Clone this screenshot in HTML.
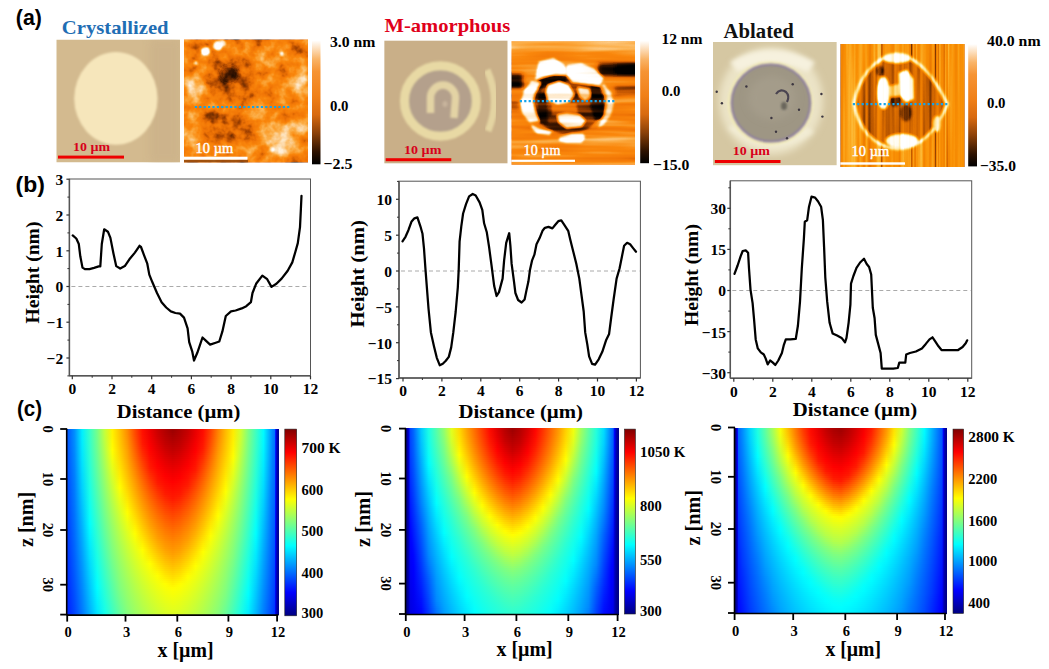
<!DOCTYPE html>
<html><head><meta charset="utf-8"><style>
html,body{margin:0;padding:0;background:#fff;}
#root{position:relative;width:1049px;height:669px;overflow:hidden;background:#fff;}
svg{position:absolute;left:0;top:0;}
</style></head><body><div id="root">
<div style="position:absolute;left:67.2px;top:429.0px;width:211.6px;height:2.6px;background:linear-gradient(90deg,#0052ff 0.00px,#0090ff 7.56px,#00f0ff 15.11px,#36ffc9 22.67px,#76ff89 30.23px,#c4ff3b 37.79px,#fff200 45.34px,#ffc100 52.90px,#ff8b00 60.46px,#ff4900 68.01px,#ff0f00 75.57px,#ec0000 83.13px,#ca0000 90.69px,#b20000 98.24px,#9c0000 105.80px,#af0000 113.36px,#c60000 120.91px,#e80000 128.47px,#ff0b00 136.03px,#ff4000 143.59px,#ff8200 151.14px,#ffbb00 158.70px,#ffeb00 166.26px,#cfff30 173.81px,#7fff80 181.37px,#3fffc0 188.93px,#00fcff 196.49px,#009cff 204.04px,#0088ff 205.60px,#0076ff 207.60px,#0011ff 208.60px,#0000cb 209.60px,#0000a3 210.60px,#000095 211.60px)"></div>
<div style="position:absolute;left:67.2px;top:431.0px;width:211.6px;height:2.6px;background:linear-gradient(90deg,#0052ff 0.00px,#008fff 7.56px,#00efff 15.11px,#36ffc9 22.67px,#76ff89 30.23px,#c4ff3b 37.79px,#fff300 45.34px,#ffc200 52.90px,#ff8c00 60.46px,#ff4a00 68.01px,#ff1000 75.57px,#ed0000 83.13px,#cc0000 90.69px,#b30000 98.24px,#9f0000 105.80px,#b10000 113.36px,#c70000 120.91px,#e90000 128.47px,#ff0c00 136.03px,#ff4100 143.59px,#ff8300 151.14px,#ffbb00 158.70px,#ffec00 166.26px,#ceff31 173.81px,#7eff81 181.37px,#3effc1 188.93px,#00fcff 196.49px,#009cff 204.04px,#0088ff 205.60px,#0076ff 207.60px,#0011ff 208.60px,#0000cb 209.60px,#0000a3 210.60px,#000095 211.60px)"></div>
<div style="position:absolute;left:67.2px;top:433.0px;width:211.6px;height:2.6px;background:linear-gradient(90deg,#0052ff 0.00px,#008fff 7.56px,#00efff 15.11px,#35ffca 22.67px,#75ff8a 30.23px,#c3ff3c 37.79px,#fff300 45.34px,#ffc300 52.90px,#ff8d00 60.46px,#ff4b00 68.01px,#ff1100 75.57px,#ef0000 83.13px,#ce0000 90.69px,#b50000 98.24px,#a30000 105.80px,#b30000 113.36px,#c90000 120.91px,#ea0000 128.47px,#ff0d00 136.03px,#ff4300 143.59px,#ff8500 151.14px,#ffbc00 158.70px,#ffed00 166.26px,#cdff32 173.81px,#7eff81 181.37px,#3effc1 188.93px,#00fcff 196.49px,#009cff 204.04px,#0088ff 205.60px,#0076ff 207.60px,#0011ff 208.60px,#0000cb 209.60px,#0000a3 210.60px,#000095 211.60px)"></div>
<div style="position:absolute;left:67.2px;top:435.0px;width:211.6px;height:2.6px;background:linear-gradient(90deg,#0052ff 0.00px,#008fff 7.56px,#00eeff 15.11px,#35ffca 22.67px,#75ff8a 30.23px,#c1ff3e 37.79px,#fff400 45.34px,#ffc400 52.90px,#ff8f00 60.46px,#ff4d00 68.01px,#ff1300 75.57px,#f10000 83.13px,#d00000 90.69px,#b80000 98.24px,#a70000 105.80px,#b50000 113.36px,#cc0000 120.91px,#ec0000 128.47px,#ff0e00 136.03px,#ff4500 143.59px,#ff8600 151.14px,#ffbd00 158.70px,#ffee00 166.26px,#ccff33 173.81px,#7dff82 181.37px,#3dffc2 188.93px,#00fbff 196.49px,#009bff 204.04px,#0087ff 205.60px,#0076ff 207.60px,#0011ff 208.60px,#0000cb 209.60px,#0000a2 210.60px,#000095 211.60px)"></div>
<div style="position:absolute;left:67.2px;top:437.0px;width:211.6px;height:2.6px;background:linear-gradient(90deg,#0052ff 0.00px,#008eff 7.56px,#00eeff 15.11px,#34ffcb 22.67px,#74ff8b 30.23px,#c0ff3f 37.79px,#fff500 45.34px,#ffc500 52.90px,#ff9100 60.46px,#ff5000 68.01px,#ff1400 75.57px,#f30000 83.13px,#d30000 90.69px,#bb0000 98.24px,#ab0000 105.80px,#b80000 113.36px,#cf0000 120.91px,#ee0000 128.47px,#ff1000 136.03px,#ff4700 143.59px,#ff8800 151.14px,#ffbe00 158.70px,#ffef00 166.26px,#cbff34 173.81px,#7dff82 181.37px,#3dffc2 188.93px,#00faff 196.49px,#009bff 204.04px,#0087ff 205.60px,#0075ff 207.60px,#0011ff 208.60px,#0000ca 209.60px,#0000a2 210.60px,#000095 211.60px)"></div>
<div style="position:absolute;left:67.2px;top:439.0px;width:211.6px;height:2.6px;background:linear-gradient(90deg,#0052ff 0.00px,#008eff 7.56px,#00edff 15.11px,#34ffcb 22.67px,#73ff8c 30.23px,#bfff40 37.79px,#fff700 45.34px,#ffc600 52.90px,#ff9300 60.46px,#ff5200 68.01px,#ff1600 75.57px,#f50000 83.13px,#d60000 90.69px,#bd0000 98.24px,#ae0000 105.80px,#bb0000 113.36px,#d20000 120.91px,#f10000 128.47px,#ff1100 136.03px,#ff4a00 143.59px,#ff8a00 151.14px,#ffc000 158.70px,#fff000 166.26px,#c9ff36 173.81px,#7cff83 181.37px,#3cffc3 188.93px,#00faff 196.49px,#009aff 204.04px,#0087ff 205.60px,#0075ff 207.60px,#0011ff 208.60px,#0000ca 209.60px,#0000a2 210.60px,#000095 211.60px)"></div>
<div style="position:absolute;left:67.2px;top:441.0px;width:211.6px;height:2.6px;background:linear-gradient(90deg,#0051ff 0.00px,#008dff 7.56px,#00ecff 15.11px,#33ffcc 22.67px,#73ff8c 30.23px,#bdff42 37.79px,#fff800 45.34px,#ffc800 52.90px,#ff9500 60.46px,#ff5500 68.01px,#ff1700 75.57px,#f70000 83.13px,#d90000 90.69px,#c00000 98.24px,#b20000 105.80px,#be0000 113.36px,#d50000 120.91px,#f30000 128.47px,#ff1300 136.03px,#ff4c00 143.59px,#ff8c00 151.14px,#ffc100 158.70px,#fff200 166.26px,#c7ff38 173.81px,#7bff84 181.37px,#3bffc4 188.93px,#00f9ff 196.49px,#009aff 204.04px,#0086ff 205.60px,#0075ff 207.60px,#0010ff 208.60px,#0000ca 209.60px,#0000a2 210.60px,#000095 211.60px)"></div>
<div style="position:absolute;left:67.2px;top:443.0px;width:211.6px;height:2.6px;background:linear-gradient(90deg,#0051ff 0.00px,#008dff 7.56px,#00ebff 15.11px,#32ffcd 22.67px,#72ff8d 30.23px,#bbff44 37.79px,#fffa00 45.34px,#ffc900 52.90px,#ff9700 60.46px,#ff5800 68.01px,#ff1900 75.57px,#fa0000 83.13px,#dc0000 90.69px,#c30000 98.24px,#b60000 105.80px,#c10000 113.36px,#d90000 120.91px,#f60000 128.47px,#ff1500 136.03px,#ff4f00 143.59px,#ff8f00 151.14px,#ffc300 158.70px,#fff300 166.26px,#c6ff39 173.81px,#7aff85 181.37px,#3bffc4 188.93px,#00f8ff 196.49px,#0099ff 204.04px,#0085ff 205.60px,#0075ff 207.60px,#0010ff 208.60px,#0000ca 209.60px,#0000a2 210.60px,#000095 211.60px)"></div>
<div style="position:absolute;left:67.2px;top:445.0px;width:211.6px;height:2.6px;background:linear-gradient(90deg,#0051ff 0.00px,#008cff 7.56px,#00eaff 15.11px,#31ffce 22.67px,#71ff8e 30.23px,#baff45 37.79px,#fffb00 45.34px,#ffcb00 52.90px,#ff9a00 60.46px,#ff5b00 68.01px,#ff1d00 75.57px,#fc0000 83.13px,#e00000 90.69px,#c70000 98.24px,#ba0000 105.80px,#c40000 113.36px,#dc0000 120.91px,#f80000 128.47px,#ff1700 136.03px,#ff5200 143.59px,#ff9100 151.14px,#ffc500 158.70px,#fff500 166.26px,#c4ff3b 173.81px,#79ff86 181.37px,#3affc5 188.93px,#00f7ff 196.49px,#0098ff 204.04px,#0085ff 205.60px,#0074ff 207.60px,#0010ff 208.60px,#0000ca 209.60px,#0000a2 210.60px,#000095 211.60px)"></div>
<div style="position:absolute;left:67.2px;top:447.0px;width:211.6px;height:2.6px;background:linear-gradient(90deg,#0050ff 0.00px,#008bff 7.56px,#00e9ff 15.11px,#31ffce 22.67px,#70ff8f 30.23px,#b8ff47 37.79px,#fffd00 45.34px,#ffcd00 52.90px,#ff9c00 60.46px,#ff5e00 68.01px,#ff2100 75.57px,#ff0000 83.13px,#e30000 90.69px,#cb0000 98.24px,#be0000 105.80px,#c80000 113.36px,#df0000 120.91px,#fb0000 128.47px,#ff1900 136.03px,#ff5600 143.59px,#ff9400 151.14px,#ffc600 158.70px,#fff700 166.26px,#c2ff3d 173.81px,#78ff87 181.37px,#39ffc6 188.93px,#00f6ff 196.49px,#0098ff 204.04px,#0084ff 205.60px,#0074ff 207.60px,#0010ff 208.60px,#0000ca 209.60px,#0000a2 210.60px,#000095 211.60px)"></div>
<div style="position:absolute;left:67.2px;top:449.0px;width:211.6px;height:2.6px;background:linear-gradient(90deg,#0050ff 0.00px,#008bff 7.56px,#00e8ff 15.11px,#30ffcf 22.67px,#6fff90 30.23px,#b6ff49 37.79px,#ffff00 45.34px,#ffcf00 52.90px,#ff9f00 60.46px,#ff6100 68.01px,#ff2500 75.57px,#ff0200 83.13px,#e60000 90.69px,#cf0000 98.24px,#c10000 105.80px,#cc0000 113.36px,#e30000 120.91px,#fd0000 128.47px,#ff1d00 136.03px,#ff5900 143.59px,#ff9600 151.14px,#ffc800 158.70px,#fff800 166.26px,#c0ff3f 173.81px,#77ff88 181.37px,#38ffc7 188.93px,#00f5ff 196.49px,#0097ff 204.04px,#0084ff 205.60px,#0074ff 207.60px,#0010ff 208.60px,#0000ca 209.60px,#0000a2 210.60px,#000095 211.60px)"></div>
<div style="position:absolute;left:67.2px;top:451.0px;width:211.6px;height:2.6px;background:linear-gradient(90deg,#0050ff 0.00px,#008aff 7.56px,#00e7ff 15.11px,#2fffd0 22.67px,#6eff91 30.23px,#b4ff4b 37.79px,#fcff03 45.34px,#ffd100 52.90px,#ffa100 60.46px,#ff6400 68.01px,#ff2900 75.57px,#ff0500 83.13px,#ea0000 90.69px,#d30000 98.24px,#c50000 105.80px,#d10000 113.36px,#e60000 120.91px,#ff0100 128.47px,#ff2100 136.03px,#ff5c00 143.59px,#ff9900 151.14px,#ffca00 158.70px,#fffa00 166.26px,#beff41 173.81px,#76ff89 181.37px,#37ffc8 188.93px,#00f4ff 196.49px,#0096ff 204.04px,#0083ff 205.60px,#0073ff 207.60px,#000fff 208.60px,#0000ca 209.60px,#0000a2 210.60px,#000095 211.60px)"></div>
<div style="position:absolute;left:67.2px;top:453.0px;width:211.6px;height:2.6px;background:linear-gradient(90deg,#004fff 0.00px,#0089ff 7.56px,#00e6ff 15.11px,#2effd1 22.67px,#6cff93 30.23px,#b2ff4d 37.79px,#faff05 45.34px,#ffd300 52.90px,#ffa300 60.46px,#ff6800 68.01px,#ff2d00 75.57px,#ff0700 83.13px,#ed0000 90.69px,#d70000 98.24px,#c90000 105.80px,#d50000 113.36px,#ea0000 120.91px,#ff0400 128.47px,#ff2500 136.03px,#ff6000 143.59px,#ff9c00 151.14px,#ffcc00 158.70px,#fffc00 166.26px,#bcff43 173.81px,#75ff8a 181.37px,#36ffc9 188.93px,#00f2ff 196.49px,#0095ff 204.04px,#0082ff 205.60px,#0073ff 207.60px,#000fff 208.60px,#0000ca 209.60px,#0000a2 210.60px,#000095 211.60px)"></div>
<div style="position:absolute;left:67.2px;top:455.0px;width:211.6px;height:2.6px;background:linear-gradient(90deg,#004fff 0.00px,#0088ff 7.56px,#00e5ff 15.11px,#2dffd2 22.67px,#6bff94 30.23px,#b0ff4f 37.79px,#f7ff08 45.34px,#ffd500 52.90px,#ffa500 60.46px,#ff6b00 68.01px,#ff3100 75.57px,#ff0a00 83.13px,#f00000 90.69px,#db0000 98.24px,#ce0000 105.80px,#d90000 113.36px,#ed0000 120.91px,#ff0700 128.47px,#ff2a00 136.03px,#ff6400 143.59px,#ff9f00 151.14px,#ffce00 158.70px,#fffe00 166.26px,#baff45 173.81px,#73ff8c 181.37px,#35ffca 188.93px,#00f1ff 196.49px,#0095ff 204.04px,#0081ff 205.60px,#0072ff 207.60px,#000fff 208.60px,#0000ca 209.60px,#0000a2 210.60px,#000095 211.60px)"></div>
<div style="position:absolute;left:67.2px;top:457.0px;width:211.6px;height:2.6px;background:linear-gradient(90deg,#004eff 0.00px,#0088ff 7.56px,#00e4ff 15.11px,#2cffd3 22.67px,#6aff95 30.23px,#aeff51 37.79px,#f4ff0b 45.34px,#ffd700 52.90px,#ffa700 60.46px,#ff6f00 68.01px,#ff3600 75.57px,#ff0d00 83.13px,#f30000 90.69px,#df0000 98.24px,#d20000 105.80px,#dd0000 113.36px,#f00000 120.91px,#ff0900 128.47px,#ff2e00 136.03px,#ff6700 143.59px,#ffa100 151.14px,#ffd100 158.70px,#fdff02 166.26px,#b7ff48 173.81px,#72ff8d 181.37px,#34ffcb 188.93px,#00f0ff 196.49px,#0094ff 204.04px,#0081ff 205.60px,#0072ff 207.60px,#000fff 208.60px,#0000c9 209.60px,#0000a2 210.60px,#000095 211.60px)"></div>
<div style="position:absolute;left:67.2px;top:459.0px;width:211.6px;height:2.6px;background:linear-gradient(90deg,#004eff 0.00px,#0087ff 7.56px,#00e3ff 15.11px,#2bffd4 22.67px,#69ff96 30.23px,#acff53 37.79px,#f1ff0e 45.34px,#ffd900 52.90px,#ffaa00 60.46px,#ff7200 68.01px,#ff3a00 75.57px,#ff0f00 83.13px,#f70000 90.69px,#e30000 98.24px,#d70000 105.80px,#e10000 113.36px,#f40000 120.91px,#ff0c00 128.47px,#ff3300 136.03px,#ff6b00 143.59px,#ffa400 151.14px,#ffd300 158.70px,#faff05 166.26px,#b5ff4a 173.81px,#71ff8e 181.37px,#33ffcc 188.93px,#00efff 196.49px,#0093ff 204.04px,#0080ff 205.60px,#0072ff 207.60px,#000eff 208.60px,#0000c9 209.60px,#0000a2 210.60px,#000095 211.60px)"></div>
<div style="position:absolute;left:67.2px;top:461.0px;width:211.6px;height:2.6px;background:linear-gradient(90deg,#004eff 0.00px,#0086ff 7.56px,#00e1ff 15.11px,#2affd5 22.67px,#67ff98 30.23px,#aaff55 37.79px,#eeff11 45.34px,#ffdc00 52.90px,#ffac00 60.46px,#ff7600 68.01px,#ff3f00 75.57px,#ff1200 83.13px,#fa0000 90.69px,#e70000 98.24px,#db0000 105.80px,#e50000 113.36px,#f70000 120.91px,#ff0f00 128.47px,#ff3700 136.03px,#ff6f00 143.59px,#ffa600 151.14px,#ffd500 158.70px,#f7ff08 166.26px,#b3ff4c 173.81px,#70ff8f 181.37px,#32ffcd 188.93px,#00edff 196.49px,#0092ff 204.04px,#007fff 205.60px,#0071ff 207.60px,#000eff 208.60px,#0000c9 209.60px,#0000a2 210.60px,#000095 211.60px)"></div>
<div style="position:absolute;left:67.2px;top:463.0px;width:211.6px;height:2.6px;background:linear-gradient(90deg,#004dff 0.00px,#0085ff 7.56px,#00e0ff 15.11px,#29ffd6 22.67px,#66ff99 30.23px,#a8ff57 37.79px,#ebff14 45.34px,#ffde00 52.90px,#ffaf00 60.46px,#ff7a00 68.01px,#ff4300 75.57px,#ff1500 83.13px,#fd0000 90.69px,#ea0000 98.24px,#df0000 105.80px,#e80000 113.36px,#fa0000 120.91px,#ff1100 128.47px,#ff3c00 136.03px,#ff7200 143.59px,#ffa900 151.14px,#ffd800 158.70px,#f3ff0c 166.26px,#b1ff4e 173.81px,#6eff91 181.37px,#31ffce 188.93px,#00ecff 196.49px,#0091ff 204.04px,#007fff 205.60px,#0071ff 207.60px,#000eff 208.60px,#0000c9 209.60px,#0000a2 210.60px,#000095 211.60px)"></div>
<div style="position:absolute;left:67.2px;top:465.0px;width:211.6px;height:2.6px;background:linear-gradient(90deg,#004dff 0.00px,#0084ff 7.56px,#00dfff 15.11px,#28ffd7 22.67px,#65ff9a 30.23px,#a6ff59 37.79px,#e8ff17 45.34px,#ffe100 52.90px,#ffb200 60.46px,#ff7d00 68.01px,#ff4700 75.57px,#ff1700 83.13px,#ff0100 90.69px,#ee0000 98.24px,#e30000 105.80px,#ec0000 113.36px,#fd0000 120.91px,#ff1400 128.47px,#ff4100 136.03px,#ff7600 143.59px,#ffab00 151.14px,#ffda00 158.70px,#f0ff0f 166.26px,#afff50 173.81px,#6dff92 181.37px,#30ffcf 188.93px,#00ebff 196.49px,#0090ff 204.04px,#007eff 205.60px,#0070ff 207.60px,#000dff 208.60px,#0000c9 209.60px,#0000a2 210.60px,#000095 211.60px)"></div>
<div style="position:absolute;left:67.2px;top:467.0px;width:211.6px;height:2.6px;background:linear-gradient(90deg,#004cff 0.00px,#0083ff 7.56px,#00ddff 15.11px,#26ffd9 22.67px,#63ff9c 30.23px,#a4ff5b 37.79px,#e5ff1a 45.34px,#ffe300 52.90px,#ffb400 60.46px,#ff8100 68.01px,#ff4c00 75.57px,#ff1a00 83.13px,#ff0400 90.69px,#f20000 98.24px,#e70000 105.80px,#f00000 113.36px,#ff0200 120.91px,#ff1700 128.47px,#ff4500 136.03px,#ff7a00 143.59px,#ffae00 151.14px,#ffdd00 158.70px,#edff12 166.26px,#acff53 173.81px,#6bff94 181.37px,#2effd1 188.93px,#00e9ff 196.49px,#008fff 204.04px,#007eff 205.60px,#0070ff 207.60px,#000dff 208.60px,#0000c9 209.60px,#0000a2 210.60px,#000095 211.60px)"></div>
<div style="position:absolute;left:67.2px;top:469.0px;width:211.6px;height:2.6px;background:linear-gradient(90deg,#004cff 0.00px,#0082ff 7.56px,#00dcff 15.11px,#25ffda 22.67px,#62ff9d 30.23px,#a1ff5e 37.79px,#e2ff1d 45.34px,#ffe600 52.90px,#ffb700 60.46px,#ff8500 68.01px,#ff5000 75.57px,#ff1f00 83.13px,#ff0700 90.69px,#f50000 98.24px,#eb0000 105.80px,#f30000 113.36px,#ff0500 120.91px,#ff1900 128.47px,#ff4a00 136.03px,#ff7e00 143.59px,#ffb100 151.14px,#ffe000 158.70px,#eaff15 166.26px,#aaff55 173.81px,#6aff95 181.37px,#2dffd2 188.93px,#00e8ff 196.49px,#008eff 204.04px,#007dff 205.60px,#006fff 207.60px,#000dff 208.60px,#0000c8 209.60px,#0000a1 210.60px,#000095 211.60px)"></div>
<div style="position:absolute;left:67.2px;top:471.0px;width:211.6px;height:2.6px;background:linear-gradient(90deg,#004bff 0.00px,#0082ff 7.56px,#00dbff 15.11px,#24ffdb 22.67px,#61ff9e 30.23px,#9fff60 37.79px,#dfff20 45.34px,#ffe900 52.90px,#ffba00 60.46px,#ff8900 68.01px,#ff5500 75.57px,#ff2400 83.13px,#ff0a00 90.69px,#f80000 98.24px,#ee0000 105.80px,#f70000 113.36px,#ff0800 120.91px,#ff1e00 128.47px,#ff4e00 136.03px,#ff8200 143.59px,#ffb400 151.14px,#ffe200 158.70px,#e7ff18 166.26px,#a8ff57 173.81px,#69ff96 181.37px,#2cffd3 188.93px,#00e7ff 196.49px,#008dff 204.04px,#007dff 205.60px,#006fff 207.60px,#000dff 208.60px,#0000c8 209.60px,#0000a1 210.60px,#000094 211.60px)"></div>
<div style="position:absolute;left:67.2px;top:473.0px;width:211.6px;height:2.6px;background:linear-gradient(90deg,#004bff 0.00px,#0081ff 7.56px,#00d9ff 15.11px,#23ffdc 22.67px,#5fffa0 30.23px,#9dff62 37.79px,#dcff23 45.34px,#ffeb00 52.90px,#ffbd00 60.46px,#ff8c00 68.01px,#ff5900 75.57px,#ff2a00 83.13px,#ff0d00 90.69px,#fc0000 98.24px,#f20000 105.80px,#fa0000 113.36px,#ff0b00 120.91px,#ff2400 128.47px,#ff5300 136.03px,#ff8600 143.59px,#ffb700 151.14px,#ffe500 158.70px,#e4ff1b 166.26px,#a6ff59 173.81px,#67ff98 181.37px,#2bffd4 188.93px,#00e5ff 196.49px,#008dff 204.04px,#007cff 205.60px,#006eff 207.60px,#000cff 208.60px,#0000c8 209.60px,#0000a1 210.60px,#000094 211.60px)"></div>
<div style="position:absolute;left:67.2px;top:475.0px;width:211.6px;height:2.6px;background:linear-gradient(90deg,#004aff 0.00px,#0080ff 7.56px,#00d8ff 15.11px,#22ffdd 22.67px,#5effa1 30.23px,#9bff64 37.79px,#d9ff26 45.34px,#ffee00 52.90px,#ffc000 60.46px,#ff9000 68.01px,#ff5e00 75.57px,#ff2f00 83.13px,#ff1000 90.69px,#ff0000 98.24px,#f50000 105.80px,#fd0000 113.36px,#ff0e00 120.91px,#ff2900 128.47px,#ff5700 136.03px,#ff8900 143.59px,#ffba00 151.14px,#ffe800 158.70px,#e1ff1e 166.26px,#a3ff5c 173.81px,#66ff99 181.37px,#2affd5 188.93px,#00e4ff 196.49px,#008cff 204.04px,#007cff 205.60px,#006eff 207.60px,#000cff 208.60px,#0000c8 209.60px,#0000a1 210.60px,#000094 211.60px)"></div>
<div style="position:absolute;left:67.2px;top:477.0px;width:211.6px;height:2.6px;background:linear-gradient(90deg,#004aff 0.00px,#007fff 7.56px,#00d7ff 15.11px,#20ffdf 22.67px,#5cffa3 30.23px,#99ff66 37.79px,#d6ff29 45.34px,#fff100 52.90px,#ffc300 60.46px,#ff9400 68.01px,#ff6200 75.57px,#ff3400 83.13px,#ff1300 90.69px,#ff0300 98.24px,#f90000 105.80px,#ff0100 113.36px,#ff1000 120.91px,#ff2e00 128.47px,#ff5c00 136.03px,#ff8d00 143.59px,#ffbd00 151.14px,#ffeb00 158.70px,#deff21 166.26px,#a1ff5e 173.81px,#64ff9b 181.37px,#28ffd7 188.93px,#00e2ff 196.49px,#008bff 204.04px,#007bff 205.60px,#006dff 207.60px,#000cff 208.60px,#0000c8 209.60px,#0000a1 210.60px,#000094 211.60px)"></div>
<div style="position:absolute;left:67.2px;top:479.0px;width:211.6px;height:2.6px;background:linear-gradient(90deg,#0049ff 0.00px,#007fff 7.56px,#00d5ff 15.11px,#1fffe0 22.67px,#5bffa4 30.23px,#97ff68 37.79px,#d3ff2c 45.34px,#fff400 52.90px,#ffc600 60.46px,#ff9800 68.01px,#ff6700 75.57px,#ff3900 83.13px,#ff1500 90.69px,#ff0600 98.24px,#fc0000 105.80px,#ff0500 113.36px,#ff1300 120.91px,#ff3400 128.47px,#ff6000 136.03px,#ff9100 143.59px,#ffc000 151.14px,#ffee00 158.70px,#dbff24 166.26px,#9fff60 173.81px,#62ff9d 181.37px,#27ffd8 188.93px,#00e1ff 196.49px,#008aff 204.04px,#007bff 205.60px,#006cff 207.60px,#000bff 208.60px,#0000c8 209.60px,#0000a1 210.60px,#000094 211.60px)"></div>
<div style="position:absolute;left:67.2px;top:481.0px;width:211.6px;height:2.6px;background:linear-gradient(90deg,#0049ff 0.00px,#007eff 7.56px,#00d4ff 15.11px,#1effe1 22.67px,#59ffa6 30.23px,#95ff6a 37.79px,#d0ff2f 45.34px,#fff700 52.90px,#ffc900 60.46px,#ff9b00 68.01px,#ff6b00 75.57px,#ff3e00 83.13px,#ff1800 90.69px,#ff0900 98.24px,#ff0000 105.80px,#ff0800 113.36px,#ff1600 120.91px,#ff3900 128.47px,#ff6500 136.03px,#ff9500 143.59px,#ffc300 151.14px,#fff100 158.70px,#d8ff27 166.26px,#9dff62 173.81px,#61ff9e 181.37px,#26ffd9 188.93px,#00dfff 196.49px,#0088ff 204.04px,#007aff 205.60px,#006cff 207.60px,#000bff 208.60px,#0000c7 209.60px,#0000a1 210.60px,#000094 211.60px)"></div>
<div style="position:absolute;left:67.2px;top:483.0px;width:211.6px;height:2.6px;background:linear-gradient(90deg,#0048ff 0.00px,#007dff 7.56px,#00d2ff 15.11px,#1cffe3 22.67px,#58ffa7 30.23px,#93ff6c 37.79px,#cdff32 45.34px,#fffa00 52.90px,#ffcc00 60.46px,#ff9f00 68.01px,#ff6f00 75.57px,#ff4300 83.13px,#ff1c00 90.69px,#ff0c00 98.24px,#ff0400 105.80px,#ff0b00 113.36px,#ff1900 120.91px,#ff3e00 128.47px,#ff6900 136.03px,#ff9900 143.59px,#ffc600 151.14px,#fff400 158.70px,#d5ff2a 166.26px,#9bff64 173.81px,#5fffa0 181.37px,#24ffdb 188.93px,#00deff 196.49px,#0087ff 204.04px,#0079ff 205.60px,#006bff 207.60px,#000bff 208.60px,#0000c7 209.60px,#0000a1 210.60px,#000094 211.60px)"></div>
<div style="position:absolute;left:67.2px;top:485.0px;width:211.6px;height:2.6px;background:linear-gradient(90deg,#0047ff 0.00px,#007dff 7.56px,#00d1ff 15.11px,#1bffe4 22.67px,#56ffa9 30.23px,#91ff6e 37.79px,#caff35 45.34px,#fffd00 52.90px,#ffcf00 60.46px,#ffa200 68.01px,#ff7400 75.57px,#ff4800 83.13px,#ff2200 90.69px,#ff0f00 98.24px,#ff0700 105.80px,#ff0e00 113.36px,#ff1d00 120.91px,#ff4300 128.47px,#ff6e00 136.03px,#ff9c00 143.59px,#ffc900 151.14px,#fff700 158.70px,#d2ff2d 166.26px,#98ff67 173.81px,#5effa1 181.37px,#23ffdc 188.93px,#00dcff 196.49px,#0086ff 204.04px,#0079ff 205.60px,#006bff 207.60px,#000aff 208.60px,#0000c7 209.60px,#0000a1 210.60px,#000094 211.60px)"></div>
<div style="position:absolute;left:67.2px;top:487.0px;width:211.6px;height:2.6px;background:linear-gradient(90deg,#0047ff 0.00px,#007cff 7.56px,#00d0ff 15.11px,#1affe5 22.67px,#54ffab 30.23px,#8fff70 37.79px,#c8ff37 45.34px,#feff01 52.90px,#ffd300 60.46px,#ffa600 68.01px,#ff7800 75.57px,#ff4d00 83.13px,#ff2800 90.69px,#ff1200 98.24px,#ff0a00 105.80px,#ff1100 113.36px,#ff2300 120.91px,#ff4800 128.47px,#ff7200 136.03px,#ffa000 143.59px,#ffcd00 151.14px,#fffa00 158.70px,#cfff30 166.26px,#96ff69 173.81px,#5cffa3 181.37px,#22ffdd 188.93px,#00dbff 196.49px,#0085ff 204.04px,#0078ff 205.60px,#006aff 207.60px,#000aff 208.60px,#0000c7 209.60px,#0000a1 210.60px,#000094 211.60px)"></div>
<div style="position:absolute;left:67.2px;top:489.0px;width:211.6px;height:2.6px;background:linear-gradient(90deg,#0046ff 0.00px,#007bff 7.56px,#00ceff 15.11px,#18ffe7 22.67px,#53ffac 30.23px,#8dff72 37.79px,#c5ff3a 45.34px,#faff05 52.90px,#ffd600 60.46px,#ffa900 68.01px,#ff7c00 75.57px,#ff5200 83.13px,#ff2d00 90.69px,#ff1500 98.24px,#ff0d00 105.80px,#ff1300 113.36px,#ff2900 120.91px,#ff4d00 128.47px,#ff7600 136.03px,#ffa400 143.59px,#ffd000 151.14px,#fffd00 158.70px,#ccff33 166.26px,#94ff6b 173.81px,#5affa5 181.37px,#20ffdf 188.93px,#00d9ff 196.49px,#0084ff 204.04px,#0078ff 205.60px,#0069ff 207.60px,#0009ff 208.60px,#0000c7 209.60px,#0000a1 210.60px,#000094 211.60px)"></div>
<div style="position:absolute;left:67.2px;top:491.0px;width:211.6px;height:2.6px;background:linear-gradient(90deg,#0046ff 0.00px,#007bff 7.56px,#00cdff 15.11px,#17ffe8 22.67px,#51ffae 30.23px,#8bff74 37.79px,#c2ff3d 45.34px,#f7ff08 52.90px,#ffd900 60.46px,#ffad00 68.01px,#ff8100 75.57px,#ff5700 83.13px,#ff3300 90.69px,#ff1800 98.24px,#ff1000 105.80px,#ff1600 113.36px,#ff2e00 120.91px,#ff5200 128.47px,#ff7b00 136.03px,#ffa700 143.59px,#ffd300 151.14px,#fdff02 158.70px,#c9ff36 166.26px,#92ff6d 173.81px,#59ffa6 181.37px,#1fffe0 188.93px,#00d8ff 196.49px,#0083ff 204.04px,#0077ff 205.60px,#0069ff 207.60px,#0009ff 208.60px,#0000c6 209.60px,#0000a0 210.60px,#000094 211.60px)"></div>
<div style="position:absolute;left:67.2px;top:493.0px;width:211.6px;height:2.6px;background:linear-gradient(90deg,#0045ff 0.00px,#007aff 7.56px,#00cbff 15.11px,#16ffe9 22.67px,#50ffaf 30.23px,#89ff76 37.79px,#bfff40 45.34px,#f3ff0c 52.90px,#ffdd00 60.46px,#ffb000 68.01px,#ff8500 75.57px,#ff5c00 83.13px,#ff3800 90.69px,#ff1b00 98.24px,#ff1300 105.80px,#ff1900 113.36px,#ff3400 120.91px,#ff5700 128.47px,#ff7f00 136.03px,#ffab00 143.59px,#ffd700 151.14px,#faff05 158.70px,#c6ff39 166.26px,#90ff6f 173.81px,#57ffa8 181.37px,#1dffe2 188.93px,#00d6ff 196.49px,#0082ff 204.04px,#0076ff 205.60px,#0068ff 207.60px,#0009ff 208.60px,#0000c6 209.60px,#0000a0 210.60px,#000094 211.60px)"></div>
<div style="position:absolute;left:67.2px;top:495.0px;width:211.6px;height:2.6px;background:linear-gradient(90deg,#0044ff 0.00px,#007aff 7.56px,#00caff 15.11px,#14ffeb 22.67px,#4effb1 30.23px,#87ff78 37.79px,#bdff42 45.34px,#f0ff0f 52.90px,#ffe000 60.46px,#ffb400 68.01px,#ff8900 75.57px,#ff6100 83.13px,#ff3d00 90.69px,#ff2100 98.24px,#ff1500 105.80px,#ff1e00 113.36px,#ff3900 120.91px,#ff5c00 128.47px,#ff8300 136.03px,#ffae00 143.59px,#ffda00 151.14px,#f6ff09 158.70px,#c4ff3b 166.26px,#8eff71 173.81px,#55ffaa 181.37px,#1cffe3 188.93px,#00d5ff 196.49px,#0081ff 204.04px,#0076ff 205.60px,#0068ff 207.60px,#0008ff 208.60px,#0000c6 209.60px,#0000a0 210.60px,#000094 211.60px)"></div>
<div style="position:absolute;left:67.2px;top:497.0px;width:211.6px;height:2.6px;background:linear-gradient(90deg,#0044ff 0.00px,#0079ff 7.56px,#00c8ff 15.11px,#13ffec 22.67px,#4cffb3 30.23px,#85ff7a 37.79px,#baff45 45.34px,#ecff13 52.90px,#ffe400 60.46px,#ffb800 68.01px,#ff8d00 75.57px,#ff6500 83.13px,#ff4200 90.69px,#ff2700 98.24px,#ff1800 105.80px,#ff2400 113.36px,#ff3e00 120.91px,#ff6000 128.47px,#ff8800 136.03px,#ffb200 143.59px,#ffde00 151.14px,#f3ff0c 158.70px,#c1ff3e 166.26px,#8cff73 173.81px,#54ffab 181.37px,#1bffe4 188.93px,#00d3ff 196.49px,#0080ff 204.04px,#0075ff 205.60px,#0067ff 207.60px,#0008ff 208.60px,#0000c6 209.60px,#0000a0 210.60px,#000094 211.60px)"></div>
<div style="position:absolute;left:67.2px;top:499.0px;width:211.6px;height:2.6px;background:linear-gradient(90deg,#0043ff 0.00px,#0078ff 7.56px,#00c7ff 15.11px,#12ffed 22.67px,#4bffb4 30.23px,#83ff7c 37.79px,#b8ff47 45.34px,#e9ff16 52.90px,#ffe700 60.46px,#ffbc00 68.01px,#ff9100 75.57px,#ff6a00 83.13px,#ff4800 90.69px,#ff2c00 98.24px,#ff1c00 105.80px,#ff2900 113.36px,#ff4400 120.91px,#ff6500 128.47px,#ff8c00 136.03px,#ffb600 143.59px,#ffe100 151.14px,#efff10 158.70px,#beff41 166.26px,#8aff75 173.81px,#52ffad 181.37px,#19ffe6 188.93px,#00d1ff 196.49px,#007fff 204.04px,#0074ff 205.60px,#0066ff 207.60px,#0008ff 208.60px,#0000c6 209.60px,#0000a0 210.60px,#000094 211.60px)"></div>
<div style="position:absolute;left:67.2px;top:501.0px;width:211.6px;height:2.6px;background:linear-gradient(90deg,#0042ff 0.00px,#0077ff 7.56px,#00c5ff 15.11px,#10ffef 22.67px,#49ffb6 30.23px,#81ff7e 37.79px,#b5ff4a 45.34px,#e6ff19 52.90px,#ffeb00 60.46px,#ffbf00 68.01px,#ff9500 75.57px,#ff6f00 83.13px,#ff4d00 90.69px,#ff3200 98.24px,#ff2200 105.80px,#ff2f00 113.36px,#ff4900 120.91px,#ff6a00 128.47px,#ff9000 136.03px,#ffba00 143.59px,#ffe500 151.14px,#ecff13 158.70px,#bcff43 166.26px,#88ff77 173.81px,#50ffaf 181.37px,#18ffe7 188.93px,#00d0ff 196.49px,#007eff 204.04px,#0074ff 205.60px,#0066ff 207.60px,#0007ff 208.60px,#0000c5 209.60px,#0000a0 210.60px,#000094 211.60px)"></div>
<div style="position:absolute;left:67.2px;top:503.0px;width:211.6px;height:2.6px;background:linear-gradient(90deg,#0042ff 0.00px,#0077ff 7.56px,#00c4ff 15.11px,#0ffff0 22.67px,#47ffb8 30.23px,#7fff80 37.79px,#b2ff4d 45.34px,#e3ff1c 52.90px,#ffef00 60.46px,#ffc300 68.01px,#ff9900 75.57px,#ff7300 83.13px,#ff5200 90.69px,#ff3700 98.24px,#ff2800 105.80px,#ff3400 113.36px,#ff4e00 120.91px,#ff6e00 128.47px,#ff9400 136.03px,#ffbd00 143.59px,#ffe900 151.14px,#e9ff16 158.70px,#b9ff46 166.26px,#86ff79 173.81px,#4fffb0 181.37px,#16ffe9 188.93px,#00ceff 196.49px,#007eff 204.04px,#0073ff 205.60px,#0065ff 207.60px,#0007ff 208.60px,#0000c5 209.60px,#0000a0 210.60px,#000094 211.60px)"></div>
<div style="position:absolute;left:67.2px;top:505.0px;width:211.6px;height:2.6px;background:linear-gradient(90deg,#0041ff 0.00px,#0076ff 7.56px,#00c2ff 15.11px,#0dfff2 22.67px,#46ffb9 30.23px,#7dff82 37.79px,#b0ff4f 45.34px,#dfff20 52.90px,#fff200 60.46px,#ffc700 68.01px,#ff9d00 75.57px,#ff7800 83.13px,#ff5700 90.69px,#ff3d00 98.24px,#ff2d00 105.80px,#ff3a00 113.36px,#ff5300 120.91px,#ff7300 128.47px,#ff9800 136.03px,#ffc100 143.59px,#ffec00 151.14px,#e5ff1a 158.70px,#b6ff49 166.26px,#84ff7b 173.81px,#4dffb2 181.37px,#15ffea 188.93px,#00cdff 196.49px,#007dff 204.04px,#0072ff 205.60px,#0064ff 207.60px,#0006ff 208.60px,#0000c5 209.60px,#0000a0 210.60px,#000093 211.60px)"></div>
<div style="position:absolute;left:67.2px;top:507.0px;width:211.6px;height:2.6px;background:linear-gradient(90deg,#0040ff 0.00px,#0075ff 7.56px,#00c1ff 15.11px,#0cfff3 22.67px,#44ffbb 30.23px,#7bff84 37.79px,#adff52 45.34px,#dcff23 52.90px,#fff600 60.46px,#ffcb00 68.01px,#ffa100 75.57px,#ff7c00 83.13px,#ff5c00 90.69px,#ff4200 98.24px,#ff3300 105.80px,#ff3f00 113.36px,#ff5800 120.91px,#ff7700 128.47px,#ff9c00 136.03px,#ffc500 143.59px,#fff000 151.14px,#e2ff1d 158.70px,#b4ff4b 166.26px,#82ff7d 173.81px,#4bffb4 181.37px,#13ffec 188.93px,#00cbff 196.49px,#007cff 204.04px,#0071ff 205.60px,#0063ff 207.60px,#0006ff 208.60px,#0000c5 209.60px,#0000a0 210.60px,#000093 211.60px)"></div>
<div style="position:absolute;left:67.2px;top:509.0px;width:211.6px;height:2.6px;background:linear-gradient(90deg,#0040ff 0.00px,#0075ff 7.56px,#00bfff 15.11px,#0afff5 22.67px,#42ffbd 30.23px,#79ff86 37.79px,#abff54 45.34px,#d9ff26 52.90px,#fffa00 60.46px,#ffcf00 68.01px,#ffa500 75.57px,#ff8000 83.13px,#ff6100 90.69px,#ff4700 98.24px,#ff3800 105.80px,#ff4500 113.36px,#ff5d00 120.91px,#ff7c00 128.47px,#ffa000 136.03px,#ffc900 143.59px,#fff400 151.14px,#dfff20 158.70px,#b1ff4e 166.26px,#80ff7f 173.81px,#4affb5 181.37px,#12ffed 188.93px,#00caff 196.49px,#007cff 204.04px,#0071ff 205.60px,#0063ff 207.60px,#0005ff 208.60px,#0000c4 209.60px,#0000a0 210.60px,#000093 211.60px)"></div>
<div style="position:absolute;left:67.2px;top:511.0px;width:211.6px;height:2.6px;background:linear-gradient(90deg,#003fff 0.00px,#0074ff 7.56px,#00beff 15.11px,#09fff6 22.67px,#41ffbe 30.23px,#77ff88 37.79px,#a9ff56 45.34px,#d6ff29 52.90px,#fffd00 60.46px,#ffd300 68.01px,#ffaa00 75.57px,#ff8500 83.13px,#ff6500 90.69px,#ff4c00 98.24px,#ff3e00 105.80px,#ff4a00 113.36px,#ff6200 120.91px,#ff8000 128.47px,#ffa400 136.03px,#ffcd00 143.59px,#fff800 151.14px,#dcff23 158.70px,#afff50 166.26px,#7eff81 173.81px,#48ffb7 181.37px,#10ffef 188.93px,#00c8ff 196.49px,#007bff 204.04px,#0070ff 205.60px,#0062ff 207.60px,#0005ff 208.60px,#0000c4 209.60px,#00009f 210.60px,#000093 211.60px)"></div>
<div style="position:absolute;left:67.2px;top:513.0px;width:211.6px;height:2.6px;background:linear-gradient(90deg,#003eff 0.00px,#0073ff 7.56px,#00bcff 15.11px,#08fff7 22.67px,#3fffc0 30.23px,#75ff8a 37.79px,#a6ff59 45.34px,#d3ff2c 52.90px,#fdff02 60.46px,#ffd700 68.01px,#ffae00 75.57px,#ff8900 83.13px,#ff6a00 90.69px,#ff5100 98.24px,#ff4300 105.80px,#ff4f00 113.36px,#ff6600 120.91px,#ff8500 128.47px,#ffa800 136.03px,#ffd100 143.59px,#fffc00 151.14px,#d9ff26 158.70px,#acff53 166.26px,#7cff83 173.81px,#46ffb9 181.37px,#0ffff0 188.93px,#00c7ff 196.49px,#007aff 204.04px,#006fff 205.60px,#0061ff 207.60px,#0005ff 208.60px,#0000c4 209.60px,#00009f 210.60px,#000093 211.60px)"></div>
<div style="position:absolute;left:67.2px;top:515.0px;width:211.6px;height:2.6px;background:linear-gradient(90deg,#003eff 0.00px,#0072ff 7.56px,#00bbff 15.11px,#06fff9 22.67px,#3dffc2 30.23px,#73ff8c 37.79px,#a4ff5b 45.34px,#d0ff2f 52.90px,#f9ff06 60.46px,#ffdb00 68.01px,#ffb200 75.57px,#ff8d00 83.13px,#ff6f00 90.69px,#ff5700 98.24px,#ff4800 105.80px,#ff5400 113.36px,#ff6b00 120.91px,#ff8900 128.47px,#ffad00 136.03px,#ffd500 143.59px,#ffff00 151.14px,#d6ff29 158.70px,#aaff55 166.26px,#7aff85 173.81px,#44ffbb 181.37px,#0dfff2 188.93px,#00c5ff 196.49px,#0079ff 204.04px,#006fff 205.60px,#0061ff 207.60px,#0004ff 208.60px,#0000c4 209.60px,#00009f 210.60px,#000093 211.60px)"></div>
<div style="position:absolute;left:67.2px;top:517.0px;width:211.6px;height:2.6px;background:linear-gradient(90deg,#003dff 0.00px,#0072ff 7.56px,#00b9ff 15.11px,#05fffa 22.67px,#3bffc4 30.23px,#71ff8e 37.79px,#a1ff5e 45.34px,#cdff32 52.90px,#f6ff09 60.46px,#ffdf00 68.01px,#ffb600 75.57px,#ff9100 83.13px,#ff7300 90.69px,#ff5b00 98.24px,#ff4d00 105.80px,#ff5900 113.36px,#ff7000 120.91px,#ff8d00 128.47px,#ffb100 136.03px,#ffd900 143.59px,#fbff04 151.14px,#d3ff2c 158.70px,#a7ff58 166.26px,#78ff87 173.81px,#43ffbc 181.37px,#0cfff3 188.93px,#00c3ff 196.49px,#0079ff 204.04px,#006eff 205.60px,#0060ff 207.60px,#0004ff 208.60px,#0000c4 209.60px,#00009f 210.60px,#000093 211.60px)"></div>
<div style="position:absolute;left:67.2px;top:519.0px;width:211.6px;height:2.6px;background:linear-gradient(90deg,#003cff 0.00px,#0071ff 7.56px,#00b8ff 15.11px,#03fffc 22.67px,#3affc5 30.23px,#6fff90 37.79px,#9fff60 45.34px,#cbff34 52.90px,#f3ff0c 60.46px,#ffe300 68.01px,#ffbb00 75.57px,#ff9600 83.13px,#ff7800 90.69px,#ff6000 98.24px,#ff5200 105.80px,#ff5e00 113.36px,#ff7400 120.91px,#ff9100 128.47px,#ffb500 136.03px,#ffdd00 143.59px,#f8ff07 151.14px,#d0ff2f 158.70px,#a5ff5a 166.26px,#76ff89 173.81px,#41ffbe 181.37px,#0afff5 188.93px,#00c2ff 196.49px,#0078ff 204.04px,#006dff 205.60px,#005fff 207.60px,#0003ff 208.60px,#0000c3 209.60px,#00009f 210.60px,#000093 211.60px)"></div>
<div style="position:absolute;left:67.2px;top:521.0px;width:211.6px;height:2.6px;background:linear-gradient(90deg,#003cff 0.00px,#0070ff 7.56px,#00b6ff 15.11px,#02fffd 22.67px,#38ffc7 30.23px,#6dff92 37.79px,#9dff62 45.34px,#c8ff37 52.90px,#efff10 60.46px,#ffe700 68.01px,#ffbf00 75.57px,#ff9a00 83.13px,#ff7c00 90.69px,#ff6500 98.24px,#ff5700 105.80px,#ff6300 113.36px,#ff7900 120.91px,#ff9500 128.47px,#ffba00 136.03px,#ffe200 143.59px,#f4ff0b 151.14px,#cdff32 158.70px,#a3ff5c 166.26px,#74ff8b 173.81px,#3fffc0 181.37px,#09fff6 188.93px,#00c0ff 196.49px,#0077ff 204.04px,#006cff 205.60px,#005eff 207.60px,#0003ff 208.60px,#0000c3 209.60px,#00009f 210.60px,#000093 211.60px)"></div>
<div style="position:absolute;left:67.2px;top:523.0px;width:211.6px;height:2.6px;background:linear-gradient(90deg,#003bff 0.00px,#006fff 7.56px,#00b5ff 15.11px,#00ffff 22.67px,#36ffc9 30.23px,#6bff94 37.79px,#9bff64 45.34px,#c5ff3a 52.90px,#ecff13 60.46px,#ffeb00 68.01px,#ffc300 75.57px,#ff9e00 83.13px,#ff8100 90.69px,#ff6a00 98.24px,#ff5c00 105.80px,#ff6700 113.36px,#ff7d00 120.91px,#ff9a00 128.47px,#ffbe00 136.03px,#ffe600 143.59px,#f1ff0e 151.14px,#caff35 158.70px,#a0ff5f 166.26px,#72ff8d 173.81px,#3dffc2 181.37px,#07fff8 188.93px,#00bfff 196.49px,#0076ff 204.04px,#006bff 205.60px,#005eff 207.60px,#0002ff 208.60px,#0000c3 209.60px,#00009f 210.60px,#000093 211.60px)"></div>
<div style="position:absolute;left:67.2px;top:525.0px;width:211.6px;height:2.6px;background:linear-gradient(90deg,#003aff 0.00px,#006fff 7.56px,#00b3ff 15.11px,#00fdff 22.67px,#35ffca 30.23px,#69ff96 37.79px,#98ff67 45.34px,#c2ff3d 52.90px,#e9ff16 60.46px,#fff000 68.01px,#ffc800 75.57px,#ffa200 83.13px,#ff8500 90.69px,#ff6e00 98.24px,#ff6100 105.80px,#ff6c00 113.36px,#ff8200 120.91px,#ff9e00 128.47px,#ffc200 136.03px,#ffea00 143.59px,#eeff11 151.14px,#c8ff37 158.70px,#9eff61 166.26px,#70ff8f 173.81px,#3cffc3 181.37px,#06fff9 188.93px,#00bdff 196.49px,#0076ff 204.04px,#006bff 205.60px,#005dff 207.60px,#0002ff 208.60px,#0000c3 209.60px,#00009f 210.60px,#000093 211.60px)"></div>
<div style="position:absolute;left:67.2px;top:527.0px;width:211.6px;height:2.6px;background:linear-gradient(90deg,#0039ff 0.00px,#006eff 7.56px,#00b2ff 15.11px,#00fbff 22.67px,#33ffcc 30.23px,#67ff98 37.79px,#96ff69 45.34px,#c0ff3f 52.90px,#e6ff19 60.46px,#fff400 68.01px,#ffcc00 75.57px,#ffa700 83.13px,#ff8900 90.69px,#ff7300 98.24px,#ff6600 105.80px,#ff7100 113.36px,#ff8600 120.91px,#ffa200 128.47px,#ffc700 136.03px,#ffee00 143.59px,#eaff15 151.14px,#c5ff3a 158.70px,#9cff63 166.26px,#6eff91 173.81px,#3affc5 181.37px,#04fffb 188.93px,#00bcff 196.49px,#0075ff 204.04px,#006aff 205.60px,#005cff 207.60px,#0001ff 208.60px,#0000c2 209.60px,#00009f 210.60px,#000093 211.60px)"></div>
<div style="position:absolute;left:67.2px;top:529.0px;width:211.6px;height:2.6px;background:linear-gradient(90deg,#0039ff 0.00px,#006dff 7.56px,#00b0ff 15.11px,#00f9ff 22.67px,#31ffce 30.23px,#65ff9a 37.79px,#94ff6b 45.34px,#bdff42 52.90px,#e3ff1c 60.46px,#fff800 68.01px,#ffd000 75.57px,#ffac00 83.13px,#ff8e00 90.69px,#ff7800 98.24px,#ff6b00 105.80px,#ff7500 113.36px,#ff8a00 120.91px,#ffa700 128.47px,#ffcb00 136.03px,#fff300 143.59px,#e7ff18 151.14px,#c2ff3d 158.70px,#9aff65 166.26px,#6cff93 173.81px,#38ffc7 181.37px,#03fffc 188.93px,#00baff 196.49px,#0074ff 204.04px,#0069ff 205.60px,#005bff 207.60px,#0001ff 208.60px,#0000c2 209.60px,#00009e 210.60px,#000093 211.60px)"></div>
<div style="position:absolute;left:67.2px;top:531.0px;width:211.6px;height:2.6px;background:linear-gradient(90deg,#0038ff 0.00px,#006cff 7.56px,#00afff 15.11px,#00f8ff 22.67px,#2fffd0 30.23px,#63ff9c 37.79px,#92ff6d 45.34px,#baff45 52.90px,#dfff20 60.46px,#fffc00 68.01px,#ffd500 75.57px,#ffb000 83.13px,#ff9200 90.69px,#ff7c00 98.24px,#ff6f00 105.80px,#ff7a00 113.36px,#ff8f00 120.91px,#ffac00 128.47px,#ffd000 136.03px,#fff700 143.59px,#e4ff1b 151.14px,#c0ff3f 158.70px,#98ff67 166.26px,#6aff95 173.81px,#36ffc9 181.37px,#01fffe 188.93px,#00b9ff 196.49px,#0073ff 204.04px,#0068ff 205.60px,#005aff 207.60px,#0000ff 208.60px,#0000c2 209.60px,#00009e 210.60px,#000093 211.60px)"></div>
<div style="position:absolute;left:67.2px;top:533.0px;width:211.6px;height:2.6px;background:linear-gradient(90deg,#0037ff 0.00px,#006bff 7.56px,#00adff 15.11px,#00f6ff 22.67px,#2effd1 30.23px,#61ff9e 37.79px,#90ff6f 45.34px,#b8ff47 52.90px,#dcff23 60.46px,#feff01 68.01px,#ffd900 75.57px,#ffb500 83.13px,#ff9600 90.69px,#ff8000 98.24px,#ff7400 105.80px,#ff7e00 113.36px,#ff9300 120.91px,#ffb000 128.47px,#ffd400 136.03px,#fffb00 143.59px,#e1ff1e 151.14px,#bdff42 158.70px,#95ff6a 166.26px,#68ff97 173.81px,#34ffcb 181.37px,#00ffff 188.93px,#00b7ff 196.49px,#0072ff 204.04px,#0068ff 205.60px,#005aff 207.60px,#0000ff 208.60px,#0000c2 209.60px,#00009e 210.60px,#000092 211.60px)"></div>
<div style="position:absolute;left:67.2px;top:535.0px;width:211.6px;height:2.6px;background:linear-gradient(90deg,#0037ff 0.00px,#006bff 7.56px,#00acff 15.11px,#00f4ff 22.67px,#2cffd3 30.23px,#5fffa0 37.79px,#8eff71 45.34px,#b5ff4a 52.90px,#daff25 60.46px,#faff05 68.01px,#ffde00 75.57px,#ffba00 83.13px,#ff9a00 90.69px,#ff8500 98.24px,#ff7800 105.80px,#ff8300 113.36px,#ff9700 120.91px,#ffb500 128.47px,#ffd900 136.03px,#feff01 143.59px,#deff21 151.14px,#baff45 158.70px,#93ff6c 166.26px,#66ff99 173.81px,#33ffcc 181.37px,#00fdff 188.93px,#00b6ff 196.49px,#0071ff 204.04px,#0067ff 205.60px,#0059ff 207.60px,#0000fe 208.60px,#0000c1 209.60px,#00009e 210.60px,#000092 211.60px)"></div>
<div style="position:absolute;left:67.2px;top:537.0px;width:211.6px;height:2.6px;background:linear-gradient(90deg,#0036ff 0.00px,#006aff 7.56px,#00aaff 15.11px,#00f2ff 22.67px,#2affd5 30.23px,#5dffa2 37.79px,#8cff73 45.34px,#b3ff4c 52.90px,#d7ff28 60.46px,#f7ff08 68.01px,#ffe300 75.57px,#ffbe00 83.13px,#ff9e00 90.69px,#ff8900 98.24px,#ff7d00 105.80px,#ff8700 113.36px,#ff9b00 120.91px,#ffba00 128.47px,#ffde00 136.03px,#fbff04 143.59px,#dbff24 151.14px,#b8ff47 158.70px,#91ff6e 166.26px,#64ff9b 173.81px,#31ffce 181.37px,#00fbff 188.93px,#00b4ff 196.49px,#0071ff 204.04px,#0066ff 205.60px,#0058ff 207.60px,#0000fe 208.60px,#0000c1 209.60px,#00009e 210.60px,#000092 211.60px)"></div>
<div style="position:absolute;left:67.2px;top:539.0px;width:211.6px;height:2.6px;background:linear-gradient(90deg,#0036ff 0.00px,#0069ff 7.56px,#00a9ff 15.11px,#00f0ff 22.67px,#28ffd7 30.23px,#5bffa4 37.79px,#8aff75 45.34px,#b1ff4e 52.90px,#d4ff2b 60.46px,#f4ff0b 68.01px,#ffe700 75.57px,#ffc300 83.13px,#ffa300 90.69px,#ff8d00 98.24px,#ff8100 105.80px,#ff8b00 113.36px,#ff9f00 120.91px,#ffbf00 128.47px,#ffe200 136.03px,#f8ff07 143.59px,#d8ff27 151.14px,#b5ff4a 158.70px,#8fff70 166.26px,#62ff9d 173.81px,#2fffd0 181.37px,#00f9ff 188.93px,#00b2ff 196.49px,#0070ff 204.04px,#0065ff 205.60px,#0057ff 207.60px,#0000fe 208.60px,#0000c1 209.60px,#00009e 210.60px,#000092 211.60px)"></div>
<div style="position:absolute;left:67.2px;top:541.0px;width:211.6px;height:2.6px;background:linear-gradient(90deg,#0035ff 0.00px,#0068ff 7.56px,#00a7ff 15.11px,#00eeff 22.67px,#27ffd8 30.23px,#59ffa6 37.79px,#88ff77 45.34px,#aeff51 52.90px,#d1ff2e 60.46px,#f1ff0e 68.01px,#ffec00 75.57px,#ffc800 83.13px,#ffa800 90.69px,#ff9200 98.24px,#ff8600 105.80px,#ff8f00 113.36px,#ffa400 120.91px,#ffc400 128.47px,#ffe700 136.03px,#f4ff0b 143.59px,#d5ff2a 151.14px,#b3ff4c 158.70px,#8dff72 166.26px,#60ff9f 173.81px,#2dffd2 181.37px,#00f7ff 188.93px,#00b1ff 196.49px,#006fff 204.04px,#0064ff 205.60px,#0056ff 207.60px,#0000fd 208.60px,#0000c1 209.60px,#00009e 210.60px,#000092 211.60px)"></div>
<div style="position:absolute;left:67.2px;top:543.0px;width:211.6px;height:2.6px;background:linear-gradient(90deg,#0035ff 0.00px,#0067ff 7.56px,#00a6ff 15.11px,#00ecff 22.67px,#25ffda 30.23px,#57ffa8 37.79px,#86ff79 45.34px,#acff53 52.90px,#ceff31 60.46px,#edff12 68.01px,#fff100 75.57px,#ffcd00 83.13px,#ffad00 90.69px,#ff9600 98.24px,#ff8a00 105.80px,#ff9300 113.36px,#ffa900 120.91px,#ffc800 128.47px,#ffec00 136.03px,#f1ff0e 143.59px,#d3ff2c 151.14px,#b0ff4f 158.70px,#8bff74 166.26px,#5dffa2 173.81px,#2cffd3 181.37px,#00f5ff 188.93px,#00afff 196.49px,#006eff 204.04px,#0063ff 205.60px,#0056ff 207.60px,#0000fd 208.60px,#0000c0 209.60px,#00009e 210.60px,#000092 211.60px)"></div>
<div style="position:absolute;left:67.2px;top:545.0px;width:211.6px;height:2.6px;background:linear-gradient(90deg,#0034ff 0.00px,#0066ff 7.56px,#00a5ff 15.11px,#00eaff 22.67px,#23ffdc 30.23px,#55ffaa 37.79px,#84ff7b 45.34px,#a9ff56 52.90px,#cbff34 60.46px,#eaff15 68.01px,#fff500 75.57px,#ffd200 83.13px,#ffb200 90.69px,#ff9a00 98.24px,#ff8e00 105.80px,#ff9800 113.36px,#ffae00 120.91px,#ffcd00 128.47px,#fff000 136.03px,#eeff11 143.59px,#d0ff2f 151.14px,#aeff51 158.70px,#89ff76 166.26px,#5bffa4 173.81px,#2affd5 181.37px,#00f3ff 188.93px,#00aeff 196.49px,#006dff 204.04px,#0063ff 205.60px,#0055ff 207.60px,#0000fc 208.60px,#0000c0 209.60px,#00009d 210.60px,#000092 211.60px)"></div>
<div style="position:absolute;left:67.2px;top:547.0px;width:211.6px;height:2.6px;background:linear-gradient(90deg,#0033ff 0.00px,#0066ff 7.56px,#00a3ff 15.11px,#00e8ff 22.67px,#21ffde 30.23px,#53ffac 37.79px,#82ff7d 45.34px,#a7ff58 52.90px,#c9ff36 60.46px,#e7ff18 68.01px,#fffa00 75.57px,#ffd700 83.13px,#ffb700 90.69px,#ff9e00 98.24px,#ff9200 105.80px,#ff9c00 113.36px,#ffb300 120.91px,#ffd200 128.47px,#fff500 136.03px,#ebff14 143.59px,#cdff32 151.14px,#acff53 158.70px,#87ff78 166.26px,#59ffa6 173.81px,#28ffd7 181.37px,#00f1ff 188.93px,#00acff 196.49px,#006cff 204.04px,#0062ff 205.60px,#0054ff 207.60px,#0000fc 208.60px,#0000c0 209.60px,#00009d 210.60px,#000092 211.60px)"></div>
<div style="position:absolute;left:67.2px;top:549.0px;width:211.6px;height:2.6px;background:linear-gradient(90deg,#0033ff 0.00px,#0065ff 7.56px,#00a2ff 15.11px,#00e6ff 22.67px,#20ffdf 30.23px,#51ffae 37.79px,#80ff7f 45.34px,#a5ff5a 52.90px,#c6ff39 60.46px,#e4ff1b 68.01px,#ffff00 75.57px,#ffdc00 83.13px,#ffbc00 90.69px,#ffa300 98.24px,#ff9600 105.80px,#ffa000 113.36px,#ffb900 120.91px,#ffd700 128.47px,#fffa00 136.03px,#e8ff17 143.59px,#caff35 151.14px,#a9ff56 158.70px,#85ff7a 166.26px,#57ffa8 173.81px,#26ffd9 181.37px,#00efff 188.93px,#00abff 196.49px,#006cff 204.04px,#0061ff 205.60px,#0053ff 207.60px,#0000fb 208.60px,#0000bf 209.60px,#00009d 210.60px,#000092 211.60px)"></div>
<div style="position:absolute;left:67.2px;top:551.0px;width:211.6px;height:2.6px;background:linear-gradient(90deg,#0032ff 0.00px,#0064ff 7.56px,#00a0ff 15.11px,#00e4ff 22.67px,#1effe1 30.23px,#4fffb0 37.79px,#7eff81 45.34px,#a3ff5c 52.90px,#c4ff3b 60.46px,#e1ff1e 68.01px,#fcff03 75.57px,#ffe000 83.13px,#ffc100 90.69px,#ffa800 98.24px,#ff9a00 105.80px,#ffa500 113.36px,#ffbe00 120.91px,#ffdc00 128.47px,#ffff00 136.03px,#e5ff1a 143.59px,#c8ff37 151.14px,#a7ff58 158.70px,#84ff7b 166.26px,#55ffaa 173.81px,#25ffda 181.37px,#00edff 188.93px,#00a9ff 196.49px,#006bff 204.04px,#0060ff 205.60px,#0052ff 207.60px,#0000fb 208.60px,#0000bf 209.60px,#00009d 210.60px,#000092 211.60px)"></div>
<div style="position:absolute;left:67.2px;top:553.0px;width:211.6px;height:2.6px;background:linear-gradient(90deg,#0032ff 0.00px,#0063ff 7.56px,#009fff 15.11px,#00e3ff 22.67px,#1cffe3 30.23px,#4dffb2 37.79px,#7cff83 45.34px,#a1ff5e 52.90px,#c1ff3e 60.46px,#deff21 68.01px,#f9ff06 75.57px,#ffe500 83.13px,#ffc700 90.69px,#ffad00 98.24px,#ff9e00 105.80px,#ffab00 113.36px,#ffc300 120.91px,#ffe100 128.47px,#fcff03 136.03px,#e2ff1d 143.59px,#c5ff3a 151.14px,#a5ff5a 158.70px,#82ff7d 166.26px,#53ffac 173.81px,#23ffdc 181.37px,#00ebff 188.93px,#00a8ff 196.49px,#006aff 204.04px,#005fff 205.60px,#0051ff 207.60px,#0000fa 208.60px,#0000bf 209.60px,#00009d 210.60px,#000092 211.60px)"></div>
<div style="position:absolute;left:67.2px;top:555.0px;width:211.6px;height:2.6px;background:linear-gradient(90deg,#0031ff 0.00px,#0062ff 7.56px,#009dff 15.11px,#00e1ff 22.67px,#1bffe4 30.23px,#4bffb4 37.79px,#7aff85 45.34px,#9eff61 52.90px,#bfff40 60.46px,#dcff23 68.01px,#f6ff09 75.57px,#ffea00 83.13px,#ffcc00 90.69px,#ffb300 98.24px,#ffa400 105.80px,#ffb000 113.36px,#ffc800 120.91px,#ffe600 128.47px,#f9ff06 136.03px,#dfff20 143.59px,#c3ff3c 151.14px,#a3ff5c 158.70px,#80ff7f 166.26px,#51ffae 173.81px,#21ffde 181.37px,#00e9ff 188.93px,#00a6ff 196.49px,#0069ff 204.04px,#005eff 205.60px,#0051ff 207.60px,#0000f9 208.60px,#0000bf 209.60px,#00009d 210.60px,#000092 211.60px)"></div>
<div style="position:absolute;left:67.2px;top:557.0px;width:211.6px;height:2.6px;background:linear-gradient(90deg,#0030ff 0.00px,#0061ff 7.56px,#009cff 15.11px,#00dfff 22.67px,#19ffe6 30.23px,#49ffb6 37.79px,#78ff87 45.34px,#9cff63 52.90px,#bcff43 60.46px,#d9ff26 68.01px,#f3ff0c 75.57px,#ffef00 83.13px,#ffd100 90.69px,#ffb800 98.24px,#ffa900 105.80px,#ffb500 113.36px,#ffcd00 120.91px,#ffeb00 128.47px,#f6ff09 136.03px,#dcff23 143.59px,#c0ff3f 151.14px,#a1ff5e 158.70px,#7eff81 166.26px,#4fffb0 173.81px,#1fffe0 181.37px,#00e8ff 188.93px,#00a5ff 196.49px,#0068ff 204.04px,#005dff 205.60px,#0050ff 207.60px,#0000f9 208.60px,#0000be 209.60px,#00009d 210.60px,#000092 211.60px)"></div>
<div style="position:absolute;left:67.2px;top:559.0px;width:211.6px;height:2.6px;background:linear-gradient(90deg,#0030ff 0.00px,#0060ff 7.56px,#009bff 15.11px,#00ddff 22.67px,#17ffe8 30.23px,#47ffb8 37.79px,#75ff8a 45.34px,#9aff65 52.90px,#baff45 60.46px,#d6ff29 68.01px,#efff10 75.57px,#fff400 83.13px,#ffd600 90.69px,#ffbd00 98.24px,#ffaf00 105.80px,#ffbb00 113.36px,#ffd200 120.91px,#fff000 128.47px,#f3ff0c 136.03px,#daff25 143.59px,#beff41 151.14px,#9eff61 158.70px,#7bff84 166.26px,#4dffb2 173.81px,#1effe1 181.37px,#00e6ff 188.93px,#00a4ff 196.49px,#0067ff 204.04px,#005cff 205.60px,#004fff 207.60px,#0000f8 208.60px,#0000be 209.60px,#00009d 210.60px,#000092 211.60px)"></div>
<div style="position:absolute;left:67.2px;top:561.0px;width:211.6px;height:2.6px;background:linear-gradient(90deg,#002fff 0.00px,#005fff 7.56px,#0099ff 15.11px,#00dbff 22.67px,#15ffea 30.23px,#45ffba 37.79px,#73ff8c 45.34px,#98ff67 52.90px,#b7ff48 60.46px,#d3ff2c 68.01px,#ecff13 75.57px,#fffa00 83.13px,#ffdb00 90.69px,#ffc300 98.24px,#ffb400 105.80px,#ffc000 113.36px,#ffd800 120.91px,#fff500 128.47px,#f0ff0f 136.03px,#d7ff28 143.59px,#bbff44 151.14px,#9cff63 158.70px,#79ff86 166.26px,#4bffb4 173.81px,#1cffe3 181.37px,#00e4ff 188.93px,#00a2ff 196.49px,#0066ff 204.04px,#005cff 205.60px,#004eff 207.60px,#0000f8 208.60px,#0000be 209.60px,#00009c 210.60px,#000091 211.60px)"></div>
<div style="position:absolute;left:67.2px;top:563.0px;width:211.6px;height:2.6px;background:linear-gradient(90deg,#002fff 0.00px,#005fff 7.56px,#0098ff 15.11px,#00d9ff 22.67px,#14ffeb 30.23px,#43ffbc 37.79px,#71ff8e 45.34px,#96ff69 52.90px,#b5ff4a 60.46px,#d1ff2e 68.01px,#eaff15 75.57px,#ffff00 83.13px,#ffe100 90.69px,#ffc800 98.24px,#ffba00 105.80px,#ffc600 113.36px,#ffdd00 120.91px,#fffa00 128.47px,#edff12 136.03px,#d4ff2b 143.59px,#b9ff46 151.14px,#9aff65 158.70px,#77ff88 166.26px,#49ffb6 173.81px,#1affe5 181.37px,#00e2ff 188.93px,#00a1ff 196.49px,#0065ff 204.04px,#005bff 205.60px,#004dff 207.60px,#0000f7 208.60px,#0000be 209.60px,#00009c 210.60px,#000091 211.60px)"></div>
<div style="position:absolute;left:67.2px;top:565.0px;width:211.6px;height:2.6px;background:linear-gradient(90deg,#002eff 0.00px,#005eff 7.56px,#0096ff 15.11px,#00d8ff 22.67px,#12ffed 30.23px,#41ffbe 37.79px,#6fff90 45.34px,#94ff6b 52.90px,#b3ff4c 60.46px,#ceff31 68.01px,#e7ff18 75.57px,#fcff03 83.13px,#ffe600 90.69px,#ffce00 98.24px,#ffbf00 105.80px,#ffcb00 113.36px,#ffe200 120.91px,#ffff00 128.47px,#eaff15 136.03px,#d2ff2d 143.59px,#b6ff49 151.14px,#98ff67 158.70px,#75ff8a 166.26px,#47ffb8 173.81px,#18ffe7 181.37px,#00e0ff 188.93px,#009fff 196.49px,#0064ff 204.04px,#005aff 205.60px,#004cff 207.60px,#0000f7 208.60px,#0000bd 209.60px,#00009c 210.60px,#000091 211.60px)"></div>
<div style="position:absolute;left:67.2px;top:567.0px;width:211.6px;height:2.6px;background:linear-gradient(90deg,#002dff 0.00px,#005dff 7.56px,#0095ff 15.11px,#00d6ff 22.67px,#10ffef 30.23px,#3fffc0 37.79px,#6dff92 45.34px,#92ff6d 52.90px,#b0ff4f 60.46px,#ccff33 68.01px,#e4ff1b 75.57px,#f9ff06 83.13px,#ffeb00 90.69px,#ffd300 98.24px,#ffc500 105.80px,#ffd000 113.36px,#ffe800 120.91px,#fcff03 128.47px,#e7ff18 136.03px,#cfff30 143.59px,#b4ff4b 151.14px,#96ff69 158.70px,#72ff8d 166.26px,#45ffba 173.81px,#17ffe8 181.37px,#00deff 188.93px,#009eff 196.49px,#0063ff 204.04px,#0059ff 205.60px,#004bff 207.60px,#0000f6 208.60px,#0000bd 209.60px,#00009c 210.60px,#000091 211.60px)"></div>
<div style="position:absolute;left:67.2px;top:569.0px;width:211.6px;height:2.6px;background:linear-gradient(90deg,#002dff 0.00px,#005cff 7.56px,#0094ff 15.11px,#00d4ff 22.67px,#0ffff0 30.23px,#3dffc2 37.79px,#6aff95 45.34px,#90ff6f 52.90px,#aeff51 60.46px,#c9ff36 68.01px,#e1ff1e 75.57px,#f6ff09 83.13px,#fff000 90.69px,#ffd800 98.24px,#ffca00 105.80px,#ffd600 113.36px,#ffed00 120.91px,#f9ff06 128.47px,#e4ff1b 136.03px,#ccff33 143.59px,#b2ff4d 151.14px,#94ff6b 158.70px,#70ff8f 166.26px,#43ffbc 173.81px,#15ffea 181.37px,#00dcff 188.93px,#009cff 196.49px,#0063ff 204.04px,#0058ff 205.60px,#004aff 207.60px,#0000f6 208.60px,#0000bd 209.60px,#00009c 210.60px,#000091 211.60px)"></div>
<div style="position:absolute;left:67.2px;top:571.0px;width:211.6px;height:2.6px;background:linear-gradient(90deg,#002cff 0.00px,#005bff 7.56px,#0092ff 15.11px,#00d2ff 22.67px,#0dfff2 30.23px,#3bffc4 37.79px,#68ff97 45.34px,#8eff71 52.90px,#acff53 60.46px,#c7ff38 68.01px,#deff21 75.57px,#f3ff0c 83.13px,#fff600 90.69px,#ffde00 98.24px,#ffd000 105.80px,#ffdb00 113.36px,#fff200 120.91px,#f5ff0a 128.47px,#e1ff1e 136.03px,#caff35 143.59px,#b0ff4f 151.14px,#92ff6d 158.70px,#6eff91 166.26px,#41ffbe 173.81px,#13ffec 181.37px,#00dbff 188.93px,#009bff 196.49px,#0062ff 204.04px,#0057ff 205.60px,#0049ff 207.60px,#0000f5 208.60px,#0000bc 209.60px,#00009c 210.60px,#000091 211.60px)"></div>
<div style="position:absolute;left:67.2px;top:573.0px;width:211.6px;height:2.6px;background:linear-gradient(90deg,#002cff 0.00px,#005aff 7.56px,#0091ff 15.11px,#00d1ff 22.67px,#0bfff4 30.23px,#3affc5 37.79px,#66ff99 45.34px,#8cff73 52.90px,#aaff55 60.46px,#c4ff3b 68.01px,#dcff23 75.57px,#f0ff0f 83.13px,#fffb00 90.69px,#ffe300 98.24px,#ffd500 105.80px,#ffe100 113.36px,#fff800 120.91px,#f3ff0c 128.47px,#deff21 136.03px,#c7ff38 143.59px,#adff52 151.14px,#90ff6f 158.70px,#6cff93 166.26px,#40ffbf 173.81px,#11ffee 181.37px,#00d9ff 188.93px,#009aff 196.49px,#0061ff 204.04px,#0056ff 205.60px,#0049ff 207.60px,#0000f5 208.60px,#0000bc 209.60px,#00009c 210.60px,#000091 211.60px)"></div>
<div style="position:absolute;left:67.2px;top:575.0px;width:211.6px;height:2.6px;background:linear-gradient(90deg,#002bff 0.00px,#0059ff 7.56px,#0090ff 15.11px,#00cfff 22.67px,#09fff6 30.23px,#38ffc7 37.79px,#64ff9b 45.34px,#8bff74 52.90px,#a8ff57 60.46px,#c2ff3d 68.01px,#d9ff26 75.57px,#edff12 83.13px,#feff01 90.69px,#ffe900 98.24px,#ffdb00 105.80px,#ffe600 113.36px,#fffd00 120.91px,#f0ff0f 128.47px,#dcff23 136.03px,#c5ff3a 143.59px,#abff54 151.14px,#8fff70 158.70px,#6aff95 166.26px,#3effc1 173.81px,#10ffef 181.37px,#00d7ff 188.93px,#0098ff 196.49px,#0060ff 204.04px,#0055ff 205.60px,#0048ff 207.60px,#0000f4 208.60px,#0000bc 209.60px,#00009c 210.60px,#000091 211.60px)"></div>
<div style="position:absolute;left:67.2px;top:577.0px;width:211.6px;height:2.6px;background:linear-gradient(90deg,#002aff 0.00px,#0058ff 7.56px,#008eff 15.11px,#00cdff 22.67px,#08fff7 30.23px,#36ffc9 37.79px,#62ff9d 45.34px,#89ff76 52.90px,#a5ff5a 60.46px,#bfff40 68.01px,#d6ff29 75.57px,#eaff15 83.13px,#fbff04 90.69px,#ffee00 98.24px,#ffe000 105.80px,#ffec00 113.36px,#fdff02 120.91px,#edff12 128.47px,#d9ff26 136.03px,#c2ff3d 143.59px,#a9ff56 151.14px,#8dff72 158.70px,#67ff98 166.26px,#3cffc3 173.81px,#0efff1 181.37px,#00d5ff 188.93px,#0097ff 196.49px,#005fff 204.04px,#0054ff 205.60px,#0047ff 207.60px,#0000f4 208.60px,#0000bc 209.60px,#00009c 210.60px,#000091 211.60px)"></div>
<div style="position:absolute;left:67.2px;top:579.0px;width:211.6px;height:2.6px;background:linear-gradient(90deg,#002aff 0.00px,#0057ff 7.56px,#008dff 15.11px,#00cbff 22.67px,#06fff9 30.23px,#34ffcb 37.79px,#60ff9f 45.34px,#87ff78 52.90px,#a3ff5c 60.46px,#bdff42 68.01px,#d4ff2b 75.57px,#e8ff17 83.13px,#f8ff07 90.69px,#fff400 98.24px,#ffe600 105.80px,#fff100 113.36px,#faff05 120.91px,#eaff15 128.47px,#d7ff28 136.03px,#c0ff3f 143.59px,#a7ff58 151.14px,#8bff74 158.70px,#65ff9a 166.26px,#3affc5 173.81px,#0cfff3 181.37px,#00d3ff 188.93px,#0095ff 196.49px,#005eff 204.04px,#0053ff 205.60px,#0046ff 207.60px,#0000f3 208.60px,#0000bb 209.60px,#00009b 210.60px,#000091 211.60px)"></div>
<div style="position:absolute;left:67.2px;top:581.0px;width:211.6px;height:2.6px;background:linear-gradient(90deg,#0029ff 0.00px,#0056ff 7.56px,#008cff 15.11px,#00caff 22.67px,#04fffb 30.23px,#32ffcd 37.79px,#5dffa2 45.34px,#85ff7a 52.90px,#a1ff5e 60.46px,#bbff44 68.01px,#d1ff2e 75.57px,#e5ff1a 83.13px,#f5ff0a 90.69px,#fff900 98.24px,#ffec00 105.80px,#fff700 113.36px,#f7ff08 120.91px,#e7ff18 128.47px,#d4ff2b 136.03px,#beff41 143.59px,#a5ff5a 151.14px,#89ff76 158.70px,#63ff9c 166.26px,#38ffc7 173.81px,#0bfff4 181.37px,#00d2ff 188.93px,#0094ff 196.49px,#005dff 204.04px,#0052ff 205.60px,#0045ff 207.60px,#0000f2 208.60px,#0000bb 209.60px,#00009b 210.60px,#000091 211.60px)"></div>
<div style="position:absolute;left:67.2px;top:583.0px;width:211.6px;height:2.6px;background:linear-gradient(90deg,#0028ff 0.00px,#0055ff 7.56px,#008aff 15.11px,#00c8ff 22.67px,#03fffc 30.23px,#30ffcf 37.79px,#5bffa4 45.34px,#83ff7c 52.90px,#9fff60 60.46px,#b8ff47 68.01px,#cfff30 75.57px,#e2ff1d 83.13px,#f2ff0d 90.69px,#ffff00 98.24px,#fff100 105.80px,#fffd00 113.36px,#f4ff0b 120.91px,#e4ff1b 128.47px,#d1ff2e 136.03px,#bbff44 143.59px,#a3ff5c 151.14px,#87ff78 158.70px,#61ff9e 166.26px,#36ffc9 173.81px,#09fff6 181.37px,#00d0ff 188.93px,#0093ff 196.49px,#005cff 204.04px,#0051ff 205.60px,#0044ff 207.60px,#0000f2 208.60px,#0000bb 209.60px,#00009b 210.60px,#000091 211.60px)"></div>
<div style="position:absolute;left:67.2px;top:585.0px;width:211.6px;height:2.6px;background:linear-gradient(90deg,#0028ff 0.00px,#0054ff 7.56px,#0089ff 15.11px,#00c6ff 22.67px,#01fffe 30.23px,#2effd1 37.79px,#59ffa6 45.34px,#82ff7d 52.90px,#9dff62 60.46px,#b6ff49 68.01px,#ccff33 75.57px,#dfff20 83.13px,#f0ff0f 90.69px,#fcff03 98.24px,#fff700 105.80px,#fdff02 113.36px,#f1ff0e 120.91px,#e2ff1d 128.47px,#cfff30 136.03px,#b9ff46 143.59px,#a1ff5e 151.14px,#85ff7a 158.70px,#5fffa0 166.26px,#34ffcb 173.81px,#07fff8 181.37px,#00ceff 188.93px,#0091ff 196.49px,#005bff 204.04px,#0050ff 205.60px,#0043ff 207.60px,#0000f1 208.60px,#0000bb 209.60px,#00009b 210.60px,#000091 211.60px)"></div>
<div style="position:absolute;left:67.2px;top:587.0px;width:211.6px;height:2.6px;background:linear-gradient(90deg,#0027ff 0.00px,#0053ff 7.56px,#0088ff 15.11px,#00c5ff 22.67px,#00feff 30.23px,#2cffd3 37.79px,#57ffa8 45.34px,#80ff7f 52.90px,#9bff64 60.46px,#b4ff4b 68.01px,#caff35 75.57px,#ddff22 83.13px,#edff12 90.69px,#f9ff06 98.24px,#fffd00 105.80px,#faff05 113.36px,#efff10 120.91px,#dfff20 128.47px,#ccff33 136.03px,#b7ff48 143.59px,#9fff60 151.14px,#84ff7b 158.70px,#5dffa2 166.26px,#32ffcd 173.81px,#05fffa 181.37px,#00ccff 188.93px,#0090ff 196.49px,#005aff 204.04px,#0050ff 205.60px,#0042ff 207.60px,#0000f1 208.60px,#0000ba 209.60px,#00009b 210.60px,#000091 211.60px)"></div>
<div style="position:absolute;left:67.2px;top:589.0px;width:211.6px;height:2.6px;background:linear-gradient(90deg,#0026ff 0.00px,#0052ff 7.56px,#0086ff 15.11px,#00c3ff 22.67px,#00fcff 30.23px,#2affd5 37.79px,#55ffaa 45.34px,#7eff81 52.90px,#99ff66 60.46px,#b2ff4d 68.01px,#c7ff38 75.57px,#daff25 83.13px,#eaff15 90.69px,#f6ff09 98.24px,#fdff02 105.80px,#f8ff07 113.36px,#ecff13 120.91px,#ddff22 128.47px,#caff35 136.03px,#b5ff4a 143.59px,#9dff62 151.14px,#82ff7d 158.70px,#5affa5 166.26px,#30ffcf 173.81px,#04fffb 181.37px,#00cbff 188.93px,#008eff 196.49px,#0059ff 204.04px,#004fff 205.60px,#0041ff 207.60px,#0000f0 208.60px,#0000ba 209.60px,#00009b 210.60px,#000091 211.60px)"></div>
<div style="position:absolute;left:67.2px;top:591.0px;width:211.6px;height:2.6px;background:linear-gradient(90deg,#0026ff 0.00px,#0051ff 7.56px,#0085ff 15.11px,#00c1ff 22.67px,#00faff 30.23px,#28ffd7 37.79px,#53ffac 45.34px,#7bff84 52.90px,#97ff68 60.46px,#b0ff4f 68.01px,#c5ff3a 75.57px,#d8ff27 83.13px,#e7ff18 90.69px,#f3ff0c 98.24px,#faff05 105.80px,#f5ff0a 113.36px,#e9ff16 120.91px,#daff25 128.47px,#c8ff37 136.03px,#b3ff4c 143.59px,#9bff64 151.14px,#80ff7f 158.70px,#58ffa7 166.26px,#2effd1 173.81px,#02fffd 181.37px,#00c9ff 188.93px,#008dff 196.49px,#0058ff 204.04px,#004eff 205.60px,#0040ff 207.60px,#0000f0 208.60px,#0000ba 209.60px,#00009b 210.60px,#000091 211.60px)"></div>
<div style="position:absolute;left:67.2px;top:593.0px;width:211.6px;height:2.6px;background:linear-gradient(90deg,#0025ff 0.00px,#0050ff 7.56px,#0084ff 15.11px,#00c0ff 22.67px,#00f8ff 30.23px,#27ffd8 37.79px,#51ffae 45.34px,#79ff86 52.90px,#96ff69 60.46px,#adff52 68.01px,#c3ff3c 75.57px,#d5ff2a 83.13px,#e5ff1a 90.69px,#f1ff0e 98.24px,#f8ff07 105.80px,#f2ff0d 113.36px,#e7ff18 120.91px,#d7ff28 128.47px,#c5ff3a 136.03px,#b0ff4f 143.59px,#99ff66 151.14px,#7eff81 158.70px,#56ffa9 166.26px,#2cffd3 173.81px,#00ffff 181.37px,#00c7ff 188.93px,#008cff 196.49px,#0057ff 204.04px,#004dff 205.60px,#003fff 207.60px,#0000ef 208.60px,#0000ba 209.60px,#00009b 210.60px,#000090 211.60px)"></div>
<div style="position:absolute;left:67.2px;top:595.0px;width:211.6px;height:2.6px;background:linear-gradient(90deg,#0024ff 0.00px,#004fff 7.56px,#0082ff 15.11px,#00beff 22.67px,#00f6ff 30.23px,#25ffda 37.79px,#4fffb0 45.34px,#77ff88 52.90px,#94ff6b 60.46px,#abff54 68.01px,#c0ff3f 75.57px,#d3ff2c 83.13px,#e2ff1d 90.69px,#eeff11 98.24px,#f5ff0a 105.80px,#efff10 113.36px,#e4ff1b 120.91px,#d5ff2a 128.47px,#c3ff3c 136.03px,#aeff51 143.59px,#97ff68 151.14px,#7cff83 158.70px,#54ffab 166.26px,#2affd5 173.81px,#00fdff 181.37px,#00c6ff 188.93px,#008aff 196.49px,#0056ff 204.04px,#004cff 205.60px,#003eff 207.60px,#0000ef 208.60px,#0000b9 209.60px,#00009b 210.60px,#000090 211.60px)"></div>
<div style="position:absolute;left:67.2px;top:597.0px;width:211.6px;height:2.6px;background:linear-gradient(90deg,#0024ff 0.00px,#004eff 7.56px,#0081ff 15.11px,#00bcff 22.67px,#00f4ff 30.23px,#23ffdc 37.79px,#4dffb2 45.34px,#74ff8b 52.90px,#92ff6d 60.46px,#a9ff56 68.01px,#beff41 75.57px,#d0ff2f 83.13px,#e0ff1f 90.69px,#ebff14 98.24px,#f2ff0d 105.80px,#ecff13 113.36px,#e1ff1e 120.91px,#d3ff2c 128.47px,#c1ff3e 136.03px,#acff53 143.59px,#95ff6a 151.14px,#7aff85 158.70px,#52ffad 166.26px,#28ffd7 173.81px,#00fbff 181.37px,#00c4ff 188.93px,#0089ff 196.49px,#0055ff 204.04px,#004bff 205.60px,#003dff 207.60px,#0000ee 208.60px,#0000b9 209.60px,#00009b 210.60px,#000090 211.60px)"></div>
<div style="position:absolute;left:67.2px;top:599.0px;width:211.6px;height:2.6px;background:linear-gradient(90deg,#0023ff 0.00px,#004dff 7.56px,#0080ff 15.11px,#00bbff 22.67px,#00f2ff 30.23px,#21ffde 37.79px,#4bffb4 45.34px,#72ff8d 52.90px,#90ff6f 60.46px,#a7ff58 68.01px,#bcff43 75.57px,#ceff31 83.13px,#ddff22 90.69px,#e9ff16 98.24px,#efff10 105.80px,#eaff15 113.36px,#dfff20 120.91px,#d0ff2f 128.47px,#bfff40 136.03px,#aaff55 143.59px,#93ff6c 151.14px,#77ff88 158.70px,#50ffaf 166.26px,#27ffd8 173.81px,#00f9ff 181.37px,#00c2ff 188.93px,#0088ff 196.49px,#0054ff 204.04px,#004aff 205.60px,#003cff 207.60px,#0000ee 208.60px,#0000b9 209.60px,#00009a 210.60px,#000090 211.60px)"></div>
<div style="position:absolute;left:67.2px;top:601.0px;width:211.6px;height:2.6px;background:linear-gradient(90deg,#0022ff 0.00px,#004cff 7.56px,#007fff 15.11px,#00b9ff 22.67px,#00f0ff 30.23px,#1fffe0 37.79px,#48ffb7 45.34px,#70ff8f 52.90px,#8eff71 60.46px,#a5ff5a 68.01px,#baff45 75.57px,#ccff33 83.13px,#dbff24 90.69px,#e6ff19 98.24px,#edff12 105.80px,#e7ff18 113.36px,#dcff23 120.91px,#ceff31 128.47px,#bcff43 136.03px,#a8ff57 143.59px,#91ff6e 151.14px,#75ff8a 158.70px,#4effb1 166.26px,#25ffda 173.81px,#00f7ff 181.37px,#00c1ff 188.93px,#0087ff 196.49px,#0053ff 204.04px,#0049ff 205.60px,#003bff 207.60px,#0000ed 208.60px,#0000b9 209.60px,#00009a 210.60px,#000090 211.60px)"></div>
<div style="position:absolute;left:67.2px;top:603.0px;width:211.6px;height:2.6px;background:linear-gradient(90deg,#0022ff 0.00px,#004bff 7.56px,#007eff 15.11px,#00b8ff 22.67px,#00eeff 30.23px,#1dffe2 37.79px,#46ffb9 45.34px,#6eff91 52.90px,#8dff72 60.46px,#a3ff5c 68.01px,#b8ff47 75.57px,#c9ff36 83.13px,#d8ff27 90.69px,#e3ff1c 98.24px,#eaff15 105.80px,#e5ff1a 113.36px,#daff25 120.91px,#cbff34 128.47px,#baff45 136.03px,#a6ff59 143.59px,#90ff6f 151.14px,#73ff8c 158.70px,#4cffb3 166.26px,#23ffdc 173.81px,#00f5ff 181.37px,#00bfff 188.93px,#0085ff 196.49px,#0052ff 204.04px,#0048ff 205.60px,#003aff 207.60px,#0000ed 208.60px,#0000b9 209.60px,#00009a 210.60px,#000090 211.60px)"></div>
<div style="position:absolute;left:67.2px;top:605.0px;width:211.6px;height:2.6px;background:linear-gradient(90deg,#0021ff 0.00px,#004aff 7.56px,#007dff 15.11px,#00b6ff 22.67px,#00ecff 30.23px,#1bffe4 37.79px,#44ffbb 45.34px,#6bff94 52.90px,#8bff74 60.46px,#a1ff5e 68.01px,#b6ff49 75.57px,#c7ff38 83.13px,#d6ff29 90.69px,#e1ff1e 98.24px,#e7ff18 105.80px,#e2ff1d 113.36px,#d7ff28 120.91px,#c9ff36 128.47px,#b8ff47 136.03px,#a4ff5b 143.59px,#8eff71 151.14px,#70ff8f 158.70px,#4affb5 166.26px,#21ffde 173.81px,#00f3ff 181.37px,#00bdff 188.93px,#0084ff 196.49px,#0051ff 204.04px,#0047ff 205.60px,#0039ff 207.60px,#0000ec 208.60px,#0000b8 209.60px,#00009a 210.60px,#000090 211.60px)"></div>
<div style="position:absolute;left:67.2px;top:607.0px;width:211.6px;height:2.6px;background:linear-gradient(90deg,#0020ff 0.00px,#0049ff 7.56px,#007cff 15.11px,#00b4ff 22.67px,#00ebff 30.23px,#1affe5 37.79px,#42ffbd 45.34px,#69ff96 52.90px,#89ff76 60.46px,#a0ff5f 68.01px,#b3ff4c 75.57px,#c5ff3a 83.13px,#d3ff2c 90.69px,#deff21 98.24px,#e5ff1a 105.80px,#e0ff1f 113.36px,#d5ff2a 120.91px,#c7ff38 128.47px,#b6ff49 136.03px,#a2ff5d 143.59px,#8cff73 151.14px,#6eff91 158.70px,#48ffb7 166.26px,#1fffe0 173.81px,#00f2ff 181.37px,#00bcff 188.93px,#0083ff 196.49px,#0050ff 204.04px,#0046ff 205.60px,#0038ff 207.60px,#0000ec 208.60px,#0000b8 209.60px,#00009a 210.60px,#000090 211.60px)"></div>
<div style="position:absolute;left:67.2px;top:609.0px;width:211.6px;height:2.6px;background:linear-gradient(90deg,#0020ff 0.00px,#0048ff 7.56px,#007aff 15.11px,#00b3ff 22.67px,#00e9ff 30.23px,#18ffe7 37.79px,#40ffbf 45.34px,#67ff98 52.90px,#87ff78 60.46px,#9eff61 68.01px,#b1ff4e 75.57px,#c3ff3c 83.13px,#d1ff2e 90.69px,#dcff23 98.24px,#e2ff1d 105.80px,#ddff22 113.36px,#d3ff2c 120.91px,#c5ff3a 128.47px,#b4ff4b 136.03px,#a0ff5f 143.59px,#8aff75 151.14px,#6cff93 158.70px,#46ffb9 166.26px,#1dffe2 173.81px,#00f0ff 181.37px,#00baff 188.93px,#0081ff 196.49px,#004fff 204.04px,#0045ff 205.60px,#0038ff 207.60px,#0000ec 208.60px,#0000b8 209.60px,#00009a 210.60px,#000090 211.60px)"></div>
<div style="position:absolute;left:67.2px;top:611.0px;width:211.6px;height:2.6px;background:linear-gradient(90deg,#001fff 0.00px,#0047ff 7.56px,#0079ff 15.11px,#00b1ff 22.67px,#00e7ff 30.23px,#16ffe9 37.79px,#3effc1 45.34px,#65ff9a 52.90px,#86ff79 60.46px,#9cff63 68.01px,#afff50 75.57px,#c0ff3f 83.13px,#cfff30 90.69px,#daff25 98.24px,#e0ff1f 105.80px,#dbff24 113.36px,#d0ff2f 120.91px,#c2ff3d 128.47px,#b2ff4d 136.03px,#9fff60 143.59px,#89ff76 151.14px,#6aff95 158.70px,#43ffbc 166.26px,#1bffe4 173.81px,#00eeff 181.37px,#00b9ff 188.93px,#0080ff 196.49px,#004eff 204.04px,#0044ff 205.60px,#0037ff 207.60px,#0000eb 208.60px,#0000b8 209.60px,#00009a 210.60px,#000090 211.60px)"></div>
<div style="position:absolute;left:67.2px;top:613.0px;width:211.6px;height:2.2px;background:linear-gradient(90deg,#001eff 0.00px,#0046ff 7.56px,#0078ff 15.11px,#00b0ff 22.67px,#00e5ff 30.23px,#14ffeb 37.79px,#3dffc2 45.34px,#63ff9c 52.90px,#84ff7b 60.46px,#9aff65 68.01px,#aeff51 75.57px,#beff41 83.13px,#cdff32 90.69px,#d7ff28 98.24px,#deff21 105.80px,#d9ff26 113.36px,#ceff31 120.91px,#c0ff3f 128.47px,#b0ff4f 136.03px,#9dff62 143.59px,#87ff78 151.14px,#68ff97 158.70px,#42ffbd 166.26px,#1affe5 173.81px,#00ecff 181.37px,#00b7ff 188.93px,#007fff 196.49px,#004dff 204.04px,#0043ff 205.60px,#0036ff 207.60px,#0000eb 208.60px,#0000b7 209.60px,#00009a 210.60px,#000090 211.60px)"></div>
<div style="position:absolute;left:405.8px;top:428.3px;width:213.1px;height:2.6px;background:linear-gradient(90deg,#00008f 0.00px,#00009a 1.00px,#0000b9 2.00px,#0000f0 3.00px,#0043ff 4.00px,#0056ff 6.00px,#0066ff 7.61px,#00caff 15.22px,#1bffe4 22.83px,#54ffab 30.44px,#93ff6c 38.05px,#e4ff1b 45.66px,#ffd900 53.27px,#ffa100 60.89px,#ff6e00 68.50px,#ff3c00 76.11px,#ff0b00 83.72px,#de0000 91.33px,#b90000 98.94px,#9d0000 106.55px,#b40000 114.16px,#d60000 121.77px,#ff0400 129.38px,#ff3300 136.99px,#ff6500 144.60px,#ff9800 152.21px,#ffd000 159.82px,#f1ff0e 167.44px,#a1ff5e 175.05px,#5effa1 182.66px,#25ffda 190.27px,#00dcff 197.88px,#007cff 205.10px,#0077ff 205.49px,#0062ff 207.10px,#0000fc 208.60px,#0000ba 210.10px,#000095 211.60px)"></div>
<div style="position:absolute;left:405.8px;top:430.3px;width:213.1px;height:2.6px;background:linear-gradient(90deg,#00008f 0.00px,#00009a 1.00px,#0000b9 2.00px,#0000f0 3.00px,#0043ff 4.00px,#0056ff 6.00px,#0066ff 7.61px,#00caff 15.22px,#1affe5 22.83px,#53ffac 30.44px,#92ff6d 38.05px,#e2ff1d 45.66px,#ffdb00 53.27px,#ffa200 60.89px,#ff6f00 68.50px,#ff3d00 76.11px,#ff0c00 83.72px,#df0000 91.33px,#ba0000 98.94px,#a00000 106.55px,#b60000 114.16px,#d80000 121.77px,#ff0500 129.38px,#ff3400 136.99px,#ff6700 144.60px,#ff9900 152.21px,#ffd100 159.82px,#f0ff0f 167.44px,#9fff60 175.05px,#5dffa2 182.66px,#24ffdb 190.27px,#00dbff 197.88px,#007cff 205.10px,#0077ff 205.49px,#0062ff 207.10px,#0000fc 208.60px,#0000ba 210.10px,#000095 211.60px)"></div>
<div style="position:absolute;left:405.8px;top:432.3px;width:213.1px;height:2.6px;background:linear-gradient(90deg,#00008f 0.00px,#00009a 1.00px,#0000b9 2.00px,#0000f0 3.00px,#0043ff 4.00px,#0055ff 6.00px,#0065ff 7.61px,#00c9ff 15.22px,#1affe5 22.83px,#52ffad 30.44px,#90ff6f 38.05px,#e0ff1f 45.66px,#ffdc00 53.27px,#ffa400 60.89px,#ff7100 68.50px,#ff3e00 76.11px,#ff0e00 83.72px,#e20000 91.33px,#bc0000 98.94px,#a40000 106.55px,#b80000 114.16px,#da0000 121.77px,#ff0700 129.38px,#ff3600 136.99px,#ff6800 144.60px,#ff9a00 152.21px,#ffd300 159.82px,#eeff11 167.44px,#9eff61 175.05px,#5cffa3 182.66px,#23ffdc 190.27px,#00daff 197.88px,#007bff 205.10px,#0076ff 205.49px,#0061ff 207.10px,#0000fc 208.60px,#0000ba 210.10px,#000095 211.60px)"></div>
<div style="position:absolute;left:405.8px;top:434.3px;width:213.1px;height:2.6px;background:linear-gradient(90deg,#00008f 0.00px,#000099 1.00px,#0000b9 2.00px,#0000ef 3.00px,#0042ff 4.00px,#0055ff 6.00px,#0064ff 7.61px,#00c7ff 15.22px,#19ffe6 22.83px,#51ffae 30.44px,#8eff71 38.05px,#deff21 45.66px,#ffde00 53.27px,#ffa600 60.89px,#ff7300 68.50px,#ff4100 76.11px,#ff1000 83.72px,#e40000 91.33px,#bf0000 98.94px,#a80000 106.55px,#ba0000 114.16px,#dd0000 121.77px,#ff0900 129.38px,#ff3800 136.99px,#ff6a00 144.60px,#ff9c00 152.21px,#ffd500 159.82px,#ebff14 167.44px,#9bff64 175.05px,#5bffa4 182.66px,#22ffdd 190.27px,#00d8ff 197.88px,#007bff 205.10px,#0075ff 205.49px,#0060ff 207.10px,#0000fb 208.60px,#0000b9 210.10px,#000095 211.60px)"></div>
<div style="position:absolute;left:405.8px;top:436.3px;width:213.1px;height:2.6px;background:linear-gradient(90deg,#00008f 0.00px,#000099 1.00px,#0000b8 2.00px,#0000ef 3.00px,#0042ff 4.00px,#0054ff 6.00px,#0063ff 7.61px,#00c6ff 15.22px,#17ffe8 22.83px,#4fffb0 30.44px,#8bff74 38.05px,#dbff24 45.66px,#ffe100 53.27px,#ffa800 60.89px,#ff7500 68.50px,#ff4300 76.11px,#ff1200 83.72px,#e70000 91.33px,#c20000 98.94px,#ac0000 106.55px,#bd0000 114.16px,#e00000 121.77px,#ff0b00 129.38px,#ff3b00 136.99px,#ff6c00 144.60px,#ff9f00 152.21px,#ffd700 159.82px,#e8ff17 167.44px,#99ff66 175.05px,#59ffa6 182.66px,#21ffde 190.27px,#00d7ff 197.88px,#007aff 205.10px,#0074ff 205.49px,#0060ff 207.10px,#0000fb 208.60px,#0000b9 210.10px,#000095 211.60px)"></div>
<div style="position:absolute;left:405.8px;top:438.3px;width:213.1px;height:2.6px;background:linear-gradient(90deg,#00008f 0.00px,#000099 1.00px,#0000b8 2.00px,#0000ef 3.00px,#0041ff 4.00px,#0053ff 6.00px,#0062ff 7.61px,#00c5ff 15.22px,#16ffe9 22.83px,#4effb1 30.44px,#88ff77 38.05px,#d7ff28 45.66px,#ffe300 53.27px,#ffab00 60.89px,#ff7800 68.50px,#ff4600 76.11px,#ff1500 83.72px,#eb0000 91.33px,#c50000 98.94px,#b00000 106.55px,#c00000 114.16px,#e40000 121.77px,#ff0e00 129.38px,#ff3d00 136.99px,#ff6f00 144.60px,#ffa100 152.21px,#ffd900 159.82px,#e5ff1a 167.44px,#96ff69 175.05px,#57ffa8 182.66px,#20ffdf 190.27px,#00d5ff 197.88px,#0079ff 205.10px,#0073ff 205.49px,#005fff 207.10px,#0000fa 208.60px,#0000b9 210.10px,#000095 211.60px)"></div>
<div style="position:absolute;left:405.8px;top:440.3px;width:213.1px;height:2.6px;background:linear-gradient(90deg,#00008f 0.00px,#000099 1.00px,#0000b8 2.00px,#0000ee 3.00px,#0040ff 4.00px,#0052ff 6.00px,#0061ff 7.61px,#00c3ff 15.22px,#15ffea 22.83px,#4cffb3 30.44px,#85ff7a 38.05px,#d4ff2b 45.66px,#ffe600 53.27px,#ffae00 60.89px,#ff7a00 68.50px,#ff4900 76.11px,#ff1800 83.72px,#ee0000 91.33px,#c80000 98.94px,#b50000 106.55px,#c40000 114.16px,#e70000 121.77px,#ff1100 129.38px,#ff4000 136.99px,#ff7200 144.60px,#ffa400 152.21px,#ffdc00 159.82px,#e1ff1e 167.44px,#93ff6c 175.05px,#55ffaa 182.66px,#1effe1 190.27px,#00d3ff 197.88px,#0077ff 205.10px,#0072ff 205.49px,#005eff 207.10px,#0000fa 208.60px,#0000b9 210.10px,#000095 211.60px)"></div>
<div style="position:absolute;left:405.8px;top:442.3px;width:213.1px;height:2.6px;background:linear-gradient(90deg,#00008f 0.00px,#000099 1.00px,#0000b8 2.00px,#0000ee 3.00px,#003fff 4.00px,#0052ff 6.00px,#0060ff 7.61px,#00c1ff 15.22px,#13ffec 22.83px,#4affb5 30.44px,#82ff7d 38.05px,#d0ff2f 45.66px,#ffe900 53.27px,#ffb100 60.89px,#ff7d00 68.50px,#ff4c00 76.11px,#ff1b00 83.72px,#f20000 91.33px,#cd0000 98.94px,#b90000 106.55px,#c70000 114.16px,#eb0000 121.77px,#ff1400 129.38px,#ff4400 136.99px,#ff7500 144.60px,#ffa800 152.21px,#ffdf00 159.82px,#ddff22 167.44px,#90ff6f 175.05px,#53ffac 182.66px,#1cffe3 190.27px,#00d2ff 197.88px,#0076ff 205.10px,#0071ff 205.49px,#005eff 207.10px,#0000fa 208.60px,#0000b9 210.10px,#000095 211.60px)"></div>
<div style="position:absolute;left:405.8px;top:444.3px;width:213.1px;height:2.6px;background:linear-gradient(90deg,#00008f 0.00px,#000099 1.00px,#0000b7 2.00px,#0000ed 3.00px,#003fff 4.00px,#0051ff 6.00px,#005fff 7.61px,#00bfff 15.22px,#12ffed 22.83px,#48ffb7 30.44px,#7fff80 38.05px,#ccff33 45.66px,#ffec00 53.27px,#ffb500 60.89px,#ff8100 68.50px,#ff4f00 76.11px,#ff1f00 83.72px,#f60000 91.33px,#d20000 98.94px,#bd0000 106.55px,#cc0000 114.16px,#ef0000 121.77px,#ff1700 129.38px,#ff4700 136.99px,#ff7800 144.60px,#ffab00 152.21px,#ffe300 159.82px,#d9ff26 167.44px,#8cff73 175.05px,#51ffae 182.66px,#1bffe4 190.27px,#00d0ff 197.88px,#0075ff 205.10px,#0070ff 205.49px,#005dff 207.10px,#0000f9 208.60px,#0000b8 210.10px,#000095 211.60px)"></div>
<div style="position:absolute;left:405.8px;top:446.3px;width:213.1px;height:2.6px;background:linear-gradient(90deg,#00008f 0.00px,#000099 1.00px,#0000b7 2.00px,#0000ed 3.00px,#003eff 4.00px,#0050ff 6.00px,#005fff 7.61px,#00beff 15.22px,#10ffef 22.83px,#46ffb9 30.44px,#7cff83 38.05px,#c8ff37 45.66px,#fff000 53.27px,#ffb800 60.89px,#ff8400 68.50px,#ff5300 76.11px,#ff2300 83.72px,#f90000 91.33px,#d70000 98.94px,#c10000 106.55px,#d10000 114.16px,#f30000 121.77px,#ff1b00 129.38px,#ff4b00 136.99px,#ff7c00 144.60px,#ffaf00 152.21px,#ffe600 159.82px,#d5ff2a 167.44px,#88ff77 175.05px,#4fffb0 182.66px,#19ffe6 190.27px,#00cdff 197.88px,#0074ff 205.10px,#006eff 205.49px,#005cff 207.10px,#0000f9 208.60px,#0000b8 210.10px,#000095 211.60px)"></div>
<div style="position:absolute;left:405.8px;top:448.3px;width:213.1px;height:2.6px;background:linear-gradient(90deg,#00008f 0.00px,#000099 1.00px,#0000b7 2.00px,#0000ec 3.00px,#003dff 4.00px,#004fff 6.00px,#005eff 7.61px,#00bcff 15.22px,#0efff1 22.83px,#43ffbc 30.44px,#7aff85 38.05px,#c4ff3b 45.66px,#fff300 53.27px,#ffbc00 60.89px,#ff8800 68.50px,#ff5700 76.11px,#ff2700 83.72px,#fe0000 91.33px,#dc0000 98.94px,#c50000 106.55px,#d60000 114.16px,#f70000 121.77px,#ff1f00 129.38px,#ff4f00 136.99px,#ff7f00 144.60px,#ffb300 152.21px,#ffea00 159.82px,#d1ff2e 167.44px,#85ff7a 175.05px,#4dffb2 182.66px,#17ffe8 190.27px,#00cbff 197.88px,#0072ff 205.10px,#006dff 205.49px,#005bff 207.10px,#0000f8 208.60px,#0000b8 210.10px,#000095 211.60px)"></div>
<div style="position:absolute;left:405.8px;top:450.3px;width:213.1px;height:2.6px;background:linear-gradient(90deg,#00008f 0.00px,#000099 1.00px,#0000b6 2.00px,#0000ec 3.00px,#003cff 4.00px,#004eff 6.00px,#005cff 7.61px,#00baff 15.22px,#0cfff3 22.83px,#41ffbe 30.44px,#77ff88 38.05px,#c0ff3f 45.66px,#fff700 53.27px,#ffc000 60.89px,#ff8b00 68.50px,#ff5b00 76.11px,#ff2b00 83.72px,#ff0300 91.33px,#e10000 98.94px,#ca0000 106.55px,#dc0000 114.16px,#fc0000 121.77px,#ff2300 129.38px,#ff5300 136.99px,#ff8300 144.60px,#ffb700 152.21px,#ffee00 159.82px,#cdff32 167.44px,#81ff7e 175.05px,#4affb5 182.66px,#15ffea 190.27px,#00c9ff 197.88px,#0071ff 205.10px,#006bff 205.49px,#005aff 207.10px,#0000f7 208.60px,#0000b8 210.10px,#000094 211.60px)"></div>
<div style="position:absolute;left:405.8px;top:452.3px;width:213.1px;height:2.6px;background:linear-gradient(90deg,#00008f 0.00px,#000098 1.00px,#0000b6 2.00px,#0000eb 3.00px,#003bff 4.00px,#004dff 6.00px,#005bff 7.61px,#00b8ff 15.22px,#0bfff4 22.83px,#3fffc0 30.44px,#74ff8b 38.05px,#bbff44 45.66px,#fffb00 53.27px,#ffc400 60.89px,#ff8f00 68.50px,#ff5f00 76.11px,#ff3000 83.72px,#ff0700 91.33px,#e60000 98.94px,#d00000 106.55px,#e10000 114.16px,#ff0100 121.77px,#ff2800 129.38px,#ff5700 136.99px,#ff8700 144.60px,#ffbb00 152.21px,#fff200 159.82px,#c8ff37 167.44px,#7dff82 175.05px,#48ffb7 182.66px,#13ffec 190.27px,#00c7ff 197.88px,#006fff 205.10px,#006aff 205.49px,#0059ff 207.10px,#0000f7 208.60px,#0000b7 210.10px,#000094 211.60px)"></div>
<div style="position:absolute;left:405.8px;top:454.3px;width:213.1px;height:2.6px;background:linear-gradient(90deg,#00008e 0.00px,#000098 1.00px,#0000b6 2.00px,#0000ea 3.00px,#003aff 4.00px,#004cff 6.00px,#005aff 7.61px,#00b6ff 15.22px,#09fff6 22.83px,#3cffc3 30.44px,#71ff8e 38.05px,#b7ff48 45.66px,#ffff00 53.27px,#ffc800 60.89px,#ff9400 68.50px,#ff6300 76.11px,#ff3400 83.72px,#ff0b00 91.33px,#eb0000 98.94px,#d60000 106.55px,#e60000 114.16px,#ff0500 121.77px,#ff2c00 129.38px,#ff5b00 136.99px,#ff8b00 144.60px,#ffbf00 152.21px,#fff600 159.82px,#c3ff3c 167.44px,#7aff85 175.05px,#45ffba 182.66px,#11ffee 190.27px,#00c5ff 197.88px,#006dff 205.10px,#0068ff 205.49px,#0057ff 207.10px,#0000f6 208.60px,#0000b7 210.10px,#000094 211.60px)"></div>
<div style="position:absolute;left:405.8px;top:456.3px;width:213.1px;height:2.6px;background:linear-gradient(90deg,#00008e 0.00px,#000098 1.00px,#0000b5 2.00px,#0000ea 3.00px,#0039ff 4.00px,#004bff 6.00px,#0059ff 7.61px,#00b3ff 15.22px,#07fff8 22.83px,#3affc5 30.44px,#6eff91 38.05px,#b2ff4d 45.66px,#f9ff06 53.27px,#ffcd00 60.89px,#ff9800 68.50px,#ff6800 76.11px,#ff3900 83.72px,#ff0f00 91.33px,#f00000 98.94px,#dc0000 106.55px,#eb0000 114.16px,#ff0a00 121.77px,#ff3100 129.38px,#ff6000 136.99px,#ff9000 144.60px,#ffc400 152.21px,#fffa00 159.82px,#bfff40 167.44px,#77ff88 175.05px,#43ffbc 182.66px,#0ffff0 190.27px,#00c2ff 197.88px,#006cff 205.10px,#0067ff 205.49px,#0056ff 207.10px,#0000f5 208.60px,#0000b7 210.10px,#000094 211.60px)"></div>
<div style="position:absolute;left:405.8px;top:458.3px;width:213.1px;height:2.6px;background:linear-gradient(90deg,#00008e 0.00px,#000098 1.00px,#0000b5 2.00px,#0000e9 3.00px,#0037ff 4.00px,#0049ff 6.00px,#0058ff 7.61px,#00b1ff 15.22px,#05fffa 22.83px,#37ffc8 30.44px,#6bff94 38.05px,#adff52 45.66px,#f4ff0b 53.27px,#ffd100 60.89px,#ff9c00 68.50px,#ff6c00 76.11px,#ff3e00 83.72px,#ff1400 91.33px,#f50000 98.94px,#e10000 106.55px,#f00000 114.16px,#ff0e00 121.77px,#ff3600 129.38px,#ff6400 136.99px,#ff9400 144.60px,#ffc800 152.21px,#fffe00 159.82px,#b9ff46 167.44px,#74ff8b 175.05px,#40ffbf 182.66px,#0dfff2 190.27px,#00c0ff 197.88px,#006aff 205.10px,#0065ff 205.49px,#0055ff 207.10px,#0000f5 208.60px,#0000b6 210.10px,#000094 211.60px)"></div>
<div style="position:absolute;left:405.8px;top:460.3px;width:213.1px;height:2.6px;background:linear-gradient(90deg,#00008e 0.00px,#000098 1.00px,#0000b5 2.00px,#0000e8 3.00px,#0036ff 4.00px,#0048ff 6.00px,#0057ff 7.61px,#00afff 15.22px,#03fffc 22.83px,#35ffca 30.44px,#68ff97 38.05px,#a8ff57 45.66px,#eeff11 53.27px,#ffd600 60.89px,#ffa100 68.50px,#ff7100 76.11px,#ff4300 83.72px,#ff1800 91.33px,#fa0000 98.94px,#e70000 106.55px,#f50000 114.16px,#ff1200 121.77px,#ff3b00 129.38px,#ff6900 136.99px,#ff9900 144.60px,#ffcd00 152.21px,#faff05 159.82px,#b4ff4b 167.44px,#71ff8e 175.05px,#3dffc2 182.66px,#0bfff4 190.27px,#00beff 197.88px,#0068ff 205.10px,#0063ff 205.49px,#0054ff 207.10px,#0000f4 208.60px,#0000b6 210.10px,#000094 211.60px)"></div>
<div style="position:absolute;left:405.8px;top:462.3px;width:213.1px;height:2.6px;background:linear-gradient(90deg,#00008e 0.00px,#000098 1.00px,#0000b4 2.00px,#0000e8 3.00px,#0035ff 4.00px,#0047ff 6.00px,#0055ff 7.61px,#00adff 15.22px,#01fffe 22.83px,#32ffcd 30.44px,#65ff9a 38.05px,#a3ff5c 45.66px,#e9ff16 53.27px,#ffdb00 60.89px,#ffa600 68.50px,#ff7600 76.11px,#ff4800 83.72px,#ff1d00 91.33px,#ff0000 98.94px,#ec0000 106.55px,#fb0000 114.16px,#ff1700 121.77px,#ff4100 129.38px,#ff6e00 136.99px,#ff9d00 144.60px,#ffd200 152.21px,#f4ff0b 159.82px,#afff50 167.44px,#6eff91 175.05px,#3bffc4 182.66px,#09fff6 190.27px,#00bbff 197.88px,#0066ff 205.10px,#0061ff 205.49px,#0053ff 207.10px,#0000f3 208.60px,#0000b6 210.10px,#000094 211.60px)"></div>
<div style="position:absolute;left:405.8px;top:464.3px;width:213.1px;height:2.6px;background:linear-gradient(90deg,#00008e 0.00px,#000097 1.00px,#0000b4 2.00px,#0000e7 3.00px,#0034ff 4.00px,#0046ff 6.00px,#0054ff 7.61px,#00abff 15.22px,#00fdff 22.83px,#2fffd0 30.44px,#62ff9d 38.05px,#9eff61 45.66px,#e3ff1c 53.27px,#ffe000 60.89px,#ffab00 68.50px,#ff7b00 76.11px,#ff4e00 83.72px,#ff2300 91.33px,#ff0500 98.94px,#f20000 106.55px,#ff0100 114.16px,#ff1c00 121.77px,#ff4600 129.38px,#ff7300 136.99px,#ffa300 144.60px,#ffd700 152.21px,#efff10 159.82px,#aaff55 167.44px,#6aff95 175.05px,#38ffc7 182.66px,#07fff8 190.27px,#00b9ff 197.88px,#0064ff 205.10px,#0060ff 205.49px,#0051ff 207.10px,#0000f3 208.60px,#0000b5 210.10px,#000094 211.60px)"></div>
<div style="position:absolute;left:405.8px;top:466.3px;width:213.1px;height:2.6px;background:linear-gradient(90deg,#00008e 0.00px,#000097 1.00px,#0000b4 2.00px,#0000e6 3.00px,#0033ff 4.00px,#0044ff 6.00px,#0053ff 7.61px,#00a9ff 15.22px,#00faff 22.83px,#2dffd2 30.44px,#5effa1 38.05px,#98ff67 45.66px,#ddff22 53.27px,#ffe500 60.89px,#ffb100 68.50px,#ff8000 76.11px,#ff5300 83.72px,#ff2900 91.33px,#ff0900 98.94px,#f70000 106.55px,#ff0600 114.16px,#ff2200 121.77px,#ff4c00 129.38px,#ff7900 136.99px,#ffa800 144.60px,#ffdc00 152.21px,#e9ff16 159.82px,#a5ff5a 167.44px,#67ff98 175.05px,#35ffca 182.66px,#05fffa 190.27px,#00b7ff 197.88px,#0062ff 205.10px,#005eff 205.49px,#0050ff 207.10px,#0000f2 208.60px,#0000b5 210.10px,#000093 211.60px)"></div>
<div style="position:absolute;left:405.8px;top:468.3px;width:213.1px;height:2.6px;background:linear-gradient(90deg,#00008e 0.00px,#000097 1.00px,#0000b3 2.00px,#0000e5 3.00px,#0031ff 4.00px,#0043ff 6.00px,#0051ff 7.61px,#00a7ff 15.22px,#00f7ff 22.83px,#2affd5 30.44px,#5bffa4 38.05px,#93ff6c 45.66px,#d8ff27 53.27px,#ffea00 60.89px,#ffb600 68.50px,#ff8600 76.11px,#ff5900 83.72px,#ff2f00 91.33px,#ff0e00 98.94px,#fd0000 106.55px,#ff0b00 114.16px,#ff2800 121.77px,#ff5100 129.38px,#ff7e00 136.99px,#ffae00 144.60px,#ffe100 152.21px,#e3ff1c 159.82px,#9fff60 167.44px,#64ff9b 175.05px,#32ffcd 182.66px,#03fffc 190.27px,#00b4ff 197.88px,#0061ff 205.10px,#005dff 205.49px,#004fff 207.10px,#0000f1 208.60px,#0000b4 210.10px,#000093 211.60px)"></div>
<div style="position:absolute;left:405.8px;top:470.3px;width:213.1px;height:2.6px;background:linear-gradient(90deg,#00008d 0.00px,#000097 1.00px,#0000b3 2.00px,#0000e4 3.00px,#0030ff 4.00px,#0042ff 6.00px,#0050ff 7.61px,#00a4ff 15.22px,#00f3ff 22.83px,#27ffd8 30.44px,#58ffa7 38.05px,#8eff71 45.66px,#d2ff2d 53.27px,#fff000 60.89px,#ffbc00 68.50px,#ff8b00 76.11px,#ff5f00 83.72px,#ff3500 91.33px,#ff1300 98.94px,#ff0300 106.55px,#ff1000 114.16px,#ff2e00 121.77px,#ff5700 129.38px,#ff8300 136.99px,#ffb300 144.60px,#ffe700 152.21px,#ddff22 159.82px,#9aff65 167.44px,#60ff9f 175.05px,#2fffd0 182.66px,#01fffe 190.27px,#00b2ff 197.88px,#005fff 205.10px,#005cff 205.49px,#004dff 207.10px,#0000f0 208.60px,#0000b4 210.10px,#000093 211.60px)"></div>
<div style="position:absolute;left:405.8px;top:472.3px;width:213.1px;height:2.6px;background:linear-gradient(90deg,#00008d 0.00px,#000097 1.00px,#0000b2 2.00px,#0000e4 3.00px,#002fff 4.00px,#0040ff 6.00px,#004fff 7.61px,#00a2ff 15.22px,#00f0ff 22.83px,#25ffda 30.44px,#55ffaa 38.05px,#88ff77 45.66px,#ccff33 53.27px,#fff500 60.89px,#ffc200 68.50px,#ff9100 76.11px,#ff6400 83.72px,#ff3b00 91.33px,#ff1800 98.94px,#ff0800 106.55px,#ff1400 114.16px,#ff3500 121.77px,#ff5d00 129.38px,#ff8900 136.99px,#ffb900 144.60px,#ffec00 152.21px,#d7ff28 159.82px,#94ff6b 167.44px,#5dffa2 175.05px,#2dffd2 182.66px,#00fdff 190.27px,#00b0ff 197.88px,#005eff 205.10px,#005aff 205.49px,#004cff 207.10px,#0000ef 208.60px,#0000b4 210.10px,#000093 211.60px)"></div>
<div style="position:absolute;left:405.8px;top:474.3px;width:213.1px;height:2.6px;background:linear-gradient(90deg,#00008d 0.00px,#000096 1.00px,#0000b2 2.00px,#0000e3 3.00px,#002dff 4.00px,#003fff 6.00px,#004dff 7.61px,#00a0ff 15.22px,#00edff 22.83px,#22ffdd 30.44px,#51ffae 38.05px,#83ff7c 45.66px,#c6ff39 53.27px,#fffb00 60.89px,#ffc700 68.50px,#ff9700 76.11px,#ff6a00 83.72px,#ff4100 91.33px,#ff1e00 98.94px,#ff0d00 106.55px,#ff1900 114.16px,#ff3b00 121.77px,#ff6300 129.38px,#ff8f00 136.99px,#ffbf00 144.60px,#fff200 152.21px,#d1ff2e 159.82px,#8fff70 167.44px,#59ffa6 175.05px,#2affd5 182.66px,#00faff 190.27px,#00adff 197.88px,#005cff 205.10px,#0059ff 205.49px,#004bff 207.10px,#0000ef 208.60px,#0000b3 210.10px,#000093 211.60px)"></div>
<div style="position:absolute;left:405.8px;top:476.3px;width:213.1px;height:2.6px;background:linear-gradient(90deg,#00008d 0.00px,#000096 1.00px,#0000b1 2.00px,#0000e2 3.00px,#002cff 4.00px,#003eff 6.00px,#004cff 7.61px,#009eff 15.22px,#00eaff 22.83px,#20ffdf 30.44px,#4effb1 38.05px,#7eff81 45.66px,#c1ff3e 53.27px,#feff01 60.89px,#ffcd00 68.50px,#ff9c00 76.11px,#ff7100 83.72px,#ff4800 91.33px,#ff2500 98.94px,#ff1200 106.55px,#ff2000 114.16px,#ff4100 121.77px,#ff6900 129.38px,#ff9500 136.99px,#ffc500 144.60px,#fff700 152.21px,#cbff34 159.82px,#89ff76 167.44px,#56ffa9 175.05px,#27ffd8 182.66px,#00f6ff 190.27px,#00abff 197.88px,#005bff 205.10px,#0057ff 205.49px,#0049ff 207.10px,#0000ee 208.60px,#0000b3 210.10px,#000093 211.60px)"></div>
<div style="position:absolute;left:405.8px;top:478.3px;width:213.1px;height:2.6px;background:linear-gradient(90deg,#00008d 0.00px,#000096 1.00px,#0000b1 2.00px,#0000e1 3.00px,#002aff 4.00px,#003cff 6.00px,#004aff 7.61px,#009cff 15.22px,#00e7ff 22.83px,#1dffe2 30.44px,#4bffb4 38.05px,#7aff85 45.66px,#bbff44 53.27px,#f7ff08 60.89px,#ffd300 68.50px,#ffa300 76.11px,#ff7700 83.72px,#ff4f00 91.33px,#ff2c00 98.94px,#ff1700 106.55px,#ff2700 114.16px,#ff4800 121.77px,#ff7000 129.38px,#ff9b00 136.99px,#ffcb00 144.60px,#fffd00 152.21px,#c6ff39 159.82px,#83ff7c 167.44px,#53ffac 175.05px,#25ffda 182.66px,#00f3ff 190.27px,#00a9ff 197.88px,#0059ff 205.10px,#0056ff 205.49px,#0048ff 207.10px,#0000ed 208.60px,#0000b2 210.10px,#000092 211.60px)"></div>
<div style="position:absolute;left:405.8px;top:480.3px;width:213.1px;height:2.6px;background:linear-gradient(90deg,#00008d 0.00px,#000096 1.00px,#0000b1 2.00px,#0000e0 3.00px,#0029ff 4.00px,#003bff 6.00px,#0049ff 7.61px,#009aff 15.22px,#00e3ff 22.83px,#1bffe4 30.44px,#47ffb8 38.05px,#76ff89 45.66px,#b4ff4b 53.27px,#f1ff0e 60.89px,#ffd900 68.50px,#ffa900 76.11px,#ff7d00 83.72px,#ff5500 91.33px,#ff3300 98.94px,#ff1e00 106.55px,#ff2e00 114.16px,#ff4f00 121.77px,#ff7600 129.38px,#ffa100 136.99px,#ffd100 144.60px,#faff05 152.21px,#c0ff3f 159.82px,#7eff81 167.44px,#4fffb0 175.05px,#22ffdd 182.66px,#00f0ff 190.27px,#00a7ff 197.88px,#0058ff 205.10px,#0054ff 205.49px,#0046ff 207.10px,#0000ec 208.60px,#0000b2 210.10px,#000092 211.60px)"></div>
<div style="position:absolute;left:405.8px;top:482.3px;width:213.1px;height:2.6px;background:linear-gradient(90deg,#00008d 0.00px,#000095 1.00px,#0000b0 2.00px,#0000df 3.00px,#0028ff 4.00px,#0039ff 6.00px,#0047ff 7.61px,#0098ff 15.22px,#00e0ff 22.83px,#18ffe7 30.44px,#44ffbb 38.05px,#72ff8d 45.66px,#aeff51 53.27px,#eaff15 60.89px,#ffe000 68.50px,#ffaf00 76.11px,#ff8300 83.72px,#ff5c00 91.33px,#ff3a00 98.94px,#ff2500 106.55px,#ff3600 114.16px,#ff5600 121.77px,#ff7c00 129.38px,#ffa700 136.99px,#ffd700 144.60px,#f4ff0b 152.21px,#b9ff46 159.82px,#7aff85 167.44px,#4cffb3 175.05px,#1fffe0 182.66px,#00ecff 190.27px,#00a4ff 197.88px,#0056ff 205.10px,#0053ff 205.49px,#0045ff 207.10px,#0000eb 208.60px,#0000b2 210.10px,#000092 211.60px)"></div>
<div style="position:absolute;left:405.8px;top:484.3px;width:213.1px;height:2.6px;background:linear-gradient(90deg,#00008d 0.00px,#000095 1.00px,#0000b0 2.00px,#0000df 3.00px,#0026ff 4.00px,#0038ff 6.00px,#0046ff 7.61px,#0096ff 15.22px,#00ddff 22.83px,#16ffe9 30.44px,#41ffbe 38.05px,#6eff91 45.66px,#a8ff57 53.27px,#e4ff1b 60.89px,#ffe600 68.50px,#ffb600 76.11px,#ff8a00 83.72px,#ff6300 91.33px,#ff4200 98.94px,#ff2d00 106.55px,#ff3d00 114.16px,#ff5d00 121.77px,#ff8300 129.38px,#ffae00 136.99px,#ffde00 144.60px,#edff12 152.21px,#b3ff4c 159.82px,#76ff89 167.44px,#49ffb6 175.05px,#1dffe2 182.66px,#00e9ff 190.27px,#00a2ff 197.88px,#0054ff 205.10px,#0051ff 205.49px,#0043ff 207.10px,#0000ea 208.60px,#0000b1 210.10px,#000092 211.60px)"></div>
<div style="position:absolute;left:405.8px;top:486.3px;width:213.1px;height:2.6px;background:linear-gradient(90deg,#00008d 0.00px,#000095 1.00px,#0000af 2.00px,#0000de 3.00px,#0025ff 4.00px,#0036ff 6.00px,#0044ff 7.61px,#0093ff 15.22px,#00daff 22.83px,#13ffec 30.44px,#3effc1 38.05px,#6aff95 45.66px,#a2ff5d 53.27px,#ddff22 60.89px,#ffec00 68.50px,#ffbd00 76.11px,#ff9100 83.72px,#ff6a00 91.33px,#ff4900 98.94px,#ff3400 106.55px,#ff4400 114.16px,#ff6400 121.77px,#ff8a00 129.38px,#ffb500 136.99px,#ffe400 144.60px,#e7ff18 152.21px,#adff52 159.82px,#72ff8d 167.44px,#45ffba 175.05px,#1affe5 182.66px,#00e6ff 190.27px,#00a0ff 197.88px,#0053ff 205.10px,#004fff 205.49px,#0041ff 207.10px,#0000e9 208.60px,#0000b1 210.10px,#000092 211.60px)"></div>
<div style="position:absolute;left:405.8px;top:488.3px;width:213.1px;height:2.6px;background:linear-gradient(90deg,#00008d 0.00px,#000095 1.00px,#0000af 2.00px,#0000dd 3.00px,#0023ff 4.00px,#0035ff 6.00px,#0043ff 7.61px,#0091ff 15.22px,#00d7ff 22.83px,#11ffee 30.44px,#3affc5 38.05px,#66ff99 45.66px,#9cff63 53.27px,#d7ff28 60.89px,#fff300 68.50px,#ffc400 76.11px,#ff9700 83.72px,#ff7100 91.33px,#ff5000 98.94px,#ff3c00 106.55px,#ff4c00 114.16px,#ff6b00 121.77px,#ff9100 129.38px,#ffbc00 136.99px,#ffeb00 144.60px,#e0ff1f 152.21px,#a6ff59 159.82px,#6eff91 167.44px,#42ffbd 175.05px,#18ffe7 182.66px,#00e3ff 190.27px,#009eff 197.88px,#0051ff 205.10px,#004eff 205.49px,#0040ff 207.10px,#0000e8 208.60px,#0000b0 210.10px,#000092 211.60px)"></div>
<div style="position:absolute;left:405.8px;top:490.3px;width:213.1px;height:2.6px;background:linear-gradient(90deg,#00008c 0.00px,#000095 1.00px,#0000ae 2.00px,#0000dc 3.00px,#0022ff 4.00px,#0033ff 6.00px,#0041ff 7.61px,#008fff 15.22px,#00d4ff 22.83px,#0ffff0 30.44px,#37ffc8 38.05px,#62ff9d 45.66px,#95ff6a 53.27px,#d1ff2e 60.89px,#fff900 68.50px,#ffca00 76.11px,#ff9e00 83.72px,#ff7800 91.33px,#ff5800 98.94px,#ff4400 106.55px,#ff5300 114.16px,#ff7200 121.77px,#ff9700 129.38px,#ffc300 136.99px,#fff100 144.60px,#daff25 152.21px,#a0ff5f 159.82px,#6aff95 167.44px,#3effc1 175.05px,#15ffea 182.66px,#00e0ff 190.27px,#009bff 197.88px,#0050ff 205.10px,#004cff 205.49px,#003eff 207.10px,#0000e8 208.60px,#0000b0 210.10px,#000091 211.60px)"></div>
<div style="position:absolute;left:405.8px;top:492.3px;width:213.1px;height:2.6px;background:linear-gradient(90deg,#00008c 0.00px,#000094 1.00px,#0000ae 2.00px,#0000db 3.00px,#0020ff 4.00px,#0031ff 6.00px,#003fff 7.61px,#008dff 15.22px,#00d1ff 22.83px,#0cfff3 30.44px,#34ffcb 38.05px,#5effa1 45.66px,#8fff70 53.27px,#caff35 60.89px,#feff01 68.50px,#ffd100 76.11px,#ffa600 83.72px,#ff7f00 91.33px,#ff5f00 98.94px,#ff4b00 106.55px,#ff5b00 114.16px,#ff7900 121.77px,#ff9e00 129.38px,#ffca00 136.99px,#fff800 144.60px,#d3ff2c 152.21px,#9aff65 159.82px,#66ff99 167.44px,#3bffc4 175.05px,#13ffec 182.66px,#00ddff 190.27px,#0099ff 197.88px,#004eff 205.10px,#004bff 205.49px,#003dff 207.10px,#0000e7 208.60px,#0000af 210.10px,#000091 211.60px)"></div>
<div style="position:absolute;left:405.8px;top:494.3px;width:213.1px;height:2.6px;background:linear-gradient(90deg,#00008c 0.00px,#000094 1.00px,#0000ad 2.00px,#0000da 3.00px,#001eff 4.00px,#0030ff 6.00px,#003eff 7.61px,#008bff 15.22px,#00cfff 22.83px,#0afff5 30.44px,#30ffcf 38.05px,#5bffa4 45.66px,#89ff76 53.27px,#c4ff3b 60.89px,#f7ff08 68.50px,#ffd800 76.11px,#ffad00 83.72px,#ff8700 91.33px,#ff6700 98.94px,#ff5300 106.55px,#ff6300 114.16px,#ff8100 121.77px,#ffa600 129.38px,#ffd100 136.99px,#fffe00 144.60px,#cdff32 152.21px,#93ff6c 159.82px,#62ff9d 167.44px,#38ffc7 175.05px,#10ffef 182.66px,#00daff 190.27px,#0097ff 197.88px,#004cff 205.10px,#0049ff 205.49px,#003bff 207.10px,#0000e6 208.60px,#0000af 210.10px,#000091 211.60px)"></div>
<div style="position:absolute;left:405.8px;top:496.3px;width:213.1px;height:2.6px;background:linear-gradient(90deg,#00008c 0.00px,#000094 1.00px,#0000ad 2.00px,#0000d9 3.00px,#001dff 4.00px,#002eff 6.00px,#003cff 7.61px,#0089ff 15.22px,#00ccff 22.83px,#07fff8 30.44px,#2dffd2 38.05px,#57ffa8 45.66px,#83ff7c 53.27px,#beff41 60.89px,#f0ff0f 68.50px,#ffdf00 76.11px,#ffb400 83.72px,#ff8e00 91.33px,#ff6f00 98.94px,#ff5b00 106.55px,#ff6a00 114.16px,#ff8800 121.77px,#ffad00 129.38px,#ffd800 136.99px,#f9ff06 144.60px,#c7ff38 152.21px,#8dff72 159.82px,#5effa1 167.44px,#34ffcb 175.05px,#0efff1 182.66px,#00d7ff 190.27px,#0095ff 197.88px,#004bff 205.10px,#0047ff 205.49px,#0039ff 207.10px,#0000e5 208.60px,#0000ae 210.10px,#000091 211.60px)"></div>
<div style="position:absolute;left:405.8px;top:498.3px;width:213.1px;height:2.6px;background:linear-gradient(90deg,#00008c 0.00px,#000094 1.00px,#0000ac 2.00px,#0000d8 3.00px,#001bff 4.00px,#002cff 6.00px,#003aff 7.61px,#0087ff 15.22px,#00c9ff 22.83px,#05fffa 30.44px,#2affd5 38.05px,#53ffac 45.66px,#7dff82 53.27px,#b7ff48 60.89px,#eaff15 68.50px,#ffe600 76.11px,#ffbc00 83.72px,#ff9600 91.33px,#ff7700 98.94px,#ff6300 106.55px,#ff7200 114.16px,#ff9000 121.77px,#ffb500 129.38px,#ffdf00 136.99px,#f2ff0d 144.60px,#c1ff3e 152.21px,#87ff78 159.82px,#5affa5 167.44px,#31ffce 175.05px,#0cfff3 182.66px,#00d4ff 190.27px,#0093ff 197.88px,#0049ff 205.10px,#0045ff 205.49px,#0038ff 207.10px,#0000e4 208.60px,#0000ae 210.10px,#000091 211.60px)"></div>
<div style="position:absolute;left:405.8px;top:500.3px;width:213.1px;height:2.6px;background:linear-gradient(90deg,#00008c 0.00px,#000094 1.00px,#0000ac 2.00px,#0000d7 3.00px,#001aff 4.00px,#002bff 6.00px,#0039ff 7.61px,#0084ff 15.22px,#00c6ff 22.83px,#03fffc 30.44px,#28ffd7 38.05px,#50ffaf 45.66px,#79ff86 53.27px,#b0ff4f 60.89px,#e3ff1c 68.50px,#ffee00 76.11px,#ffc300 83.72px,#ff9d00 91.33px,#ff7e00 98.94px,#ff6b00 106.55px,#ff7a00 114.16px,#ff9700 121.77px,#ffbc00 129.38px,#ffe600 136.99px,#ebff14 144.60px,#baff45 152.21px,#80ff7f 159.82px,#57ffa8 167.44px,#2effd1 175.05px,#09fff6 182.66px,#00d1ff 190.27px,#0091ff 197.88px,#0047ff 205.10px,#0044ff 205.49px,#0036ff 207.10px,#0000e3 208.60px,#0000ad 210.10px,#000090 211.60px)"></div>
<div style="position:absolute;left:405.8px;top:502.3px;width:213.1px;height:2.6px;background:linear-gradient(90deg,#00008c 0.00px,#000094 1.00px,#0000ab 2.00px,#0000d6 3.00px,#0018ff 4.00px,#0029ff 6.00px,#0037ff 7.61px,#0082ff 15.22px,#00c3ff 22.83px,#01fffe 30.44px,#25ffda 38.05px,#4cffb3 45.66px,#75ff8a 53.27px,#aaff55 60.89px,#dcff23 68.50px,#fff500 76.11px,#ffcb00 83.72px,#ffa500 91.33px,#ff8600 98.94px,#ff7400 106.55px,#ff8200 114.16px,#ff9f00 121.77px,#ffc400 129.38px,#ffed00 136.99px,#e4ff1b 144.60px,#b3ff4c 152.21px,#7cff83 159.82px,#53ffac 167.44px,#2bffd4 175.05px,#07fff8 182.66px,#00ceff 190.27px,#008fff 197.88px,#0045ff 205.10px,#0042ff 205.49px,#0034ff 207.10px,#0000e2 208.60px,#0000ad 210.10px,#000090 211.60px)"></div>
<div style="position:absolute;left:405.8px;top:504.3px;width:213.1px;height:2.6px;background:linear-gradient(90deg,#00008c 0.00px,#000094 1.00px,#0000ab 2.00px,#0000d5 3.00px,#0016ff 4.00px,#0027ff 6.00px,#0035ff 7.61px,#007fff 15.22px,#00c1ff 22.83px,#00fcff 30.44px,#22ffdd 38.05px,#48ffb7 45.66px,#70ff8f 53.27px,#a3ff5c 60.89px,#d6ff29 68.50px,#fffc00 76.11px,#ffd200 83.72px,#ffad00 91.33px,#ff8f00 98.94px,#ff7c00 106.55px,#ff8a00 114.16px,#ffa700 121.77px,#ffcc00 129.38px,#fff500 136.99px,#deff21 144.60px,#acff53 152.21px,#77ff88 159.82px,#4fffb0 167.44px,#28ffd7 175.05px,#05fffa 182.66px,#00cbff 190.27px,#008dff 197.88px,#0044ff 205.10px,#0040ff 205.49px,#0032ff 207.10px,#0000e1 208.60px,#0000ac 210.10px,#000090 211.60px)"></div>
<div style="position:absolute;left:405.8px;top:506.3px;width:213.1px;height:2.6px;background:linear-gradient(90deg,#00008c 0.00px,#000094 1.00px,#0000aa 2.00px,#0000d4 3.00px,#0015ff 4.00px,#0026ff 6.00px,#0033ff 7.61px,#007cff 15.22px,#00beff 22.83px,#00f8ff 30.44px,#1fffe0 38.05px,#45ffba 45.66px,#6cff93 53.27px,#9cff63 60.89px,#cfff30 68.50px,#fbff04 76.11px,#ffda00 83.72px,#ffb500 91.33px,#ff9700 98.94px,#ff8400 106.55px,#ff9200 114.16px,#ffaf00 121.77px,#ffd300 129.38px,#fffc00 136.99px,#d7ff28 144.60px,#a6ff59 152.21px,#73ff8c 159.82px,#4bffb4 167.44px,#25ffda 175.05px,#02fffd 182.66px,#00c8ff 190.27px,#008bff 197.88px,#0042ff 205.10px,#003eff 205.49px,#0031ff 207.10px,#0000e0 208.60px,#0000ac 210.10px,#000090 211.60px)"></div>
<div style="position:absolute;left:405.8px;top:508.3px;width:213.1px;height:2.6px;background:linear-gradient(90deg,#00008c 0.00px,#000093 1.00px,#0000aa 2.00px,#0000d3 3.00px,#0013ff 4.00px,#0024ff 6.00px,#0032ff 7.61px,#0079ff 15.22px,#00bbff 22.83px,#00f5ff 30.44px,#1dffe2 38.05px,#41ffbe 45.66px,#68ff97 53.27px,#95ff6a 60.89px,#c9ff36 68.50px,#f4ff0b 76.11px,#ffe200 83.72px,#ffbd00 91.33px,#ff9f00 98.94px,#ff8d00 106.55px,#ff9b00 114.16px,#ffb700 121.77px,#ffdb00 129.38px,#fbff04 136.99px,#d1ff2e 144.60px,#9fff60 152.21px,#6eff91 159.82px,#48ffb7 167.44px,#23ffdc 175.05px,#00ffff 182.66px,#00c6ff 190.27px,#0089ff 197.88px,#0040ff 205.10px,#003dff 205.49px,#002fff 207.10px,#0000df 208.60px,#0000ab 210.10px,#000090 211.60px)"></div>
<div style="position:absolute;left:405.8px;top:510.3px;width:213.1px;height:2.6px;background:linear-gradient(90deg,#00008c 0.00px,#000093 1.00px,#0000aa 2.00px,#0000d2 3.00px,#0011ff 4.00px,#0022ff 6.00px,#0030ff 7.61px,#0077ff 15.22px,#00b9ff 22.83px,#00f1ff 30.44px,#1affe5 38.05px,#3effc1 45.66px,#63ff9c 53.27px,#8fff70 60.89px,#c3ff3c 68.50px,#edff12 76.11px,#ffe900 83.72px,#ffc500 91.33px,#ffa700 98.94px,#ff9500 106.55px,#ffa300 114.16px,#ffbf00 121.77px,#ffe300 129.38px,#f4ff0b 136.99px,#caff35 144.60px,#98ff67 152.21px,#6aff95 159.82px,#44ffbb 167.44px,#20ffdf 175.05px,#00fbff 182.66px,#00c3ff 190.27px,#0086ff 197.88px,#003eff 205.10px,#003bff 205.49px,#002dff 207.10px,#0000de 208.60px,#0000ab 210.10px,#00008f 211.60px)"></div>
<div style="position:absolute;left:405.8px;top:512.3px;width:213.1px;height:2.6px;background:linear-gradient(90deg,#00008c 0.00px,#000093 1.00px,#0000aa 2.00px,#0000d1 3.00px,#000fff 4.00px,#0020ff 6.00px,#002eff 7.61px,#0074ff 15.22px,#00b6ff 22.83px,#00eeff 30.44px,#18ffe7 38.05px,#3affc5 45.66px,#5fffa0 53.27px,#88ff77 60.89px,#bcff43 68.50px,#e6ff19 76.11px,#fff100 83.72px,#ffcd00 91.33px,#ffb000 98.94px,#ff9e00 106.55px,#ffac00 114.16px,#ffc800 121.77px,#ffeb00 129.38px,#edff12 136.99px,#c4ff3b 144.60px,#91ff6e 152.21px,#66ff99 159.82px,#41ffbe 167.44px,#1dffe2 175.05px,#00f7ff 182.66px,#00c0ff 190.27px,#0083ff 197.88px,#003cff 205.10px,#0039ff 205.49px,#002bff 207.10px,#0000dd 208.60px,#0000aa 210.10px,#00008f 211.60px)"></div>
<div style="position:absolute;left:405.8px;top:514.3px;width:213.1px;height:2.6px;background:linear-gradient(90deg,#00008c 0.00px,#000093 1.00px,#0000a9 2.00px,#0000d0 3.00px,#000eff 4.00px,#001fff 6.00px,#002cff 7.61px,#0071ff 15.22px,#00b4ff 22.83px,#00ebff 30.44px,#15ffea 38.05px,#37ffc8 45.66px,#5bffa4 53.27px,#82ff7d 60.89px,#b5ff4a 68.50px,#dfff20 76.11px,#fff900 83.72px,#ffd500 91.33px,#ffb800 98.94px,#ffa600 106.55px,#ffb400 114.16px,#ffd000 121.77px,#fff300 129.38px,#e6ff19 136.99px,#bdff42 144.60px,#8bff74 152.21px,#61ff9e 159.82px,#3dffc2 167.44px,#1bffe4 175.05px,#00f4ff 182.66px,#00beff 190.27px,#0080ff 197.88px,#003aff 205.10px,#0037ff 205.49px,#002aff 207.10px,#0000dc 208.60px,#0000aa 210.10px,#00008f 211.60px)"></div>
<div style="position:absolute;left:405.8px;top:516.3px;width:213.1px;height:2.6px;background:linear-gradient(90deg,#00008c 0.00px,#000093 1.00px,#0000a9 2.00px,#0000cf 3.00px,#000cff 4.00px,#001dff 6.00px,#002aff 7.61px,#006eff 15.22px,#00b1ff 22.83px,#00e8ff 30.44px,#13ffec 38.05px,#33ffcc 45.66px,#57ffa8 53.27px,#7cff83 60.89px,#aeff51 68.50px,#d9ff26 76.11px,#fdff02 83.72px,#ffde00 91.33px,#ffc100 98.94px,#ffaf00 106.55px,#ffbd00 114.16px,#ffd800 121.77px,#fffb00 129.38px,#dfff20 136.99px,#b6ff49 144.60px,#84ff7b 152.21px,#5dffa2 159.82px,#39ffc6 167.44px,#18ffe7 175.05px,#00f1ff 182.66px,#00bbff 190.27px,#007dff 197.88px,#0039ff 205.10px,#0035ff 205.49px,#0028ff 207.10px,#0000db 208.60px,#0000a9 210.10px,#00008f 211.60px)"></div>
<div style="position:absolute;left:405.8px;top:518.3px;width:213.1px;height:2.6px;background:linear-gradient(90deg,#00008b 0.00px,#000093 1.00px,#0000a9 2.00px,#0000cf 3.00px,#000aff 4.00px,#001bff 6.00px,#0029ff 7.61px,#006bff 15.22px,#00afff 22.83px,#00e5ff 30.44px,#10ffef 38.05px,#30ffcf 45.66px,#54ffab 53.27px,#78ff87 60.89px,#a7ff58 68.50px,#d2ff2d 76.11px,#f6ff09 83.72px,#ffe600 91.33px,#ffc900 98.94px,#ffb800 106.55px,#ffc500 114.16px,#ffe000 121.77px,#fcff03 129.38px,#d9ff26 136.99px,#afff50 144.60px,#7eff81 152.21px,#5affa5 159.82px,#36ffc9 167.44px,#16ffe9 175.05px,#00edff 182.66px,#00b8ff 190.27px,#007bff 197.88px,#0037ff 205.10px,#0033ff 205.49px,#0026ff 207.10px,#0000da 208.60px,#0000a9 210.10px,#00008f 211.60px)"></div>
<div style="position:absolute;left:405.8px;top:520.3px;width:213.1px;height:2.6px;background:linear-gradient(90deg,#00008b 0.00px,#000093 1.00px,#0000a9 2.00px,#0000cf 3.00px,#0009ff 4.00px,#0019ff 6.00px,#0027ff 7.61px,#0068ff 15.22px,#00adff 22.83px,#00e2ff 30.44px,#0efff1 38.05px,#2cffd3 45.66px,#50ffaf 53.27px,#73ff8c 60.89px,#a0ff5f 68.50px,#ccff33 76.11px,#efff10 83.72px,#ffee00 91.33px,#ffd200 98.94px,#ffc000 106.55px,#ffce00 114.16px,#ffe900 121.77px,#f5ff0a 129.38px,#d2ff2d 136.99px,#a8ff57 144.60px,#79ff86 152.21px,#56ffa9 159.82px,#32ffcd 167.44px,#13ffec 175.05px,#00eaff 182.66px,#00b6ff 190.27px,#0078ff 197.88px,#0035ff 205.10px,#0032ff 205.49px,#0024ff 207.10px,#0000d8 208.60px,#0000a8 210.10px,#00008f 211.60px)"></div>
<div style="position:absolute;left:405.8px;top:522.3px;width:213.1px;height:2.6px;background:linear-gradient(90deg,#00008b 0.00px,#000093 1.00px,#0000a8 2.00px,#0000ce 3.00px,#0007ff 4.00px,#0017ff 6.00px,#0025ff 7.61px,#0065ff 15.22px,#00aaff 22.83px,#00dfff 30.44px,#0bfff4 38.05px,#2affd5 45.66px,#4cffb3 53.27px,#6fff90 60.89px,#99ff66 68.50px,#c5ff3a 76.11px,#e8ff17 83.72px,#fff600 91.33px,#ffda00 98.94px,#ffc900 106.55px,#ffd600 114.16px,#fff100 121.77px,#eeff11 129.38px,#ccff33 136.99px,#a1ff5e 144.60px,#75ff8a 152.21px,#52ffad 159.82px,#2fffd0 167.44px,#11ffee 175.05px,#00e7ff 182.66px,#00b3ff 190.27px,#0075ff 197.88px,#0033ff 205.10px,#0030ff 205.49px,#0022ff 207.10px,#0000d7 208.60px,#0000a8 210.10px,#00008f 211.60px)"></div>
<div style="position:absolute;left:405.8px;top:524.3px;width:213.1px;height:2.6px;background:linear-gradient(90deg,#00008b 0.00px,#000092 1.00px,#0000a8 2.00px,#0000ce 3.00px,#0005ff 4.00px,#0016ff 6.00px,#0023ff 7.61px,#0062ff 15.22px,#00a8ff 22.83px,#00dcff 30.44px,#09fff6 38.05px,#27ffd8 45.66px,#48ffb7 53.27px,#6aff95 60.89px,#92ff6d 68.50px,#bfff40 76.11px,#e2ff1d 83.72px,#ffff00 91.33px,#ffe300 98.94px,#ffd200 106.55px,#ffdf00 114.16px,#fff900 121.77px,#e7ff18 129.38px,#c5ff3a 136.99px,#9aff65 144.60px,#70ff8f 152.21px,#4effb1 159.82px,#2cffd3 167.44px,#0efff1 175.05px,#00e4ff 182.66px,#00b1ff 190.27px,#0072ff 197.88px,#0031ff 205.10px,#002eff 205.49px,#0020ff 207.10px,#0000d6 208.60px,#0000a7 210.10px,#00008f 211.60px)"></div>
<div style="position:absolute;left:405.8px;top:526.3px;width:213.1px;height:2.6px;background:linear-gradient(90deg,#00008b 0.00px,#000092 1.00px,#0000a8 2.00px,#0000cd 3.00px,#0004ff 4.00px,#0014ff 6.00px,#0021ff 7.61px,#0060ff 15.22px,#00a6ff 22.83px,#00d9ff 30.44px,#07fff8 38.05px,#24ffdb 45.66px,#45ffba 53.27px,#66ff99 60.89px,#8bff74 68.50px,#b8ff47 76.11px,#dbff24 83.72px,#f8ff07 91.33px,#ffeb00 98.94px,#ffdb00 106.55px,#ffe800 114.16px,#fdff02 121.77px,#e0ff1f 129.38px,#bfff40 136.99px,#93ff6c 144.60px,#6bff94 152.21px,#4affb5 159.82px,#29ffd6 167.44px,#0cfff3 175.05px,#00e1ff 182.66px,#00afff 190.27px,#006fff 197.88px,#002fff 205.10px,#002cff 205.49px,#001fff 207.10px,#0000d5 208.60px,#0000a7 210.10px,#00008f 211.60px)"></div>
<div style="position:absolute;left:405.8px;top:528.3px;width:213.1px;height:2.6px;background:linear-gradient(90deg,#00008b 0.00px,#000092 1.00px,#0000a8 2.00px,#0000cd 3.00px,#0003ff 4.00px,#0012ff 6.00px,#001fff 7.61px,#005eff 15.22px,#00a3ff 22.83px,#00d6ff 30.44px,#04fffb 38.05px,#22ffdd 45.66px,#41ffbe 53.27px,#61ff9e 60.89px,#84ff7b 68.50px,#b0ff4f 76.11px,#d4ff2b 83.72px,#f1ff0e 91.33px,#fff400 98.94px,#ffe300 106.55px,#fff000 114.16px,#f6ff09 121.77px,#daff25 129.38px,#b8ff47 136.99px,#8cff73 144.60px,#67ff98 152.21px,#47ffb8 159.82px,#26ffd9 167.44px,#09fff6 175.05px,#00deff 182.66px,#00acff 190.27px,#006cff 197.88px,#002dff 205.10px,#002aff 205.49px,#001dff 207.10px,#0000d4 208.60px,#0000a6 210.10px,#00008f 211.60px)"></div>
<div style="position:absolute;left:405.8px;top:530.3px;width:213.1px;height:2.6px;background:linear-gradient(90deg,#00008b 0.00px,#000092 1.00px,#0000a7 2.00px,#0000cc 3.00px,#0003ff 4.00px,#0010ff 6.00px,#001dff 7.61px,#005cff 15.22px,#00a1ff 22.83px,#00d3ff 30.44px,#02fffd 38.05px,#1fffe0 45.66px,#3dffc2 53.27px,#5dffa2 60.89px,#7eff81 68.50px,#a9ff56 76.11px,#ceff31 83.72px,#eaff15 91.33px,#fffd00 98.94px,#ffec00 106.55px,#fff900 114.16px,#efff10 121.77px,#d3ff2c 129.38px,#b0ff4f 136.99px,#85ff7a 144.60px,#62ff9d 152.21px,#43ffbc 159.82px,#24ffdb 167.44px,#07fff8 175.05px,#00dbff 182.66px,#00aaff 190.27px,#0069ff 197.88px,#002bff 205.10px,#0028ff 205.49px,#001bff 207.10px,#0000d3 208.60px,#0000a6 210.10px,#00008e 211.60px)"></div>
<div style="position:absolute;left:405.8px;top:532.3px;width:213.1px;height:2.6px;background:linear-gradient(90deg,#00008b 0.00px,#000092 1.00px,#0000a7 2.00px,#0000cc 3.00px,#0002ff 4.00px,#000eff 6.00px,#001bff 7.61px,#005aff 15.22px,#009fff 22.83px,#00d0ff 30.44px,#00ffff 38.05px,#1cffe3 45.66px,#3affc5 53.27px,#59ffa6 60.89px,#79ff86 68.50px,#a2ff5d 76.11px,#c8ff37 83.72px,#e4ff1b 91.33px,#faff05 98.94px,#fff500 106.55px,#fdff02 114.16px,#e8ff17 121.77px,#cdff32 129.38px,#a9ff56 136.99px,#7fff80 144.60px,#5effa1 152.21px,#3fffc0 159.82px,#21ffde 167.44px,#05fffa 175.05px,#00d8ff 182.66px,#00a8ff 190.27px,#0065ff 197.88px,#0029ff 205.10px,#0026ff 205.49px,#0019ff 207.10px,#0000d2 208.60px,#0000a6 210.10px,#00008e 211.60px)"></div>
<div style="position:absolute;left:405.8px;top:534.3px;width:213.1px;height:2.6px;background:linear-gradient(90deg,#00008b 0.00px,#000092 1.00px,#0000a7 2.00px,#0000cb 3.00px,#0001ff 4.00px,#000cff 6.00px,#001aff 7.61px,#0057ff 15.22px,#009dff 22.83px,#00cdff 30.44px,#00fbff 38.05px,#1affe5 45.66px,#36ffc9 53.27px,#55ffaa 60.89px,#75ff8a 68.50px,#9bff64 76.11px,#c1ff3e 83.72px,#ddff22 91.33px,#f3ff0c 98.94px,#fffe00 106.55px,#f6ff09 114.16px,#e1ff1e 121.77px,#c6ff39 129.38px,#a2ff5d 136.99px,#7aff85 144.60px,#5affa5 152.21px,#3cffc3 159.82px,#1effe1 167.44px,#03fffc 175.05px,#00d5ff 182.66px,#00a5ff 190.27px,#0062ff 197.88px,#0027ff 205.10px,#0024ff 205.49px,#0017ff 207.10px,#0000d1 208.60px,#0000a6 210.10px,#00008e 211.60px)"></div>
<div style="position:absolute;left:405.8px;top:536.3px;width:213.1px;height:2.6px;background:linear-gradient(90deg,#00008b 0.00px,#000092 1.00px,#0000a7 2.00px,#0000cb 3.00px,#0000ff 4.00px,#000aff 6.00px,#0018ff 7.61px,#0055ff 15.22px,#009bff 22.83px,#00cbff 30.44px,#00f7ff 38.05px,#17ffe8 45.66px,#32ffcd 53.27px,#51ffae 60.89px,#70ff8f 68.50px,#94ff6b 76.11px,#baff45 83.72px,#d6ff29 91.33px,#ecff13 98.94px,#f9ff06 106.55px,#efff10 114.16px,#dbff24 121.77px,#c0ff3f 129.38px,#9bff64 136.99px,#75ff8a 144.60px,#56ffa9 152.21px,#38ffc7 159.82px,#1cffe3 167.44px,#00ffff 175.05px,#00d3ff 182.66px,#00a3ff 190.27px,#0060ff 197.88px,#0025ff 205.10px,#0022ff 205.49px,#0015ff 207.10px,#0000d0 208.60px,#0000a5 210.10px,#00008e 211.60px)"></div>
<div style="position:absolute;left:405.8px;top:538.3px;width:213.1px;height:2.6px;background:linear-gradient(90deg,#00008b 0.00px,#000092 1.00px,#0000a6 2.00px,#0000ca 3.00px,#0000fe 4.00px,#0009ff 6.00px,#0016ff 7.61px,#0053ff 15.22px,#0099ff 22.83px,#00c8ff 30.44px,#00f4ff 38.05px,#15ffea 45.66px,#2fffd0 53.27px,#4effb1 60.89px,#6bff94 68.50px,#8dff72 76.11px,#b3ff4c 83.72px,#d0ff2f 91.33px,#e5ff1a 98.94px,#f2ff0d 106.55px,#e8ff17 114.16px,#d4ff2b 121.77px,#b9ff46 129.38px,#94ff6b 136.99px,#70ff8f 144.60px,#53ffac 152.21px,#34ffcb 159.82px,#19ffe6 167.44px,#00fcff 175.05px,#00d0ff 182.66px,#00a1ff 190.27px,#005eff 197.88px,#0023ff 205.10px,#0020ff 205.49px,#0013ff 207.10px,#0000cf 208.60px,#0000a5 210.10px,#00008e 211.60px)"></div>
<div style="position:absolute;left:405.8px;top:540.3px;width:213.1px;height:2.6px;background:linear-gradient(90deg,#00008b 0.00px,#000091 1.00px,#0000a6 2.00px,#0000ca 3.00px,#0000fe 4.00px,#0007ff 6.00px,#0014ff 7.61px,#0051ff 15.22px,#0097ff 22.83px,#00c6ff 30.44px,#00f1ff 38.05px,#12ffed 45.66px,#2cffd3 53.27px,#4affb5 60.89px,#67ff98 68.50px,#86ff79 76.11px,#abff54 83.72px,#caff35 91.33px,#dfff20 98.94px,#ebff14 106.55px,#e1ff1e 114.16px,#ceff31 121.77px,#b1ff4e 129.38px,#8dff72 136.99px,#6cff93 144.60px,#4fffb0 152.21px,#31ffce 159.82px,#17ffe8 167.44px,#00f8ff 175.05px,#00cdff 182.66px,#009fff 190.27px,#005cff 197.88px,#0021ff 205.10px,#001eff 205.49px,#0011ff 207.10px,#0000ce 208.60px,#0000a5 210.10px,#00008e 211.60px)"></div>
<div style="position:absolute;left:405.8px;top:542.3px;width:213.1px;height:2.6px;background:linear-gradient(90deg,#00008b 0.00px,#000091 1.00px,#0000a6 2.00px,#0000c9 3.00px,#0000fd 4.00px,#0005ff 6.00px,#0012ff 7.61px,#004fff 15.22px,#0095ff 22.83px,#00c3ff 30.44px,#00eeff 38.05px,#10ffef 45.66px,#29ffd6 53.27px,#46ffb9 60.89px,#62ff9d 68.50px,#7fff80 76.11px,#a4ff5b 83.72px,#c3ff3c 91.33px,#d8ff27 98.94px,#e4ff1b 106.55px,#dbff24 114.16px,#c7ff38 121.77px,#aaff55 129.38px,#86ff79 136.99px,#67ff98 144.60px,#4bffb4 152.21px,#2dffd2 159.82px,#14ffeb 167.44px,#00f5ff 175.05px,#00cbff 182.66px,#009dff 190.27px,#0059ff 197.88px,#001fff 205.10px,#001cff 205.49px,#000fff 207.10px,#0000cd 208.60px,#0000a5 210.10px,#00008e 211.60px)"></div>
<div style="position:absolute;left:405.8px;top:544.3px;width:213.1px;height:2.6px;background:linear-gradient(90deg,#00008a 0.00px,#000091 1.00px,#0000a6 2.00px,#0000c9 3.00px,#0000fc 4.00px,#0004ff 6.00px,#0010ff 7.61px,#004dff 15.22px,#0093ff 22.83px,#00c0ff 30.44px,#00ebff 38.05px,#0efff1 45.66px,#26ffd9 53.27px,#42ffbd 60.89px,#5effa1 68.50px,#7aff85 76.11px,#9dff62 83.72px,#bdff42 91.33px,#d2ff2d 98.94px,#deff21 106.55px,#d4ff2b 114.16px,#c1ff3e 121.77px,#a3ff5c 129.38px,#7fff80 136.99px,#63ff9c 144.60px,#47ffb8 152.21px,#2bffd4 159.82px,#12ffed 167.44px,#00f2ff 175.05px,#00c8ff 182.66px,#009bff 190.27px,#0057ff 197.88px,#001dff 205.10px,#001aff 205.49px,#000dff 207.10px,#0000cd 208.60px,#0000a5 210.10px,#00008e 211.60px)"></div>
<div style="position:absolute;left:405.8px;top:546.3px;width:213.1px;height:2.6px;background:linear-gradient(90deg,#00008a 0.00px,#000091 1.00px,#0000a5 2.00px,#0000c8 3.00px,#0000fb 4.00px,#0003ff 6.00px,#000eff 7.61px,#004bff 15.22px,#0091ff 22.83px,#00beff 30.44px,#00e8ff 38.05px,#0bfff4 45.66px,#24ffdb 53.27px,#3fffc0 60.89px,#5affa5 68.50px,#76ff89 76.11px,#96ff69 83.72px,#b5ff4a 91.33px,#cbff34 98.94px,#d7ff28 106.55px,#ceff31 114.16px,#baff45 121.77px,#9cff63 129.38px,#7aff85 136.99px,#5effa1 144.60px,#44ffbb 152.21px,#28ffd7 159.82px,#10ffef 167.44px,#00efff 175.05px,#00c5ff 182.66px,#0099ff 190.27px,#0055ff 197.88px,#001bff 205.10px,#0018ff 205.49px,#000bff 207.10px,#0000cc 208.60px,#0000a4 210.10px,#00008e 211.60px)"></div>
<div style="position:absolute;left:405.8px;top:548.3px;width:213.1px;height:2.6px;background:linear-gradient(90deg,#00008a 0.00px,#000091 1.00px,#0000a5 2.00px,#0000c8 3.00px,#0000fa 4.00px,#0002ff 6.00px,#000cff 7.61px,#0049ff 15.22px,#008fff 22.83px,#00bcff 30.44px,#00e5ff 38.05px,#09fff6 45.66px,#21ffde 53.27px,#3bffc4 60.89px,#56ffa9 68.50px,#71ff8e 76.11px,#8fff70 83.72px,#aeff51 91.33px,#c5ff3a 98.94px,#d1ff2e 106.55px,#c8ff37 114.16px,#b2ff4d 121.77px,#94ff6b 129.38px,#75ff8a 136.99px,#5bffa4 144.60px,#40ffbf 152.21px,#25ffda 159.82px,#0dfff2 167.44px,#00ecff 175.05px,#00c3ff 182.66px,#0097ff 190.27px,#0053ff 197.88px,#0019ff 205.10px,#0016ff 205.49px,#0009ff 207.10px,#0000cc 208.60px,#0000a4 210.10px,#00008e 211.60px)"></div>
<div style="position:absolute;left:405.8px;top:550.3px;width:213.1px;height:2.6px;background:linear-gradient(90deg,#00008a 0.00px,#000091 1.00px,#0000a5 2.00px,#0000c7 3.00px,#0000f9 4.00px,#0002ff 6.00px,#000aff 7.61px,#0046ff 15.22px,#008dff 22.83px,#00b9ff 30.44px,#00e2ff 38.05px,#07fff8 45.66px,#1fffe0 53.27px,#37ffc8 60.89px,#52ffad 68.50px,#6cff93 76.11px,#88ff77 83.72px,#a6ff59 91.33px,#bfff40 98.94px,#caff35 106.55px,#c1ff3e 114.16px,#abff54 121.77px,#8dff72 129.38px,#71ff8e 136.99px,#57ffa8 144.60px,#3cffc3 152.21px,#23ffdc 159.82px,#0bfff4 167.44px,#00e9ff 175.05px,#00c0ff 182.66px,#0095ff 190.27px,#0051ff 197.88px,#0017ff 205.10px,#0014ff 205.49px,#0007ff 207.10px,#0000cb 208.60px,#0000a4 210.10px,#00008d 211.60px)"></div>
<div style="position:absolute;left:405.8px;top:552.3px;width:213.1px;height:2.6px;background:linear-gradient(90deg,#00008a 0.00px,#000091 1.00px,#0000a5 2.00px,#0000c7 3.00px,#0000f9 4.00px,#0001ff 6.00px,#0008ff 7.61px,#0044ff 15.22px,#008bff 22.83px,#00b7ff 30.44px,#00dfff 38.05px,#05fffa 45.66px,#1cffe3 53.27px,#34ffcb 60.89px,#4effb1 68.50px,#67ff98 76.11px,#81ff7e 83.72px,#9fff60 91.33px,#b7ff48 98.94px,#c4ff3b 106.55px,#baff45 114.16px,#a4ff5b 121.77px,#86ff79 129.38px,#6cff93 136.99px,#53ffac 144.60px,#39ffc6 152.21px,#20ffdf 159.82px,#09fff6 167.44px,#00e6ff 175.05px,#00beff 182.66px,#0093ff 190.27px,#004eff 197.88px,#0015ff 205.10px,#0012ff 205.49px,#0005ff 207.10px,#0000cb 208.60px,#0000a4 210.10px,#00008d 211.60px)"></div>
<div style="position:absolute;left:405.8px;top:554.3px;width:213.1px;height:2.6px;background:linear-gradient(90deg,#00008a 0.00px,#000091 1.00px,#0000a4 2.00px,#0000c6 3.00px,#0000f8 4.00px,#0000ff 6.00px,#0006ff 7.61px,#0042ff 15.22px,#0089ff 22.83px,#00b5ff 30.44px,#00dcff 38.05px,#02fffd 45.66px,#1affe5 53.27px,#30ffcf 60.89px,#4bffb4 68.50px,#63ff9c 76.11px,#7cff83 83.72px,#98ff67 91.33px,#b0ff4f 98.94px,#beff41 106.55px,#b3ff4c 114.16px,#9dff62 121.77px,#7fff80 129.38px,#67ff98 136.99px,#4fffb0 144.60px,#35ffca 152.21px,#1effe1 159.82px,#07fff8 167.44px,#00e3ff 175.05px,#00bcff 182.66px,#0091ff 190.27px,#004cff 197.88px,#0013ff 205.10px,#0010ff 205.49px,#0004ff 207.10px,#0000ca 208.60px,#0000a3 210.10px,#00008d 211.60px)"></div>
<div style="position:absolute;left:405.8px;top:556.3px;width:213.1px;height:2.6px;background:linear-gradient(90deg,#00008a 0.00px,#000090 1.00px,#0000a4 2.00px,#0000c6 3.00px,#0000f7 4.00px,#0000fe 6.00px,#0005ff 7.61px,#0040ff 15.22px,#0086ff 22.83px,#00b2ff 30.44px,#00daff 38.05px,#00ffff 45.66px,#17ffe8 53.27px,#2dffd2 60.89px,#47ffb8 68.50px,#5fffa0 76.11px,#77ff88 83.72px,#91ff6e 91.33px,#a8ff57 98.94px,#b6ff49 106.55px,#acff53 114.16px,#95ff6a 121.77px,#7bff84 129.38px,#63ff9c 136.99px,#4bffb4 144.60px,#32ffcd 152.21px,#1bffe4 159.82px,#04fffb 167.44px,#00e0ff 175.05px,#00b9ff 182.66px,#008fff 190.27px,#004aff 197.88px,#0011ff 205.10px,#000eff 205.49px,#0004ff 207.10px,#0000ca 208.60px,#0000a3 210.10px,#00008d 211.60px)"></div>
<div style="position:absolute;left:405.8px;top:558.3px;width:213.1px;height:2.6px;background:linear-gradient(90deg,#00008a 0.00px,#000090 1.00px,#0000a4 2.00px,#0000c5 3.00px,#0000f6 4.00px,#0000fd 6.00px,#0004ff 7.61px,#003eff 15.22px,#0083ff 22.83px,#00b0ff 30.44px,#00d7ff 38.05px,#00fcff 45.66px,#15ffea 53.27px,#2affd5 60.89px,#43ffbc 68.50px,#5bffa4 76.11px,#72ff8d 83.72px,#8aff75 91.33px,#a1ff5e 98.94px,#afff50 106.55px,#a4ff5b 114.16px,#8eff71 121.77px,#76ff89 129.38px,#5effa1 136.99px,#47ffb8 144.60px,#2effd1 152.21px,#19ffe6 159.82px,#02fffd 167.44px,#00ddff 175.05px,#00b7ff 182.66px,#008dff 190.27px,#0048ff 197.88px,#000fff 205.10px,#000cff 205.49px,#0003ff 207.10px,#0000c9 208.60px,#0000a3 210.10px,#00008d 211.60px)"></div>
<div style="position:absolute;left:405.8px;top:560.3px;width:213.1px;height:2.6px;background:linear-gradient(90deg,#00008a 0.00px,#000090 1.00px,#0000a3 2.00px,#0000c5 3.00px,#0000f5 4.00px,#0000fc 6.00px,#0003ff 7.61px,#003cff 15.22px,#007fff 22.83px,#00aeff 30.44px,#00d4ff 38.05px,#00f8ff 45.66px,#13ffec 53.27px,#28ffd7 60.89px,#40ffbf 68.50px,#57ffa8 76.11px,#6dff92 83.72px,#83ff7c 91.33px,#9aff65 98.94px,#a8ff57 106.55px,#9dff62 114.16px,#87ff78 121.77px,#71ff8e 129.38px,#5bffa4 136.99px,#44ffbb 144.60px,#2bffd4 152.21px,#16ffe9 159.82px,#00ffff 167.44px,#00dbff 175.05px,#00b5ff 182.66px,#008bff 190.27px,#0046ff 197.88px,#000dff 205.10px,#000aff 205.49px,#0002ff 207.10px,#0000c8 208.60px,#0000a3 210.10px,#00008d 211.60px)"></div>
<div style="position:absolute;left:405.8px;top:562.3px;width:213.1px;height:2.6px;background:linear-gradient(90deg,#00008a 0.00px,#000090 1.00px,#0000a3 2.00px,#0000c4 3.00px,#0000f4 4.00px,#0000fb 6.00px,#0002ff 7.61px,#0039ff 15.22px,#007cff 22.83px,#00acff 30.44px,#00d2ff 38.05px,#00f5ff 45.66px,#10ffef 53.27px,#25ffda 60.89px,#3cffc3 68.50px,#53ffac 76.11px,#68ff97 83.72px,#7dff82 91.33px,#93ff6c 98.94px,#a0ff5f 106.55px,#96ff69 114.16px,#80ff7f 121.77px,#6cff93 129.38px,#57ffa8 136.99px,#40ffbf 144.60px,#29ffd6 152.21px,#14ffeb 159.82px,#00fbff 167.44px,#00d8ff 175.05px,#00b2ff 182.66px,#0089ff 190.27px,#0043ff 197.88px,#000bff 205.10px,#0008ff 205.49px,#0001ff 207.10px,#0000c8 208.60px,#0000a2 210.10px,#00008d 211.60px)"></div>
<div style="position:absolute;left:405.8px;top:564.3px;width:213.1px;height:2.6px;background:linear-gradient(90deg,#00008a 0.00px,#000090 1.00px,#0000a3 2.00px,#0000c4 3.00px,#0000f3 4.00px,#0000fa 6.00px,#0001ff 7.61px,#0037ff 15.22px,#0079ff 22.83px,#00a9ff 30.44px,#00cfff 38.05px,#00f2ff 45.66px,#0efff1 53.27px,#23ffdc 60.89px,#38ffc7 68.50px,#4fffb0 76.11px,#64ff9b 83.72px,#78ff87 91.33px,#8cff73 98.94px,#99ff66 106.55px,#8fff70 114.16px,#7bff84 121.77px,#68ff97 129.38px,#53ffac 136.99px,#3cffc3 144.60px,#26ffd9 152.21px,#12ffed 159.82px,#00f8ff 167.44px,#00d5ff 175.05px,#00b0ff 182.66px,#0087ff 190.27px,#0041ff 197.88px,#0009ff 205.10px,#0006ff 205.49px,#0000ff 207.10px,#0000c7 208.60px,#0000a2 210.10px,#00008d 211.60px)"></div>
<div style="position:absolute;left:405.8px;top:566.3px;width:213.1px;height:2.6px;background:linear-gradient(90deg,#00008a 0.00px,#000090 1.00px,#0000a3 2.00px,#0000c3 3.00px,#0000f3 4.00px,#0000fa 6.00px,#0000ff 7.61px,#0035ff 15.22px,#0075ff 22.83px,#00a7ff 30.44px,#00cdff 38.05px,#00efff 45.66px,#0cfff3 53.27px,#20ffdf 60.89px,#35ffca 68.50px,#4bffb4 76.11px,#60ff9f 83.72px,#73ff8c 91.33px,#85ff7a 98.94px,#92ff6d 106.55px,#88ff77 114.16px,#76ff89 121.77px,#63ff9c 129.38px,#4fffb0 136.99px,#39ffc6 144.60px,#24ffdb 152.21px,#10ffef 159.82px,#00f5ff 167.44px,#00d3ff 175.05px,#00aeff 182.66px,#0083ff 190.27px,#003fff 197.88px,#0007ff 205.10px,#0005ff 205.49px,#0000fe 207.10px,#0000c7 208.60px,#0000a2 210.10px,#00008d 211.60px)"></div>
<div style="position:absolute;left:405.8px;top:568.3px;width:213.1px;height:2.6px;background:linear-gradient(90deg,#00008a 0.00px,#000090 1.00px,#0000a2 2.00px,#0000c3 3.00px,#0000f2 4.00px,#0000f9 6.00px,#0000fe 7.61px,#0033ff 15.22px,#0072ff 22.83px,#00a5ff 30.44px,#00caff 38.05px,#00ecff 45.66px,#0afff5 53.27px,#1effe1 60.89px,#31ffce 68.50px,#48ffb7 76.11px,#5cffa3 83.72px,#6fff90 91.33px,#7eff81 98.94px,#8bff74 106.55px,#81ff7e 114.16px,#72ff8d 121.77px,#5fffa0 129.38px,#4bffb4 136.99px,#35ffca 144.60px,#21ffde 152.21px,#0dfff2 159.82px,#00f2ff 167.44px,#00d0ff 175.05px,#00acff 182.66px,#0080ff 190.27px,#003dff 197.88px,#0005ff 205.10px,#0004ff 205.49px,#0000fd 207.10px,#0000c6 208.60px,#0000a2 210.10px,#00008d 211.60px)"></div>
<div style="position:absolute;left:405.8px;top:570.3px;width:213.1px;height:2.6px;background:linear-gradient(90deg,#000089 0.00px,#000090 1.00px,#0000a2 2.00px,#0000c2 3.00px,#0000f1 4.00px,#0000f8 6.00px,#0000fd 7.61px,#0031ff 15.22px,#006eff 22.83px,#00a3ff 30.44px,#00c8ff 38.05px,#00eaff 45.66px,#08fff7 53.27px,#1bffe4 60.89px,#2effd1 68.50px,#44ffbb 76.11px,#58ffa7 83.72px,#6aff95 91.33px,#79ff86 98.94px,#84ff7b 106.55px,#7bff84 114.16px,#6dff92 121.77px,#5bffa4 129.38px,#48ffb7 136.99px,#32ffcd 144.60px,#1fffe0 152.21px,#0bfff4 159.82px,#00efff 167.44px,#00ceff 175.05px,#00aaff 182.66px,#007cff 190.27px,#003aff 197.88px,#0004ff 205.10px,#0003ff 205.49px,#0000fc 207.10px,#0000c6 208.60px,#0000a1 210.10px,#00008c 211.60px)"></div>
<div style="position:absolute;left:405.8px;top:572.3px;width:213.1px;height:2.6px;background:linear-gradient(90deg,#000089 0.00px,#00008f 1.00px,#0000a2 2.00px,#0000c2 3.00px,#0000f0 4.00px,#0000f7 6.00px,#0000fc 7.61px,#002eff 15.22px,#006bff 22.83px,#00a1ff 30.44px,#00c6ff 38.05px,#00e7ff 45.66px,#05fffa 53.27px,#19ffe6 60.89px,#2bffd4 68.50px,#40ffbf 76.11px,#54ffab 83.72px,#65ff9a 91.33px,#74ff8b 98.94px,#7eff81 106.55px,#77ff88 114.16px,#68ff97 121.77px,#57ffa8 129.38px,#44ffbb 136.99px,#2effd1 144.60px,#1cffe3 152.21px,#09fff6 159.82px,#00ecff 167.44px,#00cbff 175.05px,#00a8ff 182.66px,#0079ff 190.27px,#0038ff 197.88px,#0003ff 205.10px,#0002ff 205.49px,#0000fb 207.10px,#0000c5 208.60px,#0000a1 210.10px,#00008c 211.60px)"></div>
<div style="position:absolute;left:405.8px;top:574.3px;width:213.1px;height:2.6px;background:linear-gradient(90deg,#000089 0.00px,#00008f 1.00px,#0000a2 2.00px,#0000c1 3.00px,#0000ef 4.00px,#0000f6 6.00px,#0000fc 7.61px,#002cff 15.22px,#0067ff 22.83px,#009fff 30.44px,#00c3ff 38.05px,#00e4ff 45.66px,#03fffc 53.27px,#17ffe8 60.89px,#29ffd6 68.50px,#3dffc2 76.11px,#50ffaf 83.72px,#61ff9e 91.33px,#70ff8f 98.94px,#79ff86 106.55px,#72ff8d 114.16px,#63ff9c 121.77px,#53ffac 129.38px,#40ffbf 136.99px,#2bffd4 144.60px,#1affe5 152.21px,#07fff8 159.82px,#00eaff 167.44px,#00c9ff 175.05px,#00a6ff 182.66px,#0075ff 190.27px,#0036ff 197.88px,#0002ff 205.10px,#0001ff 205.49px,#0000fa 207.10px,#0000c5 208.60px,#0000a1 210.10px,#00008c 211.60px)"></div>
<div style="position:absolute;left:405.8px;top:576.3px;width:213.1px;height:2.6px;background:linear-gradient(90deg,#000089 0.00px,#00008f 1.00px,#0000a1 2.00px,#0000c1 3.00px,#0000ee 4.00px,#0000f5 6.00px,#0000fb 7.61px,#002aff 15.22px,#0064ff 22.83px,#009dff 30.44px,#00c1ff 38.05px,#00e2ff 45.66px,#01fffe 53.27px,#15ffea 60.89px,#26ffd9 68.50px,#39ffc6 76.11px,#4cffb3 83.72px,#5dffa2 91.33px,#6bff94 98.94px,#74ff8b 106.55px,#6dff92 114.16px,#5fffa0 121.77px,#4fffb0 129.38px,#3dffc2 136.99px,#29ffd6 144.60px,#18ffe7 152.21px,#05fffa 159.82px,#00e7ff 167.44px,#00c7ff 175.05px,#00a4ff 182.66px,#0072ff 190.27px,#0034ff 197.88px,#0001ff 205.10px,#0000ff 205.49px,#0000fa 207.10px,#0000c4 208.60px,#0000a0 210.10px,#00008c 211.60px)"></div>
<div style="position:absolute;left:405.8px;top:578.3px;width:213.1px;height:2.6px;background:linear-gradient(90deg,#000089 0.00px,#00008f 1.00px,#0000a1 2.00px,#0000c0 3.00px,#0000ed 4.00px,#0000f4 6.00px,#0000fa 7.61px,#0028ff 15.22px,#0061ff 22.83px,#009bff 30.44px,#00bfff 38.05px,#00dfff 45.66px,#00fdff 53.27px,#12ffed 60.89px,#24ffdb 68.50px,#36ffc9 76.11px,#49ffb6 83.72px,#59ffa6 91.33px,#66ff99 98.94px,#6fff90 106.55px,#68ff97 114.16px,#5bffa4 121.77px,#4cffb3 129.38px,#39ffc6 136.99px,#27ffd8 144.60px,#15ffea 152.21px,#03fffc 159.82px,#00e4ff 167.44px,#00c4ff 175.05px,#00a2ff 182.66px,#006eff 190.27px,#0031ff 197.88px,#0001ff 205.10px,#0000fe 205.49px,#0000f9 207.10px,#0000c4 208.60px,#0000a0 210.10px,#00008c 211.60px)"></div>
<div style="position:absolute;left:405.8px;top:580.3px;width:213.1px;height:2.6px;background:linear-gradient(90deg,#000089 0.00px,#00008f 1.00px,#0000a1 2.00px,#0000c0 3.00px,#0000ed 4.00px,#0000f3 6.00px,#0000f9 7.61px,#0025ff 15.22px,#005eff 22.83px,#0099ff 30.44px,#00bcff 38.05px,#00dcff 45.66px,#00faff 53.27px,#10ffef 60.89px,#21ffde 68.50px,#32ffcd 76.11px,#45ffba 83.72px,#55ffaa 91.33px,#62ff9d 98.94px,#6aff95 106.55px,#64ff9b 114.16px,#58ffa7 121.77px,#48ffb7 129.38px,#36ffc9 136.99px,#24ffdb 144.60px,#13ffec 152.21px,#00ffff 159.82px,#00e2ff 167.44px,#00c2ff 175.05px,#00a0ff 182.66px,#006bff 190.27px,#002fff 197.88px,#0000ff 205.10px,#0000fd 205.49px,#0000f8 207.10px,#0000c3 208.60px,#0000a0 210.10px,#00008c 211.60px)"></div>
<div style="position:absolute;left:405.8px;top:582.3px;width:213.1px;height:2.6px;background:linear-gradient(90deg,#000089 0.00px,#00008f 1.00px,#0000a0 2.00px,#0000bf 3.00px,#0000ec 4.00px,#0000f2 6.00px,#0000f8 7.61px,#0023ff 15.22px,#005cff 22.83px,#0098ff 30.44px,#00baff 38.05px,#00daff 45.66px,#00f7ff 53.27px,#0efff1 60.89px,#1fffe0 68.50px,#2fffd0 76.11px,#42ffbd 83.72px,#51ffae 91.33px,#5effa1 98.94px,#66ff99 106.55px,#5fffa0 114.16px,#54ffab 121.77px,#44ffbb 129.38px,#32ffcd 136.99px,#22ffdd 144.60px,#11ffee 152.21px,#00fcff 159.82px,#00dfff 167.44px,#00c0ff 175.05px,#009eff 182.66px,#0067ff 190.27px,#002dff 197.88px,#0000fe 205.10px,#0000fc 205.49px,#0000f7 207.10px,#0000c3 208.60px,#0000a0 210.10px,#00008c 211.60px)"></div>
<div style="position:absolute;left:405.8px;top:584.3px;width:213.1px;height:2.6px;background:linear-gradient(90deg,#000089 0.00px,#00008f 1.00px,#0000a0 2.00px,#0000be 3.00px,#0000eb 4.00px,#0000f2 6.00px,#0000f7 7.61px,#0021ff 15.22px,#0059ff 22.83px,#0096ff 30.44px,#00b8ff 38.05px,#00d7ff 45.66px,#00f4ff 53.27px,#0cfff3 60.89px,#1dffe2 68.50px,#2cffd3 76.11px,#3effc1 83.72px,#4effb1 91.33px,#5affa5 98.94px,#61ff9e 106.55px,#5cffa3 114.16px,#50ffaf 121.77px,#41ffbe 129.38px,#2fffd0 136.99px,#1fffe0 144.60px,#0ffff0 152.21px,#00f9ff 159.82px,#00dcff 167.44px,#00beff 175.05px,#009cff 182.66px,#0064ff 190.27px,#002bff 197.88px,#0000fd 205.10px,#0000fb 205.49px,#0000f6 207.10px,#0000c2 208.60px,#00009f 210.10px,#00008c 211.60px)"></div>
<div style="position:absolute;left:405.8px;top:586.3px;width:213.1px;height:2.6px;background:linear-gradient(90deg,#000089 0.00px,#00008f 1.00px,#0000a0 2.00px,#0000be 3.00px,#0000ea 4.00px,#0000f1 6.00px,#0000f6 7.61px,#001fff 15.22px,#0057ff 22.83px,#0094ff 30.44px,#00b6ff 38.05px,#00d5ff 45.66px,#00f1ff 53.27px,#0afff5 60.89px,#1affe5 68.50px,#29ffd6 76.11px,#3affc5 83.72px,#4affb5 91.33px,#56ffa9 98.94px,#5dffa2 106.55px,#58ffa7 114.16px,#4cffb3 121.77px,#3dffc2 129.38px,#2cffd3 136.99px,#1dffe2 144.60px,#0dfff2 152.21px,#00f6ff 159.82px,#00daff 167.44px,#00bbff 175.05px,#009aff 182.66px,#0060ff 190.27px,#0028ff 197.88px,#0000fc 205.10px,#0000fa 205.49px,#0000f5 207.10px,#0000c2 208.60px,#00009f 210.10px,#00008c 211.60px)"></div>
<div style="position:absolute;left:405.8px;top:588.3px;width:213.1px;height:2.6px;background:linear-gradient(90deg,#000089 0.00px,#00008e 1.00px,#0000a0 2.00px,#0000bd 3.00px,#0000e9 4.00px,#0000f0 6.00px,#0000f5 7.61px,#001dff 15.22px,#0055ff 22.83px,#0092ff 30.44px,#00b4ff 38.05px,#00d2ff 45.66px,#00efff 53.27px,#08fff7 60.89px,#18ffe7 68.50px,#27ffd8 76.11px,#37ffc8 83.72px,#46ffb9 91.33px,#52ffad 98.94px,#5affa5 106.55px,#54ffab 114.16px,#49ffb6 121.77px,#3affc5 129.38px,#29ffd6 136.99px,#1bffe4 144.60px,#0bfff4 152.21px,#00f3ff 159.82px,#00d7ff 167.44px,#00b9ff 175.05px,#0098ff 182.66px,#005eff 190.27px,#0026ff 197.88px,#0000fb 205.10px,#0000fa 205.49px,#0000f4 207.10px,#0000c1 208.60px,#00009f 210.10px,#00008c 211.60px)"></div>
<div style="position:absolute;left:405.8px;top:590.3px;width:213.1px;height:2.6px;background:linear-gradient(90deg,#000089 0.00px,#00008e 1.00px,#00009f 2.00px,#0000bd 3.00px,#0000e8 4.00px,#0000ef 6.00px,#0000f4 7.61px,#001aff 15.22px,#0052ff 22.83px,#0090ff 30.44px,#00b2ff 38.05px,#00d0ff 45.66px,#00ecff 53.27px,#05fffa 60.89px,#16ffe9 68.50px,#25ffda 76.11px,#33ffcc 83.72px,#43ffbc 91.33px,#4fffb0 98.94px,#56ffa9 106.55px,#50ffaf 114.16px,#45ffba 121.77px,#36ffc9 129.38px,#27ffd8 136.99px,#19ffe6 144.60px,#08fff7 152.21px,#00f0ff 159.82px,#00d5ff 167.44px,#00b7ff 175.05px,#0096ff 182.66px,#005cff 190.27px,#0024ff 197.88px,#0000fa 205.10px,#0000f9 205.49px,#0000f3 207.10px,#0000c1 208.60px,#00009f 210.10px,#00008b 211.60px)"></div>
<div style="position:absolute;left:405.8px;top:592.3px;width:213.1px;height:2.6px;background:linear-gradient(90deg,#000089 0.00px,#00008e 1.00px,#00009f 2.00px,#0000bc 3.00px,#0000e7 4.00px,#0000ee 6.00px,#0000f3 7.61px,#0018ff 15.22px,#0050ff 22.83px,#008fff 30.44px,#00b0ff 38.05px,#00ceff 45.66px,#00e9ff 53.27px,#03fffc 60.89px,#14ffeb 68.50px,#22ffdd 76.11px,#30ffcf 83.72px,#3fffc0 91.33px,#4bffb4 98.94px,#52ffad 106.55px,#4dffb2 114.16px,#41ffbe 121.77px,#33ffcc 129.38px,#25ffda 136.99px,#16ffe9 144.60px,#06fff9 152.21px,#00eeff 159.82px,#00d3ff 167.44px,#00b5ff 175.05px,#0094ff 182.66px,#0059ff 190.27px,#0022ff 197.88px,#0000f9 205.10px,#0000f8 205.49px,#0000f2 207.10px,#0000c0 208.60px,#00009e 210.10px,#00008b 211.60px)"></div>
<div style="position:absolute;left:405.8px;top:594.3px;width:213.1px;height:2.6px;background:linear-gradient(90deg,#000088 0.00px,#00008e 1.00px,#00009f 2.00px,#0000bc 3.00px,#0000e6 4.00px,#0000ed 6.00px,#0000f2 7.61px,#0016ff 15.22px,#004dff 22.83px,#008dff 30.44px,#00aeff 38.05px,#00cbff 45.66px,#00e7ff 53.27px,#01fffe 60.89px,#12ffed 68.50px,#20ffdf 76.11px,#2dffd2 83.72px,#3cffc3 91.33px,#47ffb8 98.94px,#4effb1 106.55px,#49ffb6 114.16px,#3effc1 121.77px,#2fffd0 129.38px,#22ffdd 136.99px,#14ffeb 144.60px,#04fffb 152.21px,#00ebff 159.82px,#00d0ff 167.44px,#00b3ff 175.05px,#0093ff 182.66px,#0057ff 190.27px,#001fff 197.88px,#0000f8 205.10px,#0000f7 205.49px,#0000f1 207.10px,#0000c0 208.60px,#00009e 210.10px,#00008b 211.60px)"></div>
<div style="position:absolute;left:405.8px;top:596.3px;width:213.1px;height:2.6px;background:linear-gradient(90deg,#000088 0.00px,#00008e 1.00px,#00009e 2.00px,#0000bb 3.00px,#0000e6 4.00px,#0000ec 6.00px,#0000f2 7.61px,#0014ff 15.22px,#004bff 22.83px,#008bff 30.44px,#00acff 38.05px,#00c9ff 45.66px,#00e4ff 53.27px,#00feff 60.89px,#0ffff0 68.50px,#1effe1 76.11px,#2affd5 83.72px,#38ffc7 91.33px,#44ffbb 98.94px,#4bffb4 106.55px,#45ffba 114.16px,#3affc5 121.77px,#2cffd3 129.38px,#20ffdf 136.99px,#12ffed 144.60px,#02fffd 152.21px,#00e9ff 159.82px,#00ceff 167.44px,#00b1ff 175.05px,#0091ff 182.66px,#0054ff 190.27px,#001dff 197.88px,#0000f7 205.10px,#0000f6 205.49px,#0000f1 207.10px,#0000bf 208.60px,#00009e 210.10px,#00008b 211.60px)"></div>
<div style="position:absolute;left:405.8px;top:598.3px;width:213.1px;height:2.6px;background:linear-gradient(90deg,#000088 0.00px,#00008e 1.00px,#00009e 2.00px,#0000bb 3.00px,#0000e5 4.00px,#0000eb 6.00px,#0000f1 7.61px,#0011ff 15.22px,#0048ff 22.83px,#008aff 30.44px,#00aaff 38.05px,#00c7ff 45.66px,#00e2ff 53.27px,#00fbff 60.89px,#0dfff2 68.50px,#1cffe3 76.11px,#28ffd7 83.72px,#35ffca 91.33px,#40ffbf 98.94px,#47ffb8 106.55px,#42ffbd 114.16px,#37ffc8 121.77px,#2affd5 129.38px,#1effe1 136.99px,#10ffef 144.60px,#00ffff 152.21px,#00e6ff 159.82px,#00ccff 167.44px,#00afff 175.05px,#008fff 182.66px,#0052ff 190.27px,#001bff 197.88px,#0000f6 205.10px,#0000f5 205.49px,#0000f0 207.10px,#0000bf 208.60px,#00009e 210.10px,#00008b 211.60px)"></div>
<div style="position:absolute;left:405.8px;top:600.3px;width:213.1px;height:2.6px;background:linear-gradient(90deg,#000088 0.00px,#00008e 1.00px,#00009e 2.00px,#0000ba 3.00px,#0000e4 4.00px,#0000ea 6.00px,#0000f0 7.61px,#000fff 15.22px,#0046ff 22.83px,#0087ff 30.44px,#00a8ff 38.05px,#00c5ff 45.66px,#00dfff 53.27px,#00f8ff 60.89px,#0bfff4 68.50px,#19ffe6 76.11px,#26ffd9 83.72px,#31ffce 91.33px,#3dffc2 98.94px,#44ffbb 106.55px,#3effc1 114.16px,#34ffcb 121.77px,#28ffd7 129.38px,#1cffe3 136.99px,#0efff1 144.60px,#00fcff 152.21px,#00e4ff 159.82px,#00c9ff 167.44px,#00adff 175.05px,#008eff 182.66px,#004fff 190.27px,#0019ff 197.88px,#0000f5 205.10px,#0000f4 205.49px,#0000ef 207.10px,#0000be 208.60px,#00009d 210.10px,#00008b 211.60px)"></div>
<div style="position:absolute;left:405.8px;top:602.3px;width:213.1px;height:2.6px;background:linear-gradient(90deg,#000088 0.00px,#00008d 1.00px,#00009e 2.00px,#0000ba 3.00px,#0000e3 4.00px,#0000ea 6.00px,#0000ef 7.61px,#000dff 15.22px,#0044ff 22.83px,#0083ff 30.44px,#00a6ff 38.05px,#00c3ff 45.66px,#00ddff 53.27px,#00f5ff 60.89px,#09fff6 68.50px,#17ffe8 76.11px,#23ffdc 83.72px,#2effd1 91.33px,#39ffc6 98.94px,#40ffbf 106.55px,#3bffc4 114.16px,#30ffcf 121.77px,#25ffda 129.38px,#19ffe6 136.99px,#0cfff3 144.60px,#00f9ff 152.21px,#00e1ff 159.82px,#00c7ff 167.44px,#00abff 175.05px,#008cff 182.66px,#004dff 190.27px,#0016ff 197.88px,#0000f4 205.10px,#0000f3 205.49px,#0000ee 207.10px,#0000be 208.60px,#00009d 210.10px,#00008b 211.60px)"></div>
<div style="position:absolute;left:405.8px;top:604.3px;width:213.1px;height:2.6px;background:linear-gradient(90deg,#000088 0.00px,#00008d 1.00px,#00009d 2.00px,#0000b9 3.00px,#0000e2 4.00px,#0000e9 6.00px,#0000ee 7.61px,#000bff 15.22px,#0041ff 22.83px,#0080ff 30.44px,#00a4ff 38.05px,#00c0ff 45.66px,#00dbff 53.27px,#00f2ff 60.89px,#07fff8 68.50px,#15ffea 76.11px,#21ffde 83.72px,#2bffd4 91.33px,#36ffc9 98.94px,#3dffc2 106.55px,#38ffc7 114.16px,#2dffd2 121.77px,#23ffdc 129.38px,#17ffe8 136.99px,#0afff5 144.60px,#00f6ff 152.21px,#00dfff 159.82px,#00c5ff 167.44px,#00a9ff 175.05px,#008aff 182.66px,#004aff 190.27px,#0014ff 197.88px,#0000f3 205.10px,#0000f2 205.49px,#0000ed 207.10px,#0000bd 208.60px,#00009d 210.10px,#00008b 211.60px)"></div>
<div style="position:absolute;left:405.8px;top:606.3px;width:213.1px;height:2.6px;background:linear-gradient(90deg,#000088 0.00px,#00008d 1.00px,#00009d 2.00px,#0000b9 3.00px,#0000e1 4.00px,#0000e8 6.00px,#0000ed 7.61px,#0009ff 15.22px,#003fff 22.83px,#007cff 30.44px,#00a2ff 38.05px,#00beff 45.66px,#00d8ff 53.27px,#00f0ff 60.89px,#05fffa 68.50px,#13ffec 76.11px,#1fffe0 83.72px,#29ffd6 91.33px,#33ffcc 98.94px,#39ffc6 106.55px,#34ffcb 114.16px,#2bffd4 121.77px,#21ffde 129.38px,#15ffea 136.99px,#08fff7 144.60px,#00f4ff 152.21px,#00dcff 159.82px,#00c3ff 167.44px,#00a7ff 175.05px,#0089ff 182.66px,#0048ff 190.27px,#0012ff 197.88px,#0000f3 205.10px,#0000f1 205.49px,#0000ec 207.10px,#0000bc 208.60px,#00009d 210.10px,#00008b 211.60px)"></div>
<div style="position:absolute;left:405.8px;top:608.3px;width:213.1px;height:2.6px;background:linear-gradient(90deg,#000088 0.00px,#00008d 1.00px,#00009d 2.00px,#0000b8 3.00px,#0000e0 4.00px,#0000e7 6.00px,#0000ec 7.61px,#0006ff 15.22px,#003cff 22.83px,#0078ff 30.44px,#00a0ff 38.05px,#00bcff 45.66px,#00d6ff 53.27px,#00edff 60.89px,#03fffc 68.50px,#11ffee 76.11px,#1dffe2 83.72px,#27ffd8 91.33px,#2fffd0 98.94px,#36ffc9 106.55px,#31ffce 114.16px,#28ffd7 121.77px,#1fffe0 129.38px,#13ffec 136.99px,#06fff9 144.60px,#00f1ff 152.21px,#00daff 159.82px,#00c1ff 167.44px,#00a5ff 175.05px,#0085ff 182.66px,#0046ff 190.27px,#0010ff 197.88px,#0000f2 205.10px,#0000f0 205.49px,#0000eb 207.10px,#0000bc 208.60px,#00009c 210.10px,#00008b 211.60px)"></div>
<div style="position:absolute;left:405.8px;top:610.3px;width:213.1px;height:2.6px;background:linear-gradient(90deg,#000088 0.00px,#00008d 1.00px,#00009d 2.00px,#0000b8 3.00px,#0000df 4.00px,#0000e6 6.00px,#0000eb 7.61px,#0005ff 15.22px,#003aff 22.83px,#0075ff 30.44px,#009eff 38.05px,#00baff 45.66px,#00d4ff 53.27px,#00ebff 60.89px,#01fffe 68.50px,#0ffff0 76.11px,#1bffe4 83.72px,#25ffda 91.33px,#2cffd3 98.94px,#32ffcd 106.55px,#2dffd2 114.16px,#26ffd9 121.77px,#1cffe3 129.38px,#11ffee 136.99px,#04fffb 144.60px,#00eeff 152.21px,#00d8ff 159.82px,#00bfff 167.44px,#00a3ff 175.05px,#0081ff 182.66px,#0043ff 190.27px,#000dff 197.88px,#0000f1 205.10px,#0000ef 205.49px,#0000ea 207.10px,#0000bb 208.60px,#00009c 210.10px,#00008a 211.60px)"></div>
<div style="position:absolute;left:405.8px;top:612.3px;width:213.1px;height:2.3px;background:linear-gradient(90deg,#000088 0.00px,#00008d 1.00px,#00009c 2.00px,#0000b7 3.00px,#0000df 4.00px,#0000e5 6.00px,#0000ea 7.61px,#0004ff 15.22px,#0038ff 22.83px,#0071ff 30.44px,#009dff 38.05px,#00b8ff 45.66px,#00d2ff 53.27px,#00e8ff 60.89px,#00feff 68.50px,#0dfff2 76.11px,#19ffe6 83.72px,#23ffdc 91.33px,#2affd5 98.94px,#2fffd0 106.55px,#2bffd4 114.16px,#24ffdb 121.77px,#1bffe4 129.38px,#0ffff0 136.99px,#02fffd 144.60px,#00ecff 152.21px,#00d6ff 159.82px,#00bdff 167.44px,#00a2ff 175.05px,#007eff 182.66px,#0041ff 190.27px,#000bff 197.88px,#0000f0 205.10px,#0000ef 205.49px,#0000e9 207.10px,#0000bb 208.60px,#00009c 210.10px,#00008a 211.60px)"></div>
<div style="position:absolute;left:734.8px;top:427.5px;width:212.1px;height:2.6px;background:linear-gradient(90deg,#000094 0.00px,#0000a1 0.88px,#0000c7 1.75px,#0009ff 2.62px,#0069ff 3.50px,#007aff 5.50px,#008dff 7.58px,#00d7ff 15.15px,#1effe1 22.73px,#5effa1 30.30px,#a6ff59 37.88px,#f7ff08 45.45px,#ffbd00 53.03px,#ff7a00 60.60px,#ff3b00 68.17px,#ff0a00 75.75px,#e60000 83.33px,#c50000 90.90px,#ac0000 98.48px,#a00000 106.05px,#b80000 113.63px,#d50000 121.20px,#f70000 128.78px,#ff1b00 136.35px,#ff5a00 143.93px,#ff9900 151.50px,#ffe100 159.08px,#cfff30 166.65px,#7fff80 174.22px,#3fffc0 181.80px,#00fdff 189.38px,#00b3ff 196.95px,#006cff 204.53px,#0068ff 205.10px,#0057ff 207.10px,#0000f8 208.35px,#0000b9 209.60px,#000095 210.85px,#00008a 212.10px)"></div>
<div style="position:absolute;left:734.8px;top:429.5px;width:212.1px;height:2.6px;background:linear-gradient(90deg,#000094 0.00px,#0000a1 0.88px,#0000c6 1.75px,#0009ff 2.62px,#0069ff 3.50px,#0079ff 5.50px,#008cff 7.58px,#00d6ff 15.15px,#1dffe2 22.73px,#5dffa2 30.30px,#a5ff5a 37.88px,#f5ff0a 45.45px,#ffbf00 53.03px,#ff7c00 60.60px,#ff3d00 68.17px,#ff0b00 75.75px,#e80000 83.33px,#c60000 90.90px,#ae0000 98.48px,#a30000 106.05px,#ba0000 113.63px,#d70000 121.20px,#f80000 128.78px,#ff1d00 136.35px,#ff5c00 143.93px,#ff9a00 151.50px,#ffe300 159.08px,#ceff31 166.65px,#7eff81 174.22px,#3effc1 181.80px,#00fcff 189.38px,#00b2ff 196.95px,#006cff 204.53px,#0067ff 205.10px,#0057ff 207.10px,#0000f8 208.35px,#0000b9 209.60px,#000095 210.85px,#00008a 212.10px)"></div>
<div style="position:absolute;left:734.8px;top:431.5px;width:212.1px;height:2.6px;background:linear-gradient(90deg,#000094 0.00px,#0000a1 0.88px,#0000c6 1.75px,#0008ff 2.62px,#0069ff 3.50px,#0079ff 5.50px,#008cff 7.58px,#00d5ff 15.15px,#1cffe3 22.73px,#5cffa3 30.30px,#a3ff5c 37.88px,#f2ff0d 45.45px,#ffc200 53.03px,#ff7e00 60.60px,#ff4000 68.17px,#ff0c00 75.75px,#ea0000 83.33px,#c90000 90.90px,#b10000 98.48px,#a70000 106.05px,#bc0000 113.63px,#d90000 121.20px,#fa0000 128.78px,#ff2000 136.35px,#ff5e00 143.93px,#ff9d00 151.50px,#ffe600 159.08px,#cbff34 166.65px,#7cff83 174.22px,#3cffc3 181.80px,#00fbff 189.38px,#00b1ff 196.95px,#006cff 204.53px,#0067ff 205.10px,#0057ff 207.10px,#0000f8 208.35px,#0000b9 209.60px,#000095 210.85px,#00008a 212.10px)"></div>
<div style="position:absolute;left:734.8px;top:433.5px;width:212.1px;height:2.6px;background:linear-gradient(90deg,#000094 0.00px,#0000a1 0.88px,#0000c6 1.75px,#0008ff 2.62px,#0068ff 3.50px,#0078ff 5.50px,#008bff 7.58px,#00d4ff 15.15px,#1affe5 22.73px,#5affa5 30.30px,#a0ff5f 37.88px,#efff10 45.45px,#ffc500 53.03px,#ff8100 60.60px,#ff4300 68.17px,#ff0e00 75.75px,#ec0000 83.33px,#cc0000 90.90px,#b50000 98.48px,#ab0000 106.05px,#bf0000 113.63px,#dc0000 121.20px,#fc0000 128.78px,#ff2300 136.35px,#ff6100 143.93px,#ffa000 151.50px,#ffe900 159.08px,#c8ff37 166.65px,#7aff85 174.22px,#3bffc4 181.80px,#00f9ff 189.38px,#00b0ff 196.95px,#006bff 204.53px,#0066ff 205.10px,#0056ff 207.10px,#0000f7 208.35px,#0000b9 209.60px,#000095 210.85px,#00008a 212.10px)"></div>
<div style="position:absolute;left:734.8px;top:435.5px;width:212.1px;height:2.6px;background:linear-gradient(90deg,#000094 0.00px,#0000a0 0.88px,#0000c6 1.75px,#0008ff 2.62px,#0067ff 3.50px,#0078ff 5.50px,#008aff 7.58px,#00d2ff 15.15px,#18ffe7 22.73px,#58ffa7 30.30px,#9dff62 37.88px,#ebff14 45.45px,#ffc900 53.03px,#ff8500 60.60px,#ff4700 68.17px,#ff1100 75.75px,#ef0000 83.33px,#d00000 90.90px,#b80000 98.48px,#b00000 106.05px,#c20000 113.63px,#df0000 121.20px,#ff0000 128.78px,#ff2700 136.35px,#ff6500 143.93px,#ffa400 151.50px,#ffed00 159.08px,#c5ff3a 166.65px,#78ff87 174.22px,#39ffc6 181.80px,#00f7ff 189.38px,#00afff 196.95px,#006aff 204.53px,#0066ff 205.10px,#0056ff 207.10px,#0000f7 208.35px,#0000b8 209.60px,#000095 210.85px,#00008a 212.10px)"></div>
<div style="position:absolute;left:734.8px;top:437.5px;width:212.1px;height:2.6px;background:linear-gradient(90deg,#000094 0.00px,#0000a0 0.88px,#0000c6 1.75px,#0007ff 2.62px,#0067ff 3.50px,#0077ff 5.50px,#0089ff 7.58px,#00d1ff 15.15px,#16ffe9 22.73px,#55ffaa 30.30px,#99ff66 37.88px,#e7ff18 45.45px,#ffce00 53.03px,#ff8900 60.60px,#ff4b00 68.17px,#ff1300 75.75px,#f20000 83.33px,#d40000 90.90px,#bc0000 98.48px,#b40000 106.05px,#c60000 113.63px,#e20000 121.20px,#ff0300 128.78px,#ff2b00 136.35px,#ff6900 143.93px,#ffa900 151.50px,#fff100 159.08px,#c1ff3e 166.65px,#75ff8a 174.22px,#36ffc9 181.80px,#00f5ff 189.38px,#00aeff 196.95px,#006aff 204.53px,#0065ff 205.10px,#0055ff 207.10px,#0000f7 208.35px,#0000b8 209.60px,#000095 210.85px,#00008a 212.10px)"></div>
<div style="position:absolute;left:734.8px;top:439.5px;width:212.1px;height:2.6px;background:linear-gradient(90deg,#000094 0.00px,#0000a0 0.88px,#0000c6 1.75px,#0007ff 2.62px,#0066ff 3.50px,#0076ff 5.50px,#0088ff 7.58px,#00cfff 15.15px,#14ffeb 22.73px,#53ffac 30.30px,#96ff69 37.88px,#e2ff1d 45.45px,#ffd200 53.03px,#ff8d00 60.60px,#ff4f00 68.17px,#ff1600 75.75px,#f50000 83.33px,#d80000 90.90px,#c00000 98.48px,#b90000 106.05px,#ca0000 113.63px,#e60000 121.20px,#ff0600 128.78px,#ff3000 136.35px,#ff6e00 143.93px,#ffae00 151.50px,#fff600 159.08px,#bdff42 166.65px,#73ff8c 174.22px,#34ffcb 181.80px,#00f3ff 189.38px,#00adff 196.95px,#0069ff 204.53px,#0064ff 205.10px,#0054ff 207.10px,#0000f6 208.35px,#0000b8 209.60px,#000095 210.85px,#00008a 212.10px)"></div>
<div style="position:absolute;left:734.8px;top:441.5px;width:212.1px;height:2.6px;background:linear-gradient(90deg,#000094 0.00px,#0000a0 0.88px,#0000c5 1.75px,#0006ff 2.62px,#0065ff 3.50px,#0075ff 5.50px,#0087ff 7.58px,#00cdff 15.15px,#12ffed 22.73px,#50ffaf 30.30px,#92ff6d 37.88px,#deff21 45.45px,#ffd700 53.03px,#ff9200 60.60px,#ff5400 68.17px,#ff1800 75.75px,#f90000 83.33px,#dc0000 90.90px,#c40000 98.48px,#bd0000 106.05px,#cf0000 113.63px,#ea0000 121.20px,#ff0900 128.78px,#ff3500 136.35px,#ff7200 143.93px,#ffb300 151.50px,#fffb00 159.08px,#b9ff46 166.65px,#70ff8f 174.22px,#31ffce 181.80px,#00f1ff 189.38px,#00abff 196.95px,#0068ff 204.53px,#0064ff 205.10px,#0054ff 207.10px,#0000f6 208.35px,#0000b8 209.60px,#000095 210.85px,#00008a 212.10px)"></div>
<div style="position:absolute;left:734.8px;top:443.5px;width:212.1px;height:2.6px;background:linear-gradient(90deg,#000094 0.00px,#0000a0 0.88px,#0000c5 1.75px,#0006ff 2.62px,#0064ff 3.50px,#0074ff 5.50px,#0085ff 7.58px,#00cbff 15.15px,#0ffff0 22.73px,#4dffb2 30.30px,#8eff71 37.88px,#d9ff26 45.45px,#ffdd00 53.03px,#ff9700 60.60px,#ff5a00 68.17px,#ff1d00 75.75px,#fc0000 83.33px,#e00000 90.90px,#c90000 98.48px,#c20000 106.05px,#d30000 113.63px,#ee0000 121.20px,#ff0c00 128.78px,#ff3a00 136.35px,#ff7700 143.93px,#ffb900 151.50px,#feff01 159.08px,#b5ff4a 166.65px,#6dff92 174.22px,#2fffd0 181.80px,#00eeff 189.38px,#00aaff 196.95px,#0067ff 204.53px,#0063ff 205.10px,#0053ff 207.10px,#0000f6 208.35px,#0000b8 209.60px,#000095 210.85px,#00008a 212.10px)"></div>
<div style="position:absolute;left:734.8px;top:445.5px;width:212.1px;height:2.6px;background:linear-gradient(90deg,#000093 0.00px,#0000a0 0.88px,#0000c5 1.75px,#0005ff 2.62px,#0063ff 3.50px,#0073ff 5.50px,#0084ff 7.58px,#00c9ff 15.15px,#0cfff3 22.73px,#4affb5 30.30px,#89ff76 37.88px,#d4ff2b 45.45px,#ffe300 53.03px,#ff9c00 60.60px,#ff5f00 68.17px,#ff2300 75.75px,#ff0100 83.33px,#e50000 90.90px,#ce0000 98.48px,#c60000 106.05px,#d80000 113.63px,#f20000 121.20px,#ff0f00 128.78px,#ff4000 136.35px,#ff7d00 143.93px,#ffbe00 151.50px,#f9ff06 159.08px,#b1ff4e 166.65px,#69ff96 174.22px,#2cffd3 181.80px,#00ecff 189.38px,#00a8ff 196.95px,#0066ff 204.53px,#0062ff 205.10px,#0052ff 207.10px,#0000f5 208.35px,#0000b8 209.60px,#000095 210.85px,#00008a 212.10px)"></div>
<div style="position:absolute;left:734.8px;top:447.5px;width:212.1px;height:2.6px;background:linear-gradient(90deg,#000093 0.00px,#0000a0 0.88px,#0000c5 1.75px,#0005ff 2.62px,#0062ff 3.50px,#0072ff 5.50px,#0083ff 7.58px,#00c7ff 15.15px,#0afff5 22.73px,#47ffb8 30.30px,#85ff7a 37.88px,#cfff30 45.45px,#ffe900 53.03px,#ffa200 60.60px,#ff6500 68.17px,#ff2900 75.75px,#ff0400 83.33px,#e90000 90.90px,#d30000 98.48px,#cc0000 106.05px,#dd0000 113.63px,#f60000 121.20px,#ff1200 128.78px,#ff4600 136.35px,#ff8300 143.93px,#ffc500 151.50px,#f3ff0c 159.08px,#acff53 166.65px,#66ff99 174.22px,#29ffd6 181.80px,#00e9ff 189.38px,#00a6ff 196.95px,#0065ff 204.53px,#0061ff 205.10px,#0051ff 207.10px,#0000f5 208.35px,#0000b7 209.60px,#000095 210.85px,#00008a 212.10px)"></div>
<div style="position:absolute;left:734.8px;top:449.5px;width:212.1px;height:2.6px;background:linear-gradient(90deg,#000093 0.00px,#0000a0 0.88px,#0000c4 1.75px,#0004ff 2.62px,#0061ff 3.50px,#0071ff 5.50px,#0081ff 7.58px,#00c5ff 15.15px,#07fff8 22.73px,#43ffbc 30.30px,#80ff7f 37.88px,#caff35 45.45px,#ffef00 53.03px,#ffa900 60.60px,#ff6b00 68.17px,#ff2f00 75.75px,#ff0800 83.33px,#ed0000 90.90px,#d80000 98.48px,#d10000 106.05px,#e20000 113.63px,#fa0000 121.20px,#ff1600 128.78px,#ff4c00 136.35px,#ff8900 143.93px,#ffcb00 151.50px,#edff12 159.08px,#a7ff58 166.65px,#63ff9c 174.22px,#26ffd9 181.80px,#00e7ff 189.38px,#00a5ff 196.95px,#0064ff 204.53px,#0060ff 205.10px,#0050ff 207.10px,#0000f4 208.35px,#0000b7 209.60px,#000095 210.85px,#00008a 212.10px)"></div>
<div style="position:absolute;left:734.8px;top:451.5px;width:212.1px;height:2.6px;background:linear-gradient(90deg,#000093 0.00px,#00009f 0.88px,#0000c4 1.75px,#0004ff 2.62px,#0060ff 3.50px,#0070ff 5.50px,#0080ff 7.58px,#00c3ff 15.15px,#04fffb 22.73px,#40ffbf 30.30px,#7cff83 37.88px,#c5ff3a 45.45px,#fff600 53.03px,#ffb000 60.60px,#ff7200 68.17px,#ff3600 75.75px,#ff0c00 83.33px,#f20000 90.90px,#dd0000 98.48px,#d60000 106.05px,#e70000 113.63px,#fe0000 121.20px,#ff1900 128.78px,#ff5300 136.35px,#ff8f00 143.93px,#ffd200 151.50px,#e7ff18 159.08px,#a2ff5d 166.65px,#5fffa0 174.22px,#23ffdc 181.80px,#00e4ff 189.38px,#00a3ff 196.95px,#0063ff 204.53px,#005fff 205.10px,#0050ff 207.10px,#0000f4 208.35px,#0000b7 209.60px,#000095 210.85px,#00008a 212.10px)"></div>
<div style="position:absolute;left:734.8px;top:453.5px;width:212.1px;height:2.6px;background:linear-gradient(90deg,#000093 0.00px,#00009f 0.88px,#0000c4 1.75px,#0003ff 2.62px,#005fff 3.50px,#006fff 5.50px,#007fff 7.58px,#00c1ff 15.15px,#01fffe 22.73px,#3dffc2 30.30px,#78ff87 37.88px,#bfff40 45.45px,#fffc00 53.03px,#ffb700 60.60px,#ff7800 68.17px,#ff3d00 75.75px,#ff0f00 83.33px,#f60000 90.90px,#e20000 98.48px,#dc0000 106.05px,#eb0000 113.63px,#ff0300 121.20px,#ff2000 128.78px,#ff5a00 136.35px,#ff9500 143.93px,#ffd900 151.50px,#e1ff1e 159.08px,#9cff63 166.65px,#5bffa4 174.22px,#20ffdf 181.80px,#00e2ff 189.38px,#00a1ff 196.95px,#0062ff 204.53px,#005eff 205.10px,#004fff 207.10px,#0000f3 208.35px,#0000b7 209.60px,#000095 210.85px,#00008a 212.10px)"></div>
<div style="position:absolute;left:734.8px;top:455.5px;width:212.1px;height:2.6px;background:linear-gradient(90deg,#000093 0.00px,#00009f 0.88px,#0000c3 1.75px,#0003ff 2.62px,#005eff 3.50px,#006eff 5.50px,#007dff 7.58px,#00bfff 15.15px,#00feff 22.73px,#39ffc6 30.30px,#74ff8b 37.88px,#baff45 45.45px,#fbff04 53.03px,#ffbf00 60.60px,#ff7f00 68.17px,#ff4400 75.75px,#ff1300 83.33px,#fa0000 90.90px,#e70000 98.48px,#e10000 106.05px,#f00000 113.63px,#ff0700 121.20px,#ff2700 128.78px,#ff6100 136.35px,#ff9c00 143.93px,#ffe000 151.50px,#dbff24 159.08px,#97ff68 166.65px,#57ffa8 174.22px,#1cffe3 181.80px,#00dfff 189.38px,#00a0ff 196.95px,#0061ff 204.53px,#005dff 205.10px,#004eff 207.10px,#0000f3 208.35px,#0000b6 209.60px,#000094 210.85px,#00008a 212.10px)"></div>
<div style="position:absolute;left:734.8px;top:457.5px;width:212.1px;height:2.6px;background:linear-gradient(90deg,#000093 0.00px,#00009f 0.88px,#0000c3 1.75px,#0002ff 2.62px,#005dff 3.50px,#006cff 5.50px,#007cff 7.58px,#00bdff 15.15px,#00faff 22.73px,#36ffc9 30.30px,#70ff8f 37.88px,#b5ff4a 45.45px,#f5ff0a 53.03px,#ffc600 60.60px,#ff8600 68.17px,#ff4c00 75.75px,#ff1700 83.33px,#ff0000 90.90px,#ec0000 98.48px,#e60000 106.05px,#f50000 113.63px,#ff0b00 121.20px,#ff2f00 128.78px,#ff6800 136.35px,#ffa400 143.93px,#ffe800 151.50px,#d6ff29 159.08px,#91ff6e 166.65px,#53ffac 174.22px,#19ffe6 181.80px,#00dcff 189.38px,#009eff 196.95px,#0060ff 204.53px,#005cff 205.10px,#004dff 207.10px,#0000f2 208.35px,#0000b6 209.60px,#000094 210.85px,#00008a 212.10px)"></div>
<div style="position:absolute;left:734.8px;top:459.5px;width:212.1px;height:2.6px;background:linear-gradient(90deg,#000093 0.00px,#00009f 0.88px,#0000c3 1.75px,#0001ff 2.62px,#005cff 3.50px,#006bff 5.50px,#007bff 7.58px,#00baff 15.15px,#00f7ff 22.73px,#32ffcd 30.30px,#6cff93 37.88px,#afff50 45.45px,#eeff11 53.03px,#ffce00 60.60px,#ff8e00 68.17px,#ff5400 75.75px,#ff1c00 83.33px,#ff0400 90.90px,#f10000 98.48px,#eb0000 106.05px,#f90000 113.63px,#ff0f00 121.20px,#ff3700 128.78px,#ff7000 136.35px,#ffac00 143.93px,#ffef00 151.50px,#d0ff2f 159.08px,#8cff73 166.65px,#4fffb0 174.22px,#16ffe9 181.80px,#00daff 189.38px,#009cff 196.95px,#005fff 204.53px,#005bff 205.10px,#004cff 207.10px,#0000f2 208.35px,#0000b6 209.60px,#000094 210.85px,#00008a 212.10px)"></div>
<div style="position:absolute;left:734.8px;top:461.5px;width:212.1px;height:2.6px;background:linear-gradient(90deg,#000093 0.00px,#00009f 0.88px,#0000c2 1.75px,#0001ff 2.62px,#005bff 3.50px,#006aff 5.50px,#0079ff 7.58px,#00b8ff 15.15px,#00f4ff 22.73px,#2effd1 30.30px,#68ff97 37.88px,#a9ff56 45.45px,#e8ff17 53.03px,#ffd600 60.60px,#ff9500 68.17px,#ff5c00 75.75px,#ff2400 83.33px,#ff0800 90.90px,#f60000 98.48px,#f00000 106.05px,#fe0000 113.63px,#ff1300 121.20px,#ff3f00 128.78px,#ff7800 136.35px,#ffb400 143.93px,#fff700 151.50px,#caff35 159.08px,#86ff79 166.65px,#4bffb4 174.22px,#12ffed 181.80px,#00d7ff 189.38px,#009aff 196.95px,#005eff 204.53px,#005aff 205.10px,#004bff 207.10px,#0000f1 208.35px,#0000b6 209.60px,#000094 210.85px,#00008a 212.10px)"></div>
<div style="position:absolute;left:734.8px;top:463.5px;width:212.1px;height:2.6px;background:linear-gradient(90deg,#000093 0.00px,#00009f 0.88px,#0000c2 1.75px,#0000ff 2.62px,#005aff 3.50px,#0069ff 5.50px,#0078ff 7.58px,#00b6ff 15.15px,#00f1ff 22.73px,#2affd5 30.30px,#63ff9c 37.88px,#a3ff5c 45.45px,#e1ff1e 53.03px,#ffde00 60.60px,#ff9d00 68.17px,#ff6400 75.75px,#ff2d00 83.33px,#ff0d00 90.90px,#fb0000 98.48px,#f50000 106.05px,#ff0300 113.63px,#ff1700 121.20px,#ff4800 128.78px,#ff8000 136.35px,#ffbd00 143.93px,#ffff00 151.50px,#c4ff3b 159.08px,#80ff7f 166.65px,#47ffb8 174.22px,#0efff1 181.80px,#00d4ff 189.38px,#0098ff 196.95px,#005dff 204.53px,#0058ff 205.10px,#004aff 207.10px,#0000f1 208.35px,#0000b5 209.60px,#000094 210.85px,#00008a 212.10px)"></div>
<div style="position:absolute;left:734.8px;top:465.5px;width:212.1px;height:2.6px;background:linear-gradient(90deg,#000093 0.00px,#00009e 0.88px,#0000c2 1.75px,#0000fe 2.62px,#0059ff 3.50px,#0067ff 5.50px,#0076ff 7.58px,#00b4ff 15.15px,#00eeff 22.73px,#27ffd8 30.30px,#5fffa0 37.88px,#9cff63 45.45px,#dbff24 53.03px,#ffe700 60.60px,#ffa600 68.17px,#ff6c00 75.75px,#ff3600 83.33px,#ff1100 90.90px,#ff0000 98.48px,#fa0000 106.05px,#ff0800 113.63px,#ff1c00 121.20px,#ff5000 128.78px,#ff8800 136.35px,#ffc500 143.93px,#f8ff07 151.50px,#beff41 159.08px,#7bff84 166.65px,#43ffbc 174.22px,#0bfff4 181.80px,#00d2ff 189.38px,#0096ff 196.95px,#005cff 204.53px,#0057ff 205.10px,#0049ff 207.10px,#0000f0 208.35px,#0000b5 209.60px,#000094 210.85px,#000089 212.10px)"></div>
<div style="position:absolute;left:734.8px;top:467.5px;width:212.1px;height:2.6px;background:linear-gradient(90deg,#000092 0.00px,#00009e 0.88px,#0000c1 1.75px,#0000fe 2.62px,#0058ff 3.50px,#0066ff 5.50px,#0075ff 7.58px,#00b2ff 15.15px,#00ebff 22.73px,#23ffdc 30.30px,#5affa5 37.88px,#96ff69 45.45px,#d5ff2a 53.03px,#ffef00 60.60px,#ffaf00 68.17px,#ff7500 75.75px,#ff3f00 83.33px,#ff1500 90.90px,#ff0500 98.48px,#fe0000 106.05px,#ff0c00 113.63px,#ff2500 121.20px,#ff5900 128.78px,#ff9000 136.35px,#ffce00 143.93px,#f1ff0e 151.50px,#b8ff47 159.08px,#77ff88 166.65px,#3fffc0 174.22px,#07fff8 181.80px,#00cfff 189.38px,#0094ff 196.95px,#005aff 204.53px,#0056ff 205.10px,#0048ff 207.10px,#0000ef 208.35px,#0000b5 209.60px,#000094 210.85px,#000089 212.10px)"></div>
<div style="position:absolute;left:734.8px;top:469.5px;width:212.1px;height:2.6px;background:linear-gradient(90deg,#000092 0.00px,#00009e 0.88px,#0000c1 1.75px,#0000fd 2.62px,#0056ff 3.50px,#0065ff 5.50px,#0074ff 7.58px,#00afff 15.15px,#00e8ff 22.73px,#1fffe0 30.30px,#56ffa9 37.88px,#90ff6f 45.45px,#ceff31 53.03px,#fff800 60.60px,#ffb800 68.17px,#ff7e00 75.75px,#ff4800 83.33px,#ff1900 90.90px,#ff0900 98.48px,#ff0400 106.05px,#ff1000 113.63px,#ff2f00 121.20px,#ff6200 128.78px,#ff9900 136.35px,#ffd700 143.93px,#ebff14 151.50px,#b2ff4d 159.08px,#72ff8d 166.65px,#3bffc4 174.22px,#04fffb 181.80px,#00cdff 189.38px,#0092ff 196.95px,#0059ff 204.53px,#0055ff 205.10px,#0047ff 207.10px,#0000ef 208.35px,#0000b5 209.60px,#000094 210.85px,#000089 212.10px)"></div>
<div style="position:absolute;left:734.8px;top:471.5px;width:212.1px;height:2.6px;background:linear-gradient(90deg,#000092 0.00px,#00009e 0.88px,#0000c1 1.75px,#0000fc 2.62px,#0055ff 3.50px,#0064ff 5.50px,#0072ff 7.58px,#00adff 15.15px,#00e5ff 22.73px,#1bffe4 30.30px,#51ffae 37.88px,#8aff75 45.45px,#c8ff37 53.03px,#fdff02 60.60px,#ffc200 68.17px,#ff8700 75.75px,#ff5200 83.33px,#ff2200 90.90px,#ff0e00 98.48px,#ff0900 106.05px,#ff1400 113.63px,#ff3900 121.20px,#ff6b00 128.78px,#ffa200 136.35px,#ffe000 143.93px,#e4ff1b 151.50px,#acff53 159.08px,#6dff92 166.65px,#37ffc8 174.22px,#01fffe 181.80px,#00caff 189.38px,#0090ff 196.95px,#0058ff 204.53px,#0054ff 205.10px,#0046ff 207.10px,#0000ee 208.35px,#0000b4 209.60px,#000094 210.85px,#000089 212.10px)"></div>
<div style="position:absolute;left:734.8px;top:473.5px;width:212.1px;height:2.6px;background:linear-gradient(90deg,#000092 0.00px,#00009e 0.88px,#0000c0 1.75px,#0000fc 2.62px,#0054ff 3.50px,#0062ff 5.50px,#0071ff 7.58px,#00abff 15.15px,#00e2ff 22.73px,#17ffe8 30.30px,#4dffb2 37.88px,#83ff7c 45.45px,#c2ff3d 53.03px,#f6ff09 60.60px,#ffcb00 68.17px,#ff9000 75.75px,#ff5b00 83.33px,#ff2c00 90.90px,#ff1200 98.48px,#ff0d00 106.05px,#ff1900 113.63px,#ff4200 121.20px,#ff7500 128.78px,#ffac00 136.35px,#ffe900 143.93px,#ddff22 151.50px,#a5ff5a 159.08px,#68ff97 166.65px,#33ffcc 174.22px,#00fdff 181.80px,#00c7ff 189.38px,#008eff 196.95px,#0057ff 204.53px,#0053ff 205.10px,#0045ff 207.10px,#0000ee 208.35px,#0000b4 209.60px,#000094 210.85px,#000089 212.10px)"></div>
<div style="position:absolute;left:734.8px;top:475.5px;width:212.1px;height:2.6px;background:linear-gradient(90deg,#000092 0.00px,#00009e 0.88px,#0000c0 1.75px,#0000fb 2.62px,#0053ff 3.50px,#0061ff 5.50px,#006fff 7.58px,#00a9ff 15.15px,#00dfff 22.73px,#13ffec 30.30px,#48ffb7 37.88px,#7dff82 45.45px,#bcff43 53.03px,#efff10 60.60px,#ffd500 68.17px,#ff9900 75.75px,#ff6500 83.33px,#ff3600 90.90px,#ff1600 98.48px,#ff1100 106.05px,#ff2200 113.63px,#ff4d00 121.20px,#ff7e00 128.78px,#ffb600 136.35px,#fff300 143.93px,#d7ff28 151.50px,#9eff61 159.08px,#63ff9c 166.65px,#2effd1 174.22px,#00f9ff 181.80px,#00c5ff 189.38px,#008cff 196.95px,#0056ff 204.53px,#0052ff 205.10px,#0043ff 207.10px,#0000ed 208.35px,#0000b4 209.60px,#000094 210.85px,#000089 212.10px)"></div>
<div style="position:absolute;left:734.8px;top:477.5px;width:212.1px;height:2.6px;background:linear-gradient(90deg,#000092 0.00px,#00009d 0.88px,#0000c0 1.75px,#0000fa 2.62px,#0052ff 3.50px,#0060ff 5.50px,#006eff 7.58px,#00a7ff 15.15px,#00dcff 22.73px,#0ffff0 30.30px,#44ffbb 37.88px,#78ff87 45.45px,#b6ff49 53.03px,#e9ff16 60.60px,#ffde00 68.17px,#ffa300 75.75px,#ff6f00 83.33px,#ff4100 90.90px,#ff1c00 98.48px,#ff1600 106.05px,#ff2c00 113.63px,#ff5700 121.20px,#ff8800 128.78px,#ffc000 136.35px,#fffc00 143.93px,#d0ff2f 151.50px,#97ff68 159.08px,#5fffa0 166.65px,#2affd5 174.22px,#00f6ff 181.80px,#00c2ff 189.38px,#008aff 196.95px,#0054ff 204.53px,#0050ff 205.10px,#0042ff 207.10px,#0000ec 208.35px,#0000b3 209.60px,#000094 210.85px,#000089 212.10px)"></div>
<div style="position:absolute;left:734.8px;top:479.5px;width:212.1px;height:2.6px;background:linear-gradient(90deg,#000092 0.00px,#00009d 0.88px,#0000bf 1.75px,#0000fa 2.62px,#0051ff 3.50px,#005eff 5.50px,#006dff 7.58px,#00a5ff 15.15px,#00d9ff 22.73px,#0bfff4 30.30px,#3fffc0 37.88px,#73ff8c 45.45px,#afff50 53.03px,#e2ff1d 60.60px,#ffe800 68.17px,#ffae00 75.75px,#ff7a00 83.33px,#ff4c00 90.90px,#ff2700 98.48px,#ff1a00 106.05px,#ff3700 113.63px,#ff6100 121.20px,#ff9200 128.78px,#ffca00 136.35px,#faff05 143.93px,#caff35 151.50px,#91ff6e 159.08px,#5affa5 166.65px,#26ffd9 174.22px,#00f2ff 181.80px,#00c0ff 189.38px,#0088ff 196.95px,#0053ff 204.53px,#004fff 205.10px,#0041ff 207.10px,#0000ec 208.35px,#0000b3 209.60px,#000093 210.85px,#000089 212.10px)"></div>
<div style="position:absolute;left:734.8px;top:481.5px;width:212.1px;height:2.6px;background:linear-gradient(90deg,#000092 0.00px,#00009d 0.88px,#0000bf 1.75px,#0000f9 2.62px,#004fff 3.50px,#005dff 5.50px,#006bff 7.58px,#00a3ff 15.15px,#00d6ff 22.73px,#07fff8 30.30px,#3bffc4 37.88px,#6eff91 45.45px,#a8ff57 53.03px,#dbff24 60.60px,#fff200 68.17px,#ffb800 75.75px,#ff8400 83.33px,#ff5600 90.90px,#ff3200 98.48px,#ff2600 106.05px,#ff4200 113.63px,#ff6c00 121.20px,#ff9c00 128.78px,#ffd400 136.35px,#f3ff0c 143.93px,#c4ff3b 151.50px,#8aff75 159.08px,#55ffaa 166.65px,#22ffdd 174.22px,#00efff 181.80px,#00bdff 189.38px,#0086ff 196.95px,#0052ff 204.53px,#004eff 205.10px,#0040ff 207.10px,#0000eb 208.35px,#0000b3 209.60px,#000093 210.85px,#000089 212.10px)"></div>
<div style="position:absolute;left:734.8px;top:483.5px;width:212.1px;height:2.6px;background:linear-gradient(90deg,#000092 0.00px,#00009d 0.88px,#0000be 1.75px,#0000f8 2.62px,#004eff 3.50px,#005cff 5.50px,#006aff 7.58px,#00a1ff 15.15px,#00d3ff 22.73px,#03fffc 30.30px,#36ffc9 37.88px,#69ff96 45.45px,#a1ff5e 53.03px,#d5ff2a 60.60px,#fffc00 68.17px,#ffc300 75.75px,#ff8f00 83.33px,#ff6100 90.90px,#ff3e00 98.48px,#ff3200 106.05px,#ff4e00 113.63px,#ff7700 121.20px,#ffa700 128.78px,#ffdf00 136.35px,#ecff13 143.93px,#beff41 151.50px,#83ff7c 159.08px,#50ffaf 166.65px,#1dffe2 174.22px,#00ecff 181.80px,#00bbff 189.38px,#0084ff 196.95px,#0051ff 204.53px,#004dff 205.10px,#003fff 207.10px,#0000eb 208.35px,#0000b2 209.60px,#000093 210.85px,#000089 212.10px)"></div>
<div style="position:absolute;left:734.8px;top:485.5px;width:212.1px;height:2.6px;background:linear-gradient(90deg,#000092 0.00px,#00009d 0.88px,#0000be 1.75px,#0000f7 2.62px,#004dff 3.50px,#005aff 5.50px,#0068ff 7.58px,#009fff 15.15px,#00d0ff 22.73px,#00ffff 30.30px,#32ffcd 37.88px,#64ff9b 45.45px,#9aff65 53.03px,#ceff31 60.60px,#faff05 68.17px,#ffce00 75.75px,#ff9900 83.33px,#ff6d00 90.90px,#ff4900 98.48px,#ff3d00 106.05px,#ff5900 113.63px,#ff8200 121.20px,#ffb200 128.78px,#ffe900 136.35px,#e5ff1a 143.93px,#b8ff47 151.50px,#7dff82 159.08px,#4bffb4 166.65px,#19ffe6 174.22px,#00e9ff 181.80px,#00b8ff 189.38px,#0082ff 196.95px,#004fff 204.53px,#004cff 205.10px,#003eff 207.10px,#0000ea 208.35px,#0000b2 209.60px,#000093 210.85px,#000089 212.10px)"></div>
<div style="position:absolute;left:734.8px;top:487.5px;width:212.1px;height:2.6px;background:linear-gradient(90deg,#000091 0.00px,#00009d 0.88px,#0000be 1.75px,#0000f7 2.62px,#004cff 3.50px,#0059ff 5.50px,#0067ff 7.58px,#009dff 15.15px,#00ceff 22.73px,#00fcff 30.30px,#2dffd2 37.88px,#5effa1 45.45px,#93ff6c 53.03px,#c8ff37 60.60px,#f3ff0c 68.17px,#ffd800 75.75px,#ffa400 83.33px,#ff7800 90.90px,#ff5500 98.48px,#ff4900 106.05px,#ff6500 113.63px,#ff8d00 121.20px,#ffbd00 128.78px,#fff400 136.35px,#deff21 143.93px,#b1ff4e 151.50px,#77ff88 159.08px,#46ffb9 166.65px,#15ffea 174.22px,#00e6ff 181.80px,#00b6ff 189.38px,#0080ff 196.95px,#004eff 204.53px,#004aff 205.10px,#003dff 207.10px,#0000e9 208.35px,#0000b2 209.60px,#000093 210.85px,#000089 212.10px)"></div>
<div style="position:absolute;left:734.8px;top:489.5px;width:212.1px;height:2.6px;background:linear-gradient(90deg,#000091 0.00px,#00009c 0.88px,#0000bd 1.75px,#0000f6 2.62px,#004aff 3.50px,#0058ff 5.50px,#0065ff 7.58px,#009aff 15.15px,#00cbff 22.73px,#00f9ff 30.30px,#29ffd6 37.88px,#59ffa6 45.45px,#8cff73 53.03px,#c2ff3d 60.60px,#ecff13 68.17px,#ffe300 75.75px,#ffb000 83.33px,#ff8300 90.90px,#ff6100 98.48px,#ff5500 106.05px,#ff7000 113.63px,#ff9800 121.20px,#ffc800 128.78px,#fffe00 136.35px,#d8ff27 143.93px,#aaff55 151.50px,#72ff8d 159.08px,#41ffbe 166.65px,#11ffee 174.22px,#00e3ff 181.80px,#00b4ff 189.38px,#007eff 196.95px,#004dff 204.53px,#0049ff 205.10px,#003cff 207.10px,#0000e9 208.35px,#0000b2 209.60px,#000093 210.85px,#000089 212.10px)"></div>
<div style="position:absolute;left:734.8px;top:491.5px;width:212.1px;height:2.6px;background:linear-gradient(90deg,#000091 0.00px,#00009c 0.88px,#0000bd 1.75px,#0000f5 2.62px,#0049ff 3.50px,#0056ff 5.50px,#0064ff 7.58px,#0098ff 15.15px,#00c8ff 22.73px,#00f5ff 30.30px,#24ffdb 37.88px,#54ffab 45.45px,#85ff7a 53.03px,#bcff43 60.60px,#e5ff1a 68.17px,#ffee00 75.75px,#ffbb00 83.33px,#ff8f00 90.90px,#ff6d00 98.48px,#ff6100 106.05px,#ff7c00 113.63px,#ffa400 121.20px,#ffd400 128.78px,#f8ff07 136.35px,#d1ff2e 143.93px,#a2ff5d 151.50px,#6dff92 159.08px,#3dffc2 166.65px,#0cfff3 174.22px,#00e0ff 181.80px,#00b1ff 189.38px,#007dff 196.95px,#004cff 204.53px,#0048ff 205.10px,#003bff 207.10px,#0000e8 208.35px,#0000b2 209.60px,#000093 210.85px,#000089 212.10px)"></div>
<div style="position:absolute;left:734.8px;top:493.5px;width:212.1px;height:2.6px;background:linear-gradient(90deg,#000091 0.00px,#00009c 0.88px,#0000bd 1.75px,#0000f5 2.62px,#0048ff 3.50px,#0055ff 5.50px,#0062ff 7.58px,#0096ff 15.15px,#00c6ff 22.73px,#00f2ff 30.30px,#20ffdf 37.88px,#4fffb0 45.45px,#7eff81 53.03px,#b6ff49 60.60px,#deff21 68.17px,#fff900 75.75px,#ffc700 83.33px,#ff9b00 90.90px,#ff7900 98.48px,#ff6e00 106.05px,#ff8800 113.63px,#ffaf00 121.20px,#ffdf00 128.78px,#f1ff0e 136.35px,#cbff34 143.93px,#9bff64 151.50px,#67ff98 159.08px,#38ffc7 166.65px,#08fff7 174.22px,#00ddff 181.80px,#00afff 189.38px,#007bff 196.95px,#004aff 204.53px,#0047ff 205.10px,#003aff 207.10px,#0000e7 208.35px,#0000b1 209.60px,#000093 210.85px,#000089 212.10px)"></div>
<div style="position:absolute;left:734.8px;top:495.5px;width:212.1px;height:2.6px;background:linear-gradient(90deg,#000091 0.00px,#00009c 0.88px,#0000bc 1.75px,#0000f4 2.62px,#0047ff 3.50px,#0054ff 5.50px,#0061ff 7.58px,#0094ff 15.15px,#00c3ff 22.73px,#00efff 30.30px,#1bffe4 37.88px,#4affb5 45.45px,#78ff87 53.03px,#aeff51 60.60px,#d8ff27 68.17px,#fcff03 75.75px,#ffd200 83.33px,#ffa700 90.90px,#ff8500 98.48px,#ff7a00 106.05px,#ff9400 113.63px,#ffbb00 121.20px,#ffea00 128.78px,#eaff15 136.35px,#c5ff3a 143.93px,#94ff6b 151.50px,#62ff9d 159.08px,#33ffcc 166.65px,#04fffb 174.22px,#00daff 181.80px,#00adff 189.38px,#0079ff 196.95px,#0049ff 204.53px,#0046ff 205.10px,#0039ff 207.10px,#0000e6 208.35px,#0000b1 209.60px,#000093 210.85px,#000089 212.10px)"></div>
<div style="position:absolute;left:734.8px;top:497.5px;width:212.1px;height:2.6px;background:linear-gradient(90deg,#000091 0.00px,#00009c 0.88px,#0000bc 1.75px,#0000f3 2.62px,#0046ff 3.50px,#0052ff 5.50px,#0060ff 7.58px,#0091ff 15.15px,#00c1ff 22.73px,#00ebff 30.30px,#17ffe8 37.88px,#45ffba 45.45px,#73ff8c 53.03px,#a7ff58 60.60px,#d1ff2e 68.17px,#f4ff0b 75.75px,#ffde00 83.33px,#ffb300 90.90px,#ff9200 98.48px,#ff8700 106.05px,#ffa100 113.63px,#ffc700 121.20px,#fff600 128.78px,#e4ff1b 136.35px,#bfff40 143.93px,#8cff73 151.50px,#5cffa3 159.08px,#2fffd0 166.65px,#01fffe 174.22px,#00d7ff 181.80px,#00abff 189.38px,#0078ff 196.95px,#0048ff 204.53px,#0044ff 205.10px,#0037ff 207.10px,#0000e6 208.35px,#0000b1 209.60px,#000093 210.85px,#000089 212.10px)"></div>
<div style="position:absolute;left:734.8px;top:499.5px;width:212.1px;height:2.6px;background:linear-gradient(90deg,#000091 0.00px,#00009c 0.88px,#0000bc 1.75px,#0000f3 2.62px,#0044ff 3.50px,#0051ff 5.50px,#005eff 7.58px,#008fff 15.15px,#00beff 22.73px,#00e8ff 30.30px,#12ffed 37.88px,#40ffbf 45.45px,#6dff92 53.03px,#9fff60 60.60px,#cbff34 68.17px,#eeff11 75.75px,#ffea00 83.33px,#ffbf00 90.90px,#ff9f00 98.48px,#ff9400 106.05px,#ffad00 113.63px,#ffd300 121.20px,#feff01 128.78px,#ddff22 136.35px,#b9ff46 143.93px,#85ff7a 151.50px,#57ffa8 159.08px,#2affd5 166.65px,#00fdff 174.22px,#00d4ff 181.80px,#00a9ff 189.38px,#0076ff 196.95px,#0047ff 204.53px,#0043ff 205.10px,#0036ff 207.10px,#0000e5 208.35px,#0000b1 209.60px,#000093 210.85px,#000089 212.10px)"></div>
<div style="position:absolute;left:734.8px;top:501.5px;width:212.1px;height:2.6px;background:linear-gradient(90deg,#000091 0.00px,#00009b 0.88px,#0000bb 1.75px,#0000f2 2.62px,#0043ff 3.50px,#0050ff 5.50px,#005dff 7.58px,#008dff 15.15px,#00bcff 22.73px,#00e5ff 30.30px,#0efff1 37.88px,#3bffc4 45.45px,#68ff97 53.03px,#98ff67 60.60px,#c5ff3a 68.17px,#e7ff18 75.75px,#fff600 83.33px,#ffcc00 90.90px,#ffab00 98.48px,#ffa100 106.05px,#ffba00 113.63px,#ffdf00 121.20px,#f7ff08 128.78px,#d7ff28 136.35px,#b2ff4d 143.93px,#7eff81 151.50px,#52ffad 159.08px,#25ffda 166.65px,#00faff 174.22px,#00d1ff 181.80px,#00a6ff 189.38px,#0074ff 196.95px,#0046ff 204.53px,#0042ff 205.10px,#0035ff 207.10px,#0000e5 208.35px,#0000b0 209.60px,#000092 210.85px,#000089 212.10px)"></div>
<div style="position:absolute;left:734.8px;top:503.5px;width:212.1px;height:2.6px;background:linear-gradient(90deg,#000091 0.00px,#00009b 0.88px,#0000bb 1.75px,#0000f1 2.62px,#0042ff 3.50px,#004fff 5.50px,#005bff 7.58px,#008bff 15.15px,#00b9ff 22.73px,#00e2ff 30.30px,#0afff5 37.88px,#36ffc9 45.45px,#62ff9d 53.03px,#90ff6f 60.60px,#bfff40 68.17px,#e0ff1f 75.75px,#feff01 83.33px,#ffd800 90.90px,#ffb800 98.48px,#ffad00 106.05px,#ffc600 113.63px,#ffeb00 121.20px,#f0ff0f 128.78px,#d0ff2f 136.35px,#aaff55 143.93px,#78ff87 151.50px,#4cffb3 159.08px,#21ffde 166.65px,#00f6ff 174.22px,#00cfff 181.80px,#00a4ff 189.38px,#0073ff 196.95px,#0044ff 204.53px,#0041ff 205.10px,#0034ff 207.10px,#0000e4 208.35px,#0000b0 209.60px,#000092 210.85px,#000089 212.10px)"></div>
<div style="position:absolute;left:734.8px;top:505.5px;width:212.1px;height:2.6px;background:linear-gradient(90deg,#000090 0.00px,#00009b 0.88px,#0000ba 1.75px,#0000f0 2.62px,#0041ff 3.50px,#004dff 5.50px,#005aff 7.58px,#0088ff 15.15px,#00b7ff 22.73px,#00dfff 30.30px,#05fffa 37.88px,#31ffce 45.45px,#5dffa2 53.03px,#89ff76 60.60px,#b9ff46 68.17px,#daff25 75.75px,#f7ff08 83.33px,#ffe400 90.90px,#ffc400 98.48px,#ffba00 106.05px,#ffd200 113.63px,#fff700 121.20px,#e9ff16 128.78px,#caff35 136.35px,#a2ff5d 143.93px,#72ff8d 151.50px,#47ffb8 159.08px,#1cffe3 166.65px,#00f3ff 174.22px,#00ccff 181.80px,#00a2ff 189.38px,#0071ff 196.95px,#0043ff 204.53px,#0040ff 205.10px,#0032ff 207.10px,#0000e4 208.35px,#0000b0 209.60px,#000092 210.85px,#000089 212.10px)"></div>
<div style="position:absolute;left:734.8px;top:507.5px;width:212.1px;height:2.6px;background:linear-gradient(90deg,#000090 0.00px,#00009b 0.88px,#0000ba 1.75px,#0000f0 2.62px,#0040ff 3.50px,#004cff 5.50px,#0059ff 7.58px,#0086ff 15.15px,#00b5ff 22.73px,#00dcff 30.30px,#02fffd 37.88px,#2dffd2 45.45px,#57ffa8 53.03px,#81ff7e 60.60px,#b2ff4d 68.17px,#d3ff2c 75.75px,#f0ff0f 83.33px,#fff100 90.90px,#ffd100 98.48px,#ffc700 106.05px,#ffdf00 113.63px,#fcff03 121.20px,#e2ff1d 128.78px,#c4ff3b 136.35px,#9bff64 143.93px,#6dff92 151.50px,#42ffbd 159.08px,#18ffe7 166.65px,#00f0ff 174.22px,#00c9ff 181.80px,#00a0ff 189.38px,#0070ff 196.95px,#0042ff 204.53px,#003eff 205.10px,#0031ff 207.10px,#0000e3 208.35px,#0000b0 209.60px,#000092 210.85px,#000089 212.10px)"></div>
<div style="position:absolute;left:734.8px;top:509.5px;width:212.1px;height:2.6px;background:linear-gradient(90deg,#000090 0.00px,#00009b 0.88px,#0000ba 1.75px,#0000ef 2.62px,#003fff 3.50px,#004bff 5.50px,#0057ff 7.58px,#0084ff 15.15px,#00b2ff 22.73px,#00daff 30.30px,#00feff 37.88px,#28ffd7 45.45px,#52ffad 53.03px,#7bff84 60.60px,#aaff55 68.17px,#cdff32 75.75px,#e9ff16 83.33px,#fffd00 90.90px,#ffde00 98.48px,#ffd400 106.05px,#ffec00 113.63px,#f6ff09 121.20px,#dcff23 128.78px,#beff41 136.35px,#93ff6c 143.93px,#67ff98 151.50px,#3dffc2 159.08px,#13ffec 166.65px,#00edff 174.22px,#00c7ff 181.80px,#009eff 189.38px,#006eff 196.95px,#0041ff 204.53px,#003dff 205.10px,#0030ff 207.10px,#0000e3 208.35px,#0000af 209.60px,#000092 210.85px,#000089 212.10px)"></div>
<div style="position:absolute;left:734.8px;top:511.5px;width:212.1px;height:2.6px;background:linear-gradient(90deg,#000090 0.00px,#00009a 0.88px,#0000b9 1.75px,#0000ee 2.62px,#003dff 3.50px,#0049ff 5.50px,#0056ff 7.58px,#0082ff 15.15px,#00b0ff 22.73px,#00d7ff 30.30px,#00fbff 37.88px,#23ffdc 45.45px,#4cffb3 53.03px,#75ff8a 60.60px,#a2ff5d 68.17px,#c7ff38 75.75px,#e2ff1d 83.33px,#f9ff06 90.90px,#ffeb00 98.48px,#ffe100 106.05px,#fff800 113.63px,#efff10 121.20px,#d6ff29 128.78px,#b8ff47 136.35px,#8bff74 143.93px,#61ff9e 151.50px,#38ffc7 159.08px,#0efff1 166.65px,#00eaff 174.22px,#00c4ff 181.80px,#009cff 189.38px,#006cff 196.95px,#0040ff 204.53px,#003cff 205.10px,#002eff 207.10px,#0000e2 208.35px,#0000af 209.60px,#000092 210.85px,#000088 212.10px)"></div>
<div style="position:absolute;left:734.8px;top:513.5px;width:212.1px;height:2.6px;background:linear-gradient(90deg,#000090 0.00px,#00009a 0.88px,#0000b9 1.75px,#0000ee 2.62px,#003cff 3.50px,#0048ff 5.50px,#0054ff 7.58px,#0080ff 15.15px,#00aeff 22.73px,#00d4ff 30.30px,#00f8ff 37.88px,#1effe1 45.45px,#47ffb8 53.03px,#6fff90 60.60px,#9bff64 68.17px,#c1ff3e 75.75px,#dcff23 83.33px,#f2ff0d 90.90px,#fff700 98.48px,#ffed00 106.05px,#fcff03 113.63px,#e8ff17 121.20px,#cfff30 128.78px,#b1ff4e 136.35px,#84ff7b 143.93px,#5cffa3 151.50px,#33ffcc 159.08px,#0afff5 166.65px,#00e7ff 174.22px,#00c2ff 181.80px,#009aff 189.38px,#006bff 196.95px,#003eff 204.53px,#003bff 205.10px,#002dff 207.10px,#0000e2 208.35px,#0000af 209.60px,#000092 210.85px,#000088 212.10px)"></div>
<div style="position:absolute;left:734.8px;top:515.5px;width:212.1px;height:2.6px;background:linear-gradient(90deg,#000090 0.00px,#00009a 0.88px,#0000b8 1.75px,#0000ed 2.62px,#003bff 3.50px,#0047ff 5.50px,#0053ff 7.58px,#007eff 15.15px,#00acff 22.73px,#00d1ff 30.30px,#00f4ff 37.88px,#1affe5 45.45px,#42ffbd 53.03px,#69ff96 60.60px,#93ff6c 68.17px,#bbff44 75.75px,#d6ff29 83.33px,#ecff13 90.90px,#fcff03 98.48px,#fffa00 106.05px,#f5ff0a 113.63px,#e2ff1d 121.20px,#c9ff36 128.78px,#a9ff56 136.35px,#7dff82 143.93px,#56ffa9 151.50px,#2fffd0 159.08px,#06fff9 166.65px,#00e4ff 174.22px,#00bfff 181.80px,#0097ff 189.38px,#0069ff 196.95px,#003dff 204.53px,#003aff 205.10px,#002cff 207.10px,#0000e1 208.35px,#0000af 209.60px,#000092 210.85px,#000088 212.10px)"></div>
<div style="position:absolute;left:734.8px;top:517.5px;width:212.1px;height:2.6px;background:linear-gradient(90deg,#000090 0.00px,#00009a 0.88px,#0000b8 1.75px,#0000ec 2.62px,#003aff 3.50px,#0046ff 5.50px,#0052ff 7.58px,#007cff 15.15px,#00aaff 22.73px,#00cfff 30.30px,#00f1ff 37.88px,#15ffea 45.45px,#3dffc2 53.03px,#64ff9b 60.60px,#8bff74 68.17px,#b5ff4a 75.75px,#d0ff2f 83.33px,#e5ff1a 90.90px,#f5ff0a 98.48px,#fbff04 106.05px,#eeff11 113.63px,#dbff24 121.20px,#c3ff3c 128.78px,#a1ff5e 136.35px,#77ff88 143.93px,#51ffae 151.50px,#2affd5 159.08px,#02fffd 166.65px,#00e1ff 174.22px,#00bdff 181.80px,#0095ff 189.38px,#0068ff 196.95px,#003cff 204.53px,#0039ff 205.10px,#002bff 207.10px,#0000e1 208.35px,#0000ae 209.60px,#000092 210.85px,#000088 212.10px)"></div>
<div style="position:absolute;left:734.8px;top:519.5px;width:212.1px;height:2.6px;background:linear-gradient(90deg,#000090 0.00px,#00009a 0.88px,#0000b7 1.75px,#0000eb 2.62px,#0039ff 3.50px,#0044ff 5.50px,#0050ff 7.58px,#007bff 15.15px,#00a7ff 22.73px,#00ccff 30.30px,#00eeff 37.88px,#11ffee 45.45px,#38ffc7 53.03px,#5effa1 60.60px,#83ff7c 68.17px,#aeff51 75.75px,#caff35 83.33px,#dfff20 90.90px,#efff10 98.48px,#f4ff0b 106.05px,#e8ff17 113.63px,#d5ff2a 121.20px,#bdff42 128.78px,#9aff65 136.35px,#71ff8e 143.93px,#4bffb4 151.50px,#25ffda 159.08px,#00feff 166.65px,#00deff 174.22px,#00baff 181.80px,#0093ff 189.38px,#0066ff 196.95px,#003bff 204.53px,#0038ff 205.10px,#002bff 207.10px,#0000e0 208.35px,#0000ae 209.60px,#000092 210.85px,#000088 212.10px)"></div>
<div style="position:absolute;left:734.8px;top:521.5px;width:212.1px;height:2.6px;background:linear-gradient(90deg,#000090 0.00px,#00009a 0.88px,#0000b7 1.75px,#0000ea 2.62px,#0038ff 3.50px,#0043ff 5.50px,#004fff 7.58px,#0079ff 15.15px,#00a5ff 22.73px,#00c9ff 30.30px,#00ebff 37.88px,#0cfff3 45.45px,#33ffcc 53.03px,#58ffa7 60.60px,#7dff82 68.17px,#a6ff59 75.75px,#c4ff3b 83.33px,#d9ff26 90.90px,#e8ff17 98.48px,#edff12 106.05px,#e1ff1e 113.63px,#cfff30 121.20px,#b8ff47 128.78px,#92ff6d 136.35px,#6bff94 143.93px,#46ffb9 151.50px,#20ffdf 159.08px,#00fbff 166.65px,#00dbff 174.22px,#00b8ff 181.80px,#0090ff 189.38px,#0065ff 196.95px,#003aff 204.53px,#0036ff 205.10px,#002aff 207.10px,#0000e0 208.35px,#0000ae 209.60px,#000091 210.85px,#000088 212.10px)"></div>
<div style="position:absolute;left:734.8px;top:523.5px;width:212.1px;height:2.6px;background:linear-gradient(90deg,#000090 0.00px,#00009a 0.88px,#0000b7 1.75px,#0000e9 2.62px,#0036ff 3.50px,#0042ff 5.50px,#004eff 7.58px,#0077ff 15.15px,#00a3ff 22.73px,#00c7ff 30.30px,#00e8ff 37.88px,#08fff7 45.45px,#2effd1 53.03px,#53ffac 60.60px,#77ff88 68.17px,#9eff61 75.75px,#beff41 83.33px,#d3ff2c 90.90px,#e2ff1d 98.48px,#e7ff18 106.05px,#dbff24 113.63px,#c9ff36 121.20px,#b1ff4e 128.78px,#8aff75 136.35px,#65ff9a 143.93px,#41ffbe 151.50px,#1bffe4 159.08px,#00f8ff 166.65px,#00d8ff 174.22px,#00b6ff 181.80px,#008eff 189.38px,#0063ff 196.95px,#0039ff 204.53px,#0035ff 205.10px,#0029ff 207.10px,#0000df 208.35px,#0000ae 209.60px,#000091 210.85px,#000088 212.10px)"></div>
<div style="position:absolute;left:734.8px;top:525.5px;width:212.1px;height:2.6px;background:linear-gradient(90deg,#000090 0.00px,#000099 0.88px,#0000b7 1.75px,#0000e9 2.62px,#0035ff 3.50px,#0041ff 5.50px,#004cff 7.58px,#0075ff 15.15px,#00a1ff 22.73px,#00c5ff 30.30px,#00e5ff 37.88px,#04fffb 45.45px,#29ffd6 53.03px,#4dffb2 60.60px,#71ff8e 68.17px,#96ff69 75.75px,#b8ff47 83.33px,#cdff32 90.90px,#dcff23 98.48px,#e1ff1e 106.05px,#d5ff2a 113.63px,#c3ff3c 121.20px,#a9ff56 128.78px,#82ff7d 136.35px,#60ff9f 143.93px,#3cffc3 151.50px,#17ffe8 159.08px,#00f5ff 166.65px,#00d6ff 174.22px,#00b4ff 181.80px,#008cff 189.38px,#0062ff 196.95px,#0037ff 204.53px,#0034ff 205.10px,#0028ff 207.10px,#0000de 208.35px,#0000ad 209.60px,#000091 210.85px,#000088 212.10px)"></div>
<div style="position:absolute;left:734.8px;top:527.5px;width:212.1px;height:2.6px;background:linear-gradient(90deg,#000090 0.00px,#000099 0.88px,#0000b6 1.75px,#0000e8 2.62px,#0034ff 3.50px,#003fff 5.50px,#004bff 7.58px,#0074ff 15.15px,#009fff 22.73px,#00c2ff 30.30px,#00e2ff 37.88px,#01fffe 45.45px,#24ffdb 53.03px,#48ffb7 60.60px,#6bff94 68.17px,#8eff71 75.75px,#b2ff4d 83.33px,#c7ff38 90.90px,#d6ff29 98.48px,#daff25 106.05px,#cfff30 113.63px,#bdff42 121.20px,#a1ff5e 128.78px,#7cff83 136.35px,#5affa5 143.93px,#37ffc8 151.50px,#12ffed 159.08px,#00f2ff 166.65px,#00d3ff 174.22px,#00b1ff 181.80px,#0089ff 189.38px,#0060ff 196.95px,#0036ff 204.53px,#0032ff 205.10px,#0027ff 207.10px,#0000de 208.35px,#0000ad 209.60px,#000091 210.85px,#000088 212.10px)"></div>
<div style="position:absolute;left:734.8px;top:529.5px;width:212.1px;height:2.6px;background:linear-gradient(90deg,#00008f 0.00px,#000099 0.88px,#0000b6 1.75px,#0000e7 2.62px,#0032ff 3.50px,#003eff 5.50px,#004aff 7.58px,#0072ff 15.15px,#009dff 22.73px,#00c0ff 30.30px,#00e0ff 37.88px,#00fdff 45.45px,#20ffdf 53.03px,#43ffbc 60.60px,#65ff9a 68.17px,#86ff79 75.75px,#a9ff56 83.33px,#c1ff3e 90.90px,#d0ff2f 98.48px,#d4ff2b 106.05px,#c9ff36 113.63px,#b8ff47 121.20px,#99ff66 128.78px,#76ff89 136.35px,#54ffab 143.93px,#32ffcd 151.50px,#0efff1 159.08px,#00efff 166.65px,#00d0ff 174.22px,#00afff 181.80px,#0087ff 189.38px,#005fff 196.95px,#0035ff 204.53px,#0030ff 205.10px,#0026ff 207.10px,#0000dd 208.35px,#0000ad 209.60px,#000091 210.85px,#000088 212.10px)"></div>
<div style="position:absolute;left:734.8px;top:531.5px;width:212.1px;height:2.6px;background:linear-gradient(90deg,#00008f 0.00px,#000099 0.88px,#0000b6 1.75px,#0000e7 2.62px,#0030ff 3.50px,#003dff 5.50px,#0048ff 7.58px,#0070ff 15.15px,#009bff 22.73px,#00bdff 30.30px,#00ddff 37.88px,#00faff 45.45px,#1bffe4 53.03px,#3effc1 60.60px,#5fffa0 68.17px,#7fff80 75.75px,#a1ff5e 83.33px,#bbff44 90.90px,#caff35 98.48px,#cfff30 106.05px,#c4ff3b 113.63px,#b1ff4e 121.20px,#91ff6e 128.78px,#70ff8f 136.35px,#4effb1 143.93px,#2dffd2 151.50px,#09fff6 159.08px,#00ecff 166.65px,#00ceff 174.22px,#00adff 181.80px,#0085ff 189.38px,#005dff 196.95px,#0033ff 204.53px,#002fff 205.10px,#0025ff 207.10px,#0000dd 208.35px,#0000ac 209.60px,#000091 210.85px,#000088 212.10px)"></div>
<div style="position:absolute;left:734.8px;top:533.5px;width:212.1px;height:2.6px;background:linear-gradient(90deg,#00008f 0.00px,#000099 0.88px,#0000b5 1.75px,#0000e6 2.62px,#002fff 3.50px,#003cff 5.50px,#0047ff 7.58px,#006fff 15.15px,#0099ff 22.73px,#00bbff 30.30px,#00daff 37.88px,#00f7ff 45.45px,#16ffe9 53.03px,#38ffc7 60.60px,#59ffa6 68.17px,#78ff87 75.75px,#99ff66 83.33px,#b6ff49 90.90px,#c4ff3b 98.48px,#c9ff36 106.05px,#beff41 113.63px,#a9ff56 121.20px,#89ff76 128.78px,#6aff95 136.35px,#49ffb6 143.93px,#28ffd7 151.50px,#05fffa 159.08px,#00e9ff 166.65px,#00cbff 174.22px,#00abff 181.80px,#0083ff 189.38px,#005cff 196.95px,#0032ff 204.53px,#002eff 205.10px,#0024ff 207.10px,#0000dc 208.35px,#0000ac 209.60px,#000091 210.85px,#000088 212.10px)"></div>
<div style="position:absolute;left:734.8px;top:535.5px;width:212.1px;height:2.6px;background:linear-gradient(90deg,#00008f 0.00px,#000099 0.88px,#0000b5 1.75px,#0000e6 2.62px,#002eff 3.50px,#003bff 5.50px,#0046ff 7.58px,#006dff 15.15px,#0096ff 22.73px,#00b9ff 30.30px,#00d7ff 37.88px,#00f4ff 45.45px,#11ffee 53.03px,#33ffcc 60.60px,#53ffac 68.17px,#72ff8d 75.75px,#91ff6e 83.33px,#aeff51 90.90px,#bfff40 98.48px,#c3ff3c 106.05px,#b8ff47 113.63px,#a1ff5e 121.20px,#81ff7e 128.78px,#64ff9b 136.35px,#44ffbb 143.93px,#23ffdc 151.50px,#02fffd 159.08px,#00e6ff 166.65px,#00c9ff 174.22px,#00a9ff 181.80px,#0081ff 189.38px,#005aff 196.95px,#0030ff 204.53px,#002dff 205.10px,#0023ff 207.10px,#0000dc 208.35px,#0000ac 209.60px,#000091 210.85px,#000088 212.10px)"></div>
<div style="position:absolute;left:734.8px;top:537.5px;width:212.1px;height:2.6px;background:linear-gradient(90deg,#00008f 0.00px,#000099 0.88px,#0000b5 1.75px,#0000e5 2.62px,#002dff 3.50px,#003aff 5.50px,#0045ff 7.58px,#006cff 15.15px,#0094ff 22.73px,#00b7ff 30.30px,#00d5ff 37.88px,#00f1ff 45.45px,#0dfff2 53.03px,#2effd1 60.60px,#4effb1 68.17px,#6cff93 75.75px,#8aff75 83.33px,#a6ff59 90.90px,#b9ff46 98.48px,#bdff42 106.05px,#b2ff4d 113.63px,#99ff66 121.20px,#7bff84 128.78px,#5effa1 136.35px,#3fffc0 143.93px,#1effe1 151.50px,#00feff 159.08px,#00e3ff 166.65px,#00c6ff 174.22px,#00a7ff 181.80px,#007fff 189.38px,#0059ff 196.95px,#002fff 204.53px,#002cff 205.10px,#0022ff 207.10px,#0000db 208.35px,#0000ac 209.60px,#000091 210.85px,#000088 212.10px)"></div>
<div style="position:absolute;left:734.8px;top:539.5px;width:212.1px;height:2.6px;background:linear-gradient(90deg,#00008f 0.00px,#000098 0.88px,#0000b4 1.75px,#0000e4 2.62px,#002cff 3.50px,#0038ff 5.50px,#0043ff 7.58px,#006aff 15.15px,#0092ff 22.73px,#00b4ff 30.30px,#00d2ff 37.88px,#00eeff 45.45px,#08fff7 53.03px,#2affd5 60.60px,#48ffb7 68.17px,#66ff99 75.75px,#82ff7d 83.33px,#9eff61 90.90px,#b3ff4c 98.48px,#b8ff47 106.05px,#aaff55 113.63px,#91ff6e 121.20px,#75ff8a 128.78px,#58ffa7 136.35px,#3affc5 143.93px,#1affe5 151.50px,#00fbff 159.08px,#00e1ff 166.65px,#00c4ff 174.22px,#00a5ff 181.80px,#007dff 189.38px,#0057ff 196.95px,#002dff 204.53px,#002bff 205.10px,#0021ff 207.10px,#0000db 208.35px,#0000ab 209.60px,#000090 210.85px,#000088 212.10px)"></div>
<div style="position:absolute;left:734.8px;top:541.5px;width:212.1px;height:2.6px;background:linear-gradient(90deg,#00008f 0.00px,#000098 0.88px,#0000b4 1.75px,#0000e4 2.62px,#002bff 3.50px,#0037ff 5.50px,#0042ff 7.58px,#0068ff 15.15px,#008fff 22.73px,#00b2ff 30.30px,#00d0ff 37.88px,#00ebff 45.45px,#04fffb 53.03px,#25ffda 60.60px,#43ffbc 68.17px,#61ff9e 75.75px,#7bff84 83.33px,#96ff69 90.90px,#abff54 98.48px,#b2ff4d 106.05px,#a2ff5d 113.63px,#89ff76 121.20px,#6fff90 128.78px,#52ffad 136.35px,#35ffca 143.93px,#15ffea 151.50px,#00f8ff 159.08px,#00deff 166.65px,#00c2ff 174.22px,#00a3ff 181.80px,#007bff 189.38px,#0056ff 196.95px,#002cff 204.53px,#002aff 205.10px,#0020ff 207.10px,#0000da 208.35px,#0000ab 209.60px,#000090 210.85px,#000088 212.10px)"></div>
<div style="position:absolute;left:734.8px;top:543.5px;width:212.1px;height:2.6px;background:linear-gradient(90deg,#00008f 0.00px,#000098 0.88px,#0000b4 1.75px,#0000e3 2.62px,#002aff 3.50px,#0036ff 5.50px,#0041ff 7.58px,#0067ff 15.15px,#008dff 22.73px,#00b0ff 30.30px,#00cdff 37.88px,#00e8ff 45.45px,#02fffd 53.03px,#20ffdf 60.60px,#3effc1 68.17px,#5bffa4 75.75px,#75ff8a 83.33px,#8eff71 90.90px,#a3ff5c 98.48px,#a9ff56 106.05px,#9aff65 113.63px,#81ff7e 121.20px,#69ff96 128.78px,#4dffb2 136.35px,#30ffcf 143.93px,#10ffef 151.50px,#00f5ff 159.08px,#00dbff 166.65px,#00bfff 174.22px,#00a1ff 181.80px,#007aff 189.38px,#0055ff 196.95px,#002bff 204.53px,#0029ff 205.10px,#001fff 207.10px,#0000d9 208.35px,#0000ab 209.60px,#000090 210.85px,#000088 212.10px)"></div>
<div style="position:absolute;left:734.8px;top:545.5px;width:212.1px;height:2.6px;background:linear-gradient(90deg,#00008f 0.00px,#000098 0.88px,#0000b3 1.75px,#0000e3 2.62px,#0029ff 3.50px,#0034ff 5.50px,#0040ff 7.58px,#0065ff 15.15px,#008bff 22.73px,#00aeff 30.30px,#00cbff 37.88px,#00e5ff 45.45px,#00feff 53.03px,#1bffe4 60.60px,#39ffc6 68.17px,#55ffaa 75.75px,#6fff90 83.33px,#86ff79 90.90px,#9bff64 98.48px,#a1ff5e 106.05px,#92ff6d 113.63px,#7bff84 121.20px,#63ff9c 128.78px,#47ffb8 136.35px,#2bffd4 143.93px,#0cfff3 151.50px,#00f2ff 159.08px,#00d9ff 166.65px,#00bdff 174.22px,#009fff 181.80px,#0078ff 189.38px,#0053ff 196.95px,#002aff 204.53px,#0028ff 205.10px,#001eff 207.10px,#0000d9 208.35px,#0000ab 209.60px,#000090 210.85px,#000088 212.10px)"></div>
<div style="position:absolute;left:734.8px;top:547.5px;width:212.1px;height:2.6px;background:linear-gradient(90deg,#00008f 0.00px,#000098 0.88px,#0000b3 1.75px,#0000e2 2.62px,#0028ff 3.50px,#0033ff 5.50px,#003eff 7.58px,#0064ff 15.15px,#0089ff 22.73px,#00acff 30.30px,#00c9ff 37.88px,#00e3ff 45.45px,#00fbff 53.03px,#16ffe9 60.60px,#34ffcb 68.17px,#4fffb0 75.75px,#69ff96 83.33px,#7fff80 90.90px,#93ff6c 98.48px,#99ff66 106.05px,#8aff75 113.63px,#75ff8a 121.20px,#5dffa2 128.78px,#42ffbd 136.35px,#26ffd9 143.93px,#07fff8 151.50px,#00efff 159.08px,#00d6ff 166.65px,#00bbff 174.22px,#009dff 181.80px,#0076ff 189.38px,#0052ff 196.95px,#0029ff 204.53px,#0027ff 205.10px,#001dff 207.10px,#0000d8 208.35px,#0000aa 209.60px,#000090 210.85px,#000087 212.10px)"></div>
<div style="position:absolute;left:734.8px;top:549.5px;width:212.1px;height:2.6px;background:linear-gradient(90deg,#00008e 0.00px,#000098 0.88px,#0000b3 1.75px,#0000e1 2.62px,#0027ff 3.50px,#0031ff 5.50px,#003dff 7.58px,#0062ff 15.15px,#0087ff 22.73px,#00aaff 30.30px,#00c6ff 37.88px,#00e0ff 45.45px,#00f8ff 53.03px,#12ffed 60.60px,#2fffd0 68.17px,#4affb5 75.75px,#63ff9c 83.33px,#78ff87 90.90px,#8bff74 98.48px,#91ff6e 106.05px,#82ff7d 113.63px,#6fff90 121.20px,#57ffa8 128.78px,#3dffc2 136.35px,#21ffde 143.93px,#04fffb 151.50px,#00ecff 159.08px,#00d4ff 166.65px,#00b9ff 174.22px,#009bff 181.80px,#0074ff 189.38px,#0050ff 196.95px,#0028ff 204.53px,#0026ff 205.10px,#001cff 207.10px,#0000d8 208.35px,#0000aa 209.60px,#000090 210.85px,#000087 212.10px)"></div>
<div style="position:absolute;left:734.8px;top:551.5px;width:212.1px;height:2.6px;background:linear-gradient(90deg,#00008e 0.00px,#000097 0.88px,#0000b2 1.75px,#0000e1 2.62px,#0025ff 3.50px,#002fff 5.50px,#003cff 7.58px,#0061ff 15.15px,#0084ff 22.73px,#00a8ff 30.30px,#00c4ff 37.88px,#00ddff 45.45px,#00f5ff 53.03px,#0dfff2 60.60px,#2affd5 68.17px,#45ffba 75.75px,#5dffa2 83.33px,#72ff8d 90.90px,#83ff7c 98.48px,#89ff76 106.05px,#7bff84 113.63px,#69ff96 121.20px,#51ffae 128.78px,#38ffc7 136.35px,#1cffe3 143.93px,#01fffe 151.50px,#00eaff 159.08px,#00d1ff 166.65px,#00b7ff 174.22px,#0099ff 181.80px,#0073ff 189.38px,#004fff 196.95px,#0027ff 204.53px,#0025ff 205.10px,#001bff 207.10px,#0000d7 208.35px,#0000aa 209.60px,#000090 210.85px,#000087 212.10px)"></div>
<div style="position:absolute;left:734.8px;top:553.5px;width:212.1px;height:2.6px;background:linear-gradient(90deg,#00008e 0.00px,#000097 0.88px,#0000b2 1.75px,#0000e0 2.62px,#0024ff 3.50px,#002eff 5.50px,#003bff 7.58px,#005fff 15.15px,#0082ff 22.73px,#00a6ff 30.30px,#00c2ff 37.88px,#00dbff 45.45px,#00f2ff 53.03px,#09fff6 60.60px,#25ffda 68.17px,#3fffc0 75.75px,#57ffa8 83.33px,#6cff93 90.90px,#7cff83 98.48px,#81ff7e 106.05px,#75ff8a 113.63px,#63ff9c 121.20px,#4cffb3 128.78px,#33ffcc 136.35px,#18ffe7 143.93px,#00fdff 151.50px,#00e7ff 159.08px,#00cfff 166.65px,#00b5ff 174.22px,#0096ff 181.80px,#0071ff 189.38px,#004eff 196.95px,#0026ff 204.53px,#0024ff 205.10px,#001aff 207.10px,#0000d6 208.35px,#0000a9 209.60px,#000090 210.85px,#000087 212.10px)"></div>
<div style="position:absolute;left:734.8px;top:555.5px;width:212.1px;height:2.6px;background:linear-gradient(90deg,#00008e 0.00px,#000097 0.88px,#0000b2 1.75px,#0000df 2.62px,#0023ff 3.50px,#002dff 5.50px,#003aff 7.58px,#005eff 15.15px,#0080ff 22.73px,#00a4ff 30.30px,#00bfff 37.88px,#00d8ff 45.45px,#00efff 53.03px,#04fffb 60.60px,#21ffde 68.17px,#3affc5 75.75px,#52ffad 83.33px,#66ff99 90.90px,#76ff89 98.48px,#7bff84 106.05px,#6fff90 113.63px,#5dffa2 121.20px,#46ffb9 128.78px,#2effd1 136.35px,#13ffec 143.93px,#00faff 151.50px,#00e4ff 159.08px,#00ccff 166.65px,#00b2ff 174.22px,#0094ff 181.80px,#0070ff 189.38px,#004cff 196.95px,#0025ff 204.53px,#0022ff 205.10px,#0019ff 207.10px,#0000d6 208.35px,#0000a9 209.60px,#000090 210.85px,#000087 212.10px)"></div>
<div style="position:absolute;left:734.8px;top:557.5px;width:212.1px;height:2.6px;background:linear-gradient(90deg,#00008e 0.00px,#000097 0.88px,#0000b1 1.75px,#0000df 2.62px,#0022ff 3.50px,#002cff 5.50px,#0039ff 7.58px,#005cff 15.15px,#007eff 22.73px,#00a2ff 30.30px,#00bdff 37.88px,#00d6ff 45.45px,#00edff 53.03px,#02fffd 60.60px,#1cffe3 68.17px,#35ffca 75.75px,#4cffb3 83.33px,#60ff9f 90.90px,#70ff8f 98.48px,#75ff8a 106.05px,#69ff96 113.63px,#57ffa8 121.20px,#41ffbe 128.78px,#29ffd6 136.35px,#0efff1 143.93px,#00f7ff 151.50px,#00e2ff 159.08px,#00caff 166.65px,#00b0ff 174.22px,#0092ff 181.80px,#006eff 189.38px,#004bff 196.95px,#0024ff 204.53px,#0021ff 205.10px,#0018ff 207.10px,#0000d5 208.35px,#0000a9 209.60px,#00008f 210.85px,#000087 212.10px)"></div>
<div style="position:absolute;left:734.8px;top:559.5px;width:212.1px;height:2.6px;background:linear-gradient(90deg,#00008e 0.00px,#000097 0.88px,#0000b1 1.75px,#0000de 2.62px,#0021ff 3.50px,#002bff 5.50px,#0037ff 7.58px,#005bff 15.15px,#007dff 22.73px,#00a1ff 30.30px,#00bbff 37.88px,#00d4ff 45.45px,#00eaff 53.03px,#00feff 60.60px,#17ffe8 68.17px,#30ffcf 75.75px,#47ffb8 83.33px,#5bffa4 90.90px,#6aff95 98.48px,#6fff90 106.05px,#63ff9c 113.63px,#51ffae 121.20px,#3cffc3 128.78px,#24ffdb 136.35px,#0afff5 143.93px,#00f5ff 151.50px,#00dfff 159.08px,#00c8ff 166.65px,#00aeff 174.22px,#0090ff 181.80px,#006cff 189.38px,#004aff 196.95px,#0023ff 204.53px,#0020ff 205.10px,#0017ff 207.10px,#0000d5 208.35px,#0000a8 209.60px,#00008f 210.85px,#000087 212.10px)"></div>
<div style="position:absolute;left:734.8px;top:561.5px;width:212.1px;height:2.6px;background:linear-gradient(90deg,#00008e 0.00px,#000097 0.88px,#0000b1 1.75px,#0000de 2.62px,#0020ff 3.50px,#002aff 5.50px,#0036ff 7.58px,#005aff 15.15px,#007bff 22.73px,#009fff 30.30px,#00b9ff 37.88px,#00d1ff 45.45px,#00e7ff 53.03px,#00fbff 60.60px,#12ffed 68.17px,#2bffd4 75.75px,#42ffbd 83.33px,#55ffaa 90.90px,#64ff9b 98.48px,#69ff96 106.05px,#5dffa2 113.63px,#4cffb3 121.20px,#37ffc8 128.78px,#20ffdf 136.35px,#05fffa 143.93px,#00f2ff 151.50px,#00ddff 159.08px,#00c6ff 166.65px,#00adff 174.22px,#008dff 181.80px,#006bff 189.38px,#0049ff 196.95px,#0022ff 204.53px,#001fff 205.10px,#0016ff 207.10px,#0000d4 208.35px,#0000a8 209.60px,#00008f 210.85px,#000087 212.10px)"></div>
<div style="position:absolute;left:734.8px;top:563.5px;width:212.1px;height:2.6px;background:linear-gradient(90deg,#00008e 0.00px,#000096 0.88px,#0000b0 1.75px,#0000dd 2.62px,#001fff 3.50px,#0028ff 5.50px,#0035ff 7.58px,#0058ff 15.15px,#0079ff 22.73px,#009dff 30.30px,#00b7ff 37.88px,#00cfff 45.45px,#00e5ff 53.03px,#00f9ff 60.60px,#0efff1 68.17px,#27ffd8 75.75px,#3dffc2 83.33px,#4fffb0 90.90px,#5effa1 98.48px,#63ff9c 106.05px,#57ffa8 113.63px,#46ffb9 121.20px,#32ffcd 128.78px,#1bffe4 136.35px,#03fffc 143.93px,#00efff 151.50px,#00daff 159.08px,#00c3ff 166.65px,#00abff 174.22px,#008bff 181.80px,#0069ff 189.38px,#0047ff 196.95px,#0021ff 204.53px,#001eff 205.10px,#0015ff 207.10px,#0000d3 208.35px,#0000a8 209.60px,#00008f 210.85px,#000087 212.10px)"></div>
<div style="position:absolute;left:734.8px;top:565.5px;width:212.1px;height:2.6px;background:linear-gradient(90deg,#00008e 0.00px,#000096 0.88px,#0000b0 1.75px,#0000dc 2.62px,#001eff 3.50px,#0027ff 5.50px,#0033ff 7.58px,#0057ff 15.15px,#0077ff 22.73px,#009bff 30.30px,#00b5ff 37.88px,#00cdff 45.45px,#00e2ff 53.03px,#00f6ff 60.60px,#09fff6 68.17px,#22ffdd 75.75px,#38ffc7 83.33px,#4affb5 90.90px,#58ffa7 98.48px,#5dffa2 106.05px,#52ffad 113.63px,#41ffbe 121.20px,#2dffd2 128.78px,#16ffe9 136.35px,#00ffff 143.93px,#00ecff 151.50px,#00d8ff 159.08px,#00c1ff 166.65px,#00a9ff 174.22px,#0089ff 181.80px,#0068ff 189.38px,#0046ff 196.95px,#0020ff 204.53px,#001dff 205.10px,#0014ff 207.10px,#0000d3 208.35px,#0000a8 209.60px,#00008f 210.85px,#000087 212.10px)"></div>
<div style="position:absolute;left:734.8px;top:567.5px;width:212.1px;height:2.6px;background:linear-gradient(90deg,#00008e 0.00px,#000096 0.88px,#0000b0 1.75px,#0000dc 2.62px,#001dff 3.50px,#0026ff 5.50px,#0031ff 7.58px,#0055ff 15.15px,#0076ff 22.73px,#0098ff 30.30px,#00b3ff 37.88px,#00caff 45.45px,#00e0ff 53.03px,#00f3ff 60.60px,#05fffa 68.17px,#1dffe2 75.75px,#33ffcc 83.33px,#44ffbb 90.90px,#52ffad 98.48px,#57ffa8 106.05px,#4cffb3 113.63px,#3cffc3 121.20px,#28ffd7 128.78px,#12ffed 136.35px,#00fcff 143.93px,#00eaff 151.50px,#00d5ff 159.08px,#00bfff 166.65px,#00a7ff 174.22px,#0087ff 181.80px,#0066ff 189.38px,#0045ff 196.95px,#001fff 204.53px,#001cff 205.10px,#0013ff 207.10px,#0000d2 208.35px,#0000a7 209.60px,#00008f 210.85px,#000087 212.10px)"></div>
<div style="position:absolute;left:734.8px;top:569.5px;width:212.1px;height:2.6px;background:linear-gradient(90deg,#00008d 0.00px,#000096 0.88px,#0000af 1.75px,#0000db 2.62px,#001cff 3.50px,#0025ff 5.50px,#002fff 7.58px,#0054ff 15.15px,#0074ff 22.73px,#0096ff 30.30px,#00b1ff 37.88px,#00c8ff 45.45px,#00ddff 53.03px,#00f0ff 60.60px,#02fffd 68.17px,#18ffe7 75.75px,#2effd1 83.33px,#3fffc0 90.90px,#4dffb2 98.48px,#51ffae 106.05px,#47ffb8 113.63px,#37ffc8 121.20px,#24ffdb 128.78px,#0dfff2 136.35px,#00faff 143.93px,#00e7ff 151.50px,#00d3ff 159.08px,#00bdff 166.65px,#00a5ff 174.22px,#0085ff 181.80px,#0065ff 189.38px,#0044ff 196.95px,#001eff 204.53px,#001bff 205.10px,#0012ff 207.10px,#0000d2 208.35px,#0000a7 209.60px,#00008f 210.85px,#000087 212.10px)"></div>
<div style="position:absolute;left:734.8px;top:571.5px;width:212.1px;height:2.6px;background:linear-gradient(90deg,#00008d 0.00px,#000096 0.88px,#0000af 1.75px,#0000da 2.62px,#001bff 3.50px,#0024ff 5.50px,#002eff 7.58px,#0053ff 15.15px,#0073ff 22.73px,#0094ff 30.30px,#00afff 37.88px,#00c6ff 45.45px,#00dbff 53.03px,#00eeff 60.60px,#00ffff 68.17px,#14ffeb 75.75px,#29ffd6 83.33px,#3affc5 90.90px,#47ffb8 98.48px,#4cffb3 106.05px,#42ffbd 113.63px,#32ffcd 121.20px,#1fffe0 128.78px,#08fff7 136.35px,#00f7ff 143.93px,#00e5ff 151.50px,#00d1ff 159.08px,#00bbff 166.65px,#00a3ff 174.22px,#0083ff 181.80px,#0063ff 189.38px,#0042ff 196.95px,#001dff 204.53px,#001aff 205.10px,#0011ff 207.10px,#0000d1 208.35px,#0000a7 209.60px,#00008f 210.85px,#000087 212.10px)"></div>
<div style="position:absolute;left:734.8px;top:573.5px;width:212.1px;height:2.6px;background:linear-gradient(90deg,#00008d 0.00px,#000096 0.88px,#0000af 1.75px,#0000da 2.62px,#001aff 3.50px,#0023ff 5.50px,#002dff 7.58px,#0051ff 15.15px,#0071ff 22.73px,#0092ff 30.30px,#00adff 37.88px,#00c4ff 45.45px,#00d8ff 53.03px,#00ebff 60.60px,#00fcff 68.17px,#0ffff0 75.75px,#24ffdb 83.33px,#35ffca 90.90px,#42ffbd 98.48px,#47ffb8 106.05px,#3dffc2 113.63px,#2dffd2 121.20px,#1affe5 128.78px,#04fffb 136.35px,#00f4ff 143.93px,#00e2ff 151.50px,#00cfff 159.08px,#00b9ff 166.65px,#00a1ff 174.22px,#0081ff 181.80px,#0062ff 189.38px,#0041ff 196.95px,#001cff 204.53px,#0019ff 205.10px,#0010ff 207.10px,#0000d0 208.35px,#0000a6 209.60px,#00008e 210.85px,#000087 212.10px)"></div>
<div style="position:absolute;left:734.8px;top:575.5px;width:212.1px;height:2.6px;background:linear-gradient(90deg,#00008d 0.00px,#000095 0.88px,#0000ae 1.75px,#0000d9 2.62px,#0019ff 3.50px,#0022ff 5.50px,#002bff 7.58px,#0050ff 15.15px,#006fff 22.73px,#008fff 30.30px,#00abff 37.88px,#00c2ff 45.45px,#00d6ff 53.03px,#00e9ff 60.60px,#00f9ff 68.17px,#0bfff4 75.75px,#1fffe0 83.33px,#30ffcf 90.90px,#3dffc2 98.48px,#41ffbe 106.05px,#38ffc7 113.63px,#29ffd6 121.20px,#16ffe9 128.78px,#02fffd 136.35px,#00f2ff 143.93px,#00e0ff 151.50px,#00ccff 159.08px,#00b7ff 166.65px,#00a0ff 174.22px,#007fff 181.80px,#0060ff 189.38px,#0040ff 196.95px,#001aff 204.53px,#0018ff 205.10px,#000fff 207.10px,#0000d0 208.35px,#0000a6 209.60px,#00008e 210.85px,#000087 212.10px)"></div>
<div style="position:absolute;left:734.8px;top:577.5px;width:212.1px;height:2.6px;background:linear-gradient(90deg,#00008d 0.00px,#000095 0.88px,#0000ae 1.75px,#0000d8 2.62px,#0018ff 3.50px,#0021ff 5.50px,#002aff 7.58px,#004fff 15.15px,#006eff 22.73px,#008dff 30.30px,#00a9ff 37.88px,#00c0ff 45.45px,#00d4ff 53.03px,#00e6ff 60.60px,#00f7ff 68.17px,#06fff9 75.75px,#1bffe4 83.33px,#2cffd3 90.90px,#38ffc7 98.48px,#3cffc3 106.05px,#33ffcc 113.63px,#24ffdb 121.20px,#11ffee 128.78px,#00ffff 136.35px,#00efff 143.93px,#00ddff 151.50px,#00caff 159.08px,#00b5ff 166.65px,#009eff 174.22px,#007dff 181.80px,#005fff 189.38px,#003fff 196.95px,#0019ff 204.53px,#0017ff 205.10px,#000eff 207.10px,#0000cf 208.35px,#0000a6 209.60px,#00008e 210.85px,#000087 212.10px)"></div>
<div style="position:absolute;left:734.8px;top:579.5px;width:212.1px;height:2.6px;background:linear-gradient(90deg,#00008d 0.00px,#000095 0.88px,#0000ae 1.75px,#0000d8 2.62px,#0017ff 3.50px,#0020ff 5.50px,#0029ff 7.58px,#004dff 15.15px,#006cff 22.73px,#008bff 30.30px,#00a8ff 37.88px,#00beff 45.45px,#00d2ff 53.03px,#00e4ff 60.60px,#00f4ff 68.17px,#03fffc 75.75px,#16ffe9 83.33px,#27ffd8 90.90px,#33ffcc 98.48px,#37ffc8 106.05px,#2effd1 113.63px,#1fffe0 121.20px,#0cfff3 128.78px,#00fcff 136.35px,#00ecff 143.93px,#00dbff 151.50px,#00c8ff 159.08px,#00b3ff 166.65px,#009cff 174.22px,#007bff 181.80px,#005dff 189.38px,#003eff 196.95px,#0018ff 204.53px,#0016ff 205.10px,#000cff 207.10px,#0000cf 208.35px,#0000a5 209.60px,#00008e 210.85px,#000087 212.10px)"></div>
<div style="position:absolute;left:734.8px;top:581.5px;width:212.1px;height:2.6px;background:linear-gradient(90deg,#00008d 0.00px,#000095 0.88px,#0000ad 1.75px,#0000d7 2.62px,#0015ff 3.50px,#001fff 5.50px,#0028ff 7.58px,#004cff 15.15px,#006bff 22.73px,#0089ff 30.30px,#00a6ff 37.88px,#00bcff 45.45px,#00cfff 53.03px,#00e1ff 60.60px,#00f2ff 68.17px,#01fffe 75.75px,#11ffee 83.33px,#22ffdd 90.90px,#2fffd0 98.48px,#33ffcc 106.05px,#29ffd6 113.63px,#1affe5 121.20px,#08fff7 128.78px,#00f9ff 136.35px,#00eaff 143.93px,#00d9ff 151.50px,#00c6ff 159.08px,#00b1ff 166.65px,#009aff 174.22px,#007aff 181.80px,#005cff 189.38px,#003cff 196.95px,#0017ff 204.53px,#0015ff 205.10px,#000bff 207.10px,#0000ce 208.35px,#0000a5 209.60px,#00008e 210.85px,#000086 212.10px)"></div>
<div style="position:absolute;left:734.8px;top:583.5px;width:212.1px;height:2.6px;background:linear-gradient(90deg,#00008d 0.00px,#000095 0.88px,#0000ad 1.75px,#0000d6 2.62px,#0014ff 3.50px,#001dff 5.50px,#0027ff 7.58px,#004bff 15.15px,#0069ff 22.73px,#0087ff 30.30px,#00a4ff 37.88px,#00baff 45.45px,#00cdff 53.03px,#00dfff 60.60px,#00efff 68.17px,#00fdff 75.75px,#0dfff2 83.33px,#1dffe2 90.90px,#2affd5 98.48px,#2effd1 106.05px,#24ffdb 113.63px,#16ffe9 121.20px,#04fffb 128.78px,#00f7ff 136.35px,#00e7ff 143.93px,#00d7ff 151.50px,#00c4ff 159.08px,#00afff 166.65px,#0098ff 174.22px,#0078ff 181.80px,#005bff 189.38px,#003bff 196.95px,#0016ff 204.53px,#0013ff 205.10px,#000aff 207.10px,#0000cd 208.35px,#0000a5 209.60px,#00008e 210.85px,#000086 212.10px)"></div>
<div style="position:absolute;left:734.8px;top:585.5px;width:212.1px;height:2.6px;background:linear-gradient(90deg,#00008d 0.00px,#000095 0.88px,#0000ad 1.75px,#0000d6 2.62px,#0013ff 3.50px,#001cff 5.50px,#0026ff 7.58px,#004aff 15.15px,#0068ff 22.73px,#0085ff 30.30px,#00a2ff 37.88px,#00b8ff 45.45px,#00cbff 53.03px,#00ddff 60.60px,#00edff 68.17px,#00fbff 75.75px,#08fff7 83.33px,#19ffe6 90.90px,#25ffda 98.48px,#29ffd6 106.05px,#20ffdf 113.63px,#11ffee 121.20px,#02fffd 128.78px,#00f4ff 136.35px,#00e5ff 143.93px,#00d4ff 151.50px,#00c2ff 159.08px,#00aeff 166.65px,#0095ff 174.22px,#0076ff 181.80px,#0059ff 189.38px,#003aff 196.95px,#0015ff 204.53px,#0012ff 205.10px,#0009ff 207.10px,#0000cd 208.35px,#0000a4 209.60px,#00008e 210.85px,#000086 212.10px)"></div>
<div style="position:absolute;left:734.8px;top:587.5px;width:212.1px;height:2.6px;background:linear-gradient(90deg,#00008c 0.00px,#000094 0.88px,#0000ac 1.75px,#0000d5 2.62px,#0012ff 3.50px,#001bff 5.50px,#0025ff 7.58px,#0048ff 15.15px,#0066ff 22.73px,#0083ff 30.30px,#00a1ff 37.88px,#00b6ff 45.45px,#00c9ff 53.03px,#00daff 60.60px,#00eaff 68.17px,#00f8ff 75.75px,#04fffb 83.33px,#14ffeb 90.90px,#20ffdf 98.48px,#24ffdb 106.05px,#1bffe4 113.63px,#0dfff2 121.20px,#00feff 128.78px,#00f2ff 136.35px,#00e3ff 143.93px,#00d2ff 151.50px,#00c0ff 159.08px,#00acff 166.65px,#0093ff 174.22px,#0075ff 181.80px,#0058ff 189.38px,#0039ff 196.95px,#0014ff 204.53px,#0011ff 205.10px,#0008ff 207.10px,#0000cc 208.35px,#0000a4 209.60px,#00008e 210.85px,#000086 212.10px)"></div>
<div style="position:absolute;left:734.8px;top:589.5px;width:212.1px;height:2.6px;background:linear-gradient(90deg,#00008c 0.00px,#000094 0.88px,#0000ac 1.75px,#0000d4 2.62px,#0011ff 3.50px,#001aff 5.50px,#0023ff 7.58px,#0047ff 15.15px,#0065ff 22.73px,#0081ff 30.30px,#009fff 37.88px,#00b4ff 45.45px,#00c7ff 53.03px,#00d8ff 60.60px,#00e8ff 68.17px,#00f6ff 75.75px,#02fffd 83.33px,#10ffef 90.90px,#1cffe3 98.48px,#20ffdf 106.05px,#16ffe9 113.63px,#08fff7 121.20px,#00fcff 128.78px,#00efff 136.35px,#00e0ff 143.93px,#00d0ff 151.50px,#00beff 159.08px,#00aaff 166.65px,#0091ff 174.22px,#0073ff 181.80px,#0056ff 189.38px,#0038ff 196.95px,#0013ff 204.53px,#0010ff 205.10px,#0007ff 207.10px,#0000cb 208.35px,#0000a4 209.60px,#00008d 210.85px,#000086 212.10px)"></div>
<div style="position:absolute;left:734.8px;top:591.5px;width:212.1px;height:2.6px;background:linear-gradient(90deg,#00008c 0.00px,#000094 0.88px,#0000ac 1.75px,#0000d4 2.62px,#0010ff 3.50px,#0019ff 5.50px,#0022ff 7.58px,#0046ff 15.15px,#0063ff 22.73px,#007fff 30.30px,#009dff 37.88px,#00b2ff 45.45px,#00c5ff 53.03px,#00d6ff 60.60px,#00e5ff 68.17px,#00f3ff 75.75px,#00ffff 83.33px,#0bfff4 90.90px,#17ffe8 98.48px,#1bffe4 106.05px,#12ffed 113.63px,#04fffb 121.20px,#00f9ff 128.78px,#00edff 136.35px,#00deff 143.93px,#00ceff 151.50px,#00bcff 159.08px,#00a8ff 166.65px,#008fff 174.22px,#0072ff 181.80px,#0055ff 189.38px,#0037ff 196.95px,#0012ff 204.53px,#000fff 205.10px,#0006ff 207.10px,#0000cb 208.35px,#0000a4 209.60px,#00008d 210.85px,#000086 212.10px)"></div>
<div style="position:absolute;left:734.8px;top:593.5px;width:212.1px;height:2.6px;background:linear-gradient(90deg,#00008c 0.00px,#000094 0.88px,#0000ab 1.75px,#0000d3 2.62px,#000fff 3.50px,#0018ff 5.50px,#0021ff 7.58px,#0045ff 15.15px,#0062ff 22.73px,#007dff 30.30px,#009bff 37.88px,#00b0ff 45.45px,#00c3ff 53.03px,#00d4ff 60.60px,#00e3ff 68.17px,#00f1ff 75.75px,#00fcff 83.33px,#07fff8 90.90px,#13ffec 98.48px,#16ffe9 106.05px,#0dfff2 113.63px,#02fffd 121.20px,#00f7ff 128.78px,#00eaff 136.35px,#00dcff 143.93px,#00ccff 151.50px,#00baff 159.08px,#00a6ff 166.65px,#008dff 174.22px,#0070ff 181.80px,#0054ff 189.38px,#0035ff 196.95px,#0010ff 204.53px,#000eff 205.10px,#0005ff 207.10px,#0000ca 208.35px,#0000a3 209.60px,#00008d 210.85px,#000086 212.10px)"></div>
<div style="position:absolute;left:734.8px;top:595.5px;width:212.1px;height:2.6px;background:linear-gradient(90deg,#00008c 0.00px,#000094 0.88px,#0000ab 1.75px,#0000d2 2.62px,#000eff 3.50px,#0017ff 5.50px,#0020ff 7.58px,#0043ff 15.15px,#0060ff 22.73px,#007cff 30.30px,#0099ff 37.88px,#00aeff 45.45px,#00c1ff 53.03px,#00d2ff 60.60px,#00e1ff 68.17px,#00eeff 75.75px,#00faff 83.33px,#04fffb 90.90px,#0efff1 98.48px,#12ffed 106.05px,#09fff6 113.63px,#00ffff 121.20px,#00f4ff 128.78px,#00e8ff 136.35px,#00daff 143.93px,#00caff 151.50px,#00b8ff 159.08px,#00a5ff 166.65px,#008bff 174.22px,#006eff 181.80px,#0052ff 189.38px,#0033ff 196.95px,#000fff 204.53px,#000dff 205.10px,#0004ff 207.10px,#0000c9 208.35px,#0000a3 209.60px,#00008d 210.85px,#000086 212.10px)"></div>
<div style="position:absolute;left:734.8px;top:597.5px;width:212.1px;height:2.6px;background:linear-gradient(90deg,#00008c 0.00px,#000094 0.88px,#0000aa 1.75px,#0000d2 2.62px,#000dff 3.50px,#0016ff 5.50px,#001fff 7.58px,#0042ff 15.15px,#005fff 22.73px,#007aff 30.30px,#0097ff 37.88px,#00adff 45.45px,#00bfff 53.03px,#00d0ff 60.60px,#00dfff 68.17px,#00ecff 75.75px,#00f7ff 83.33px,#01fffe 90.90px,#0afff5 98.48px,#0dfff2 106.05px,#05fffa 113.63px,#00fcff 121.20px,#00f2ff 128.78px,#00e6ff 136.35px,#00d7ff 143.93px,#00c8ff 151.50px,#00b6ff 159.08px,#00a3ff 166.65px,#0088ff 174.22px,#006dff 181.80px,#0051ff 189.38px,#0031ff 196.95px,#000eff 204.53px,#000cff 205.10px,#0003ff 207.10px,#0000c9 208.35px,#0000a3 209.60px,#00008d 210.85px,#000086 212.10px)"></div>
<div style="position:absolute;left:734.8px;top:599.5px;width:212.1px;height:2.6px;background:linear-gradient(90deg,#00008c 0.00px,#000093 0.88px,#0000aa 1.75px,#0000d1 2.62px,#000bff 3.50px,#0014ff 5.50px,#001eff 7.58px,#0041ff 15.15px,#005eff 22.73px,#0078ff 30.30px,#0095ff 37.88px,#00abff 45.45px,#00bdff 53.03px,#00ceff 60.60px,#00dcff 68.17px,#00e9ff 75.75px,#00f5ff 83.33px,#00feff 90.90px,#05fffa 98.48px,#09fff6 106.05px,#03fffc 113.63px,#00faff 121.20px,#00efff 128.78px,#00e3ff 136.35px,#00d5ff 143.93px,#00c6ff 151.50px,#00b4ff 159.08px,#00a1ff 166.65px,#0086ff 174.22px,#006bff 181.80px,#0050ff 189.38px,#0030ff 196.95px,#000dff 204.53px,#000bff 205.10px,#0002ff 207.10px,#0000c8 208.35px,#0000a2 209.60px,#00008d 210.85px,#000086 212.10px)"></div>
<div style="position:absolute;left:734.8px;top:601.5px;width:212.1px;height:2.6px;background:linear-gradient(90deg,#00008c 0.00px,#000093 0.88px,#0000aa 1.75px,#0000d0 2.62px,#000aff 3.50px,#0013ff 5.50px,#001dff 7.58px,#0040ff 15.15px,#005cff 22.73px,#0077ff 30.30px,#0093ff 37.88px,#00a9ff 45.45px,#00bbff 53.03px,#00ccff 60.60px,#00daff 68.17px,#00e7ff 75.75px,#00f2ff 83.33px,#00fcff 90.90px,#03fffc 98.48px,#05fffa 106.05px,#00ffff 113.63px,#00f7ff 121.20px,#00edff 128.78px,#00e1ff 136.35px,#00d3ff 143.93px,#00c4ff 151.50px,#00b3ff 159.08px,#00a0ff 166.65px,#0084ff 174.22px,#006aff 181.80px,#004fff 189.38px,#002eff 196.95px,#000cff 204.53px,#0009ff 205.10px,#0000ff 207.10px,#0000c7 208.35px,#0000a2 209.60px,#00008d 210.85px,#000086 212.10px)"></div>
<div style="position:absolute;left:734.8px;top:603.5px;width:212.1px;height:2.6px;background:linear-gradient(90deg,#00008c 0.00px,#000093 0.88px,#0000a9 1.75px,#0000d0 2.62px,#0009ff 3.50px,#0012ff 5.50px,#001bff 7.58px,#003fff 15.15px,#005bff 22.73px,#0075ff 30.30px,#0091ff 37.88px,#00a8ff 45.45px,#00b9ff 53.03px,#00caff 60.60px,#00d8ff 68.17px,#00e5ff 75.75px,#00f0ff 83.33px,#00f9ff 90.90px,#01fffe 98.48px,#03fffc 106.05px,#00fdff 113.63px,#00f5ff 121.20px,#00ebff 128.78px,#00dfff 136.35px,#00d1ff 143.93px,#00c2ff 151.50px,#00b1ff 159.08px,#009eff 166.65px,#0082ff 174.22px,#0069ff 181.80px,#004dff 189.38px,#002dff 196.95px,#000bff 204.53px,#0008ff 205.10px,#0000fe 207.10px,#0000c7 208.35px,#0000a2 209.60px,#00008d 210.85px,#000086 212.10px)"></div>
<div style="position:absolute;left:734.8px;top:605.5px;width:212.1px;height:2.6px;background:linear-gradient(90deg,#00008b 0.00px,#000093 0.88px,#0000a9 1.75px,#0000cf 2.62px,#0008ff 3.50px,#0011ff 5.50px,#001aff 7.58px,#003eff 15.15px,#0059ff 22.73px,#0074ff 30.30px,#008eff 37.88px,#00a6ff 45.45px,#00b8ff 53.03px,#00c8ff 60.60px,#00d6ff 68.17px,#00e3ff 75.75px,#00eeff 83.33px,#00f7ff 90.90px,#00fdff 98.48px,#00ffff 106.05px,#00faff 113.63px,#00f3ff 121.20px,#00e9ff 128.78px,#00ddff 136.35px,#00cfff 143.93px,#00c0ff 151.50px,#00afff 159.08px,#009dff 166.65px,#0080ff 174.22px,#0067ff 181.80px,#004cff 189.38px,#002bff 196.95px,#000aff 204.53px,#0007ff 205.10px,#0000fd 207.10px,#0000c6 208.35px,#0000a1 209.60px,#00008c 210.85px,#000086 212.10px)"></div>
<div style="position:absolute;left:734.8px;top:607.5px;width:212.1px;height:2.6px;background:linear-gradient(90deg,#00008b 0.00px,#000093 0.88px,#0000a9 1.75px,#0000ce 2.62px,#0007ff 3.50px,#0010ff 5.50px,#0019ff 7.58px,#003cff 15.15px,#0058ff 22.73px,#0072ff 30.30px,#008cff 37.88px,#00a4ff 45.45px,#00b6ff 53.03px,#00c6ff 60.60px,#00d4ff 68.17px,#00e0ff 75.75px,#00ebff 83.33px,#00f4ff 90.90px,#00fbff 98.48px,#00fdff 106.05px,#00f8ff 113.63px,#00f0ff 121.20px,#00e6ff 128.78px,#00dbff 136.35px,#00cdff 143.93px,#00beff 151.50px,#00adff 159.08px,#009aff 166.65px,#007fff 174.22px,#0066ff 181.80px,#004bff 189.38px,#002aff 196.95px,#0009ff 204.53px,#0006ff 205.10px,#0000fc 207.10px,#0000c6 208.35px,#0000a1 209.60px,#00008c 210.85px,#000086 212.10px)"></div>
<div style="position:absolute;left:734.8px;top:609.5px;width:212.1px;height:2.6px;background:linear-gradient(90deg,#00008b 0.00px,#000093 0.88px,#0000a8 1.75px,#0000ce 2.62px,#0006ff 3.50px,#000fff 5.50px,#0018ff 7.58px,#003bff 15.15px,#0057ff 22.73px,#0071ff 30.30px,#008aff 37.88px,#00a3ff 45.45px,#00b4ff 53.03px,#00c4ff 60.60px,#00d2ff 68.17px,#00deff 75.75px,#00e9ff 83.33px,#00f2ff 90.90px,#00f9ff 98.48px,#00fbff 106.05px,#00f6ff 113.63px,#00eeff 121.20px,#00e4ff 128.78px,#00d8ff 136.35px,#00cbff 143.93px,#00bcff 151.50px,#00acff 159.08px,#0098ff 166.65px,#007dff 174.22px,#0064ff 181.80px,#004aff 189.38px,#0029ff 196.95px,#0007ff 204.53px,#0005ff 205.10px,#0000fb 207.10px,#0000c5 208.35px,#0000a1 209.60px,#00008c 210.85px,#000086 212.10px)"></div>
<div style="position:absolute;left:734.8px;top:611.5px;width:212.1px;height:2.1px;background:linear-gradient(90deg,#00008b 0.00px,#000092 0.88px,#0000a8 1.75px,#0000cd 2.62px,#0005ff 3.50px,#000eff 5.50px,#0017ff 7.58px,#003aff 15.15px,#0056ff 22.73px,#006fff 30.30px,#0089ff 37.88px,#00a1ff 45.45px,#00b2ff 53.03px,#00c2ff 60.60px,#00d0ff 68.17px,#00dcff 75.75px,#00e7ff 83.33px,#00f0ff 90.90px,#00f6ff 98.48px,#00f8ff 106.05px,#00f4ff 113.63px,#00ecff 121.20px,#00e2ff 128.78px,#00d7ff 136.35px,#00c9ff 143.93px,#00bbff 151.50px,#00aaff 159.08px,#0096ff 166.65px,#007cff 174.22px,#0063ff 181.80px,#0049ff 189.38px,#0028ff 196.95px,#0006ff 204.53px,#0004ff 205.10px,#0000fa 207.10px,#0000c4 208.35px,#0000a0 209.60px,#00008c 210.85px,#000086 212.10px)"></div>
<svg width="1049" height="669" viewBox="0 0 1049 669"><defs><linearGradient id="jet" x1="0" y1="0" x2="0" y2="1"><stop offset="0.000" stop-color="#800000"/><stop offset="0.125" stop-color="#ff0000"/><stop offset="0.250" stop-color="#ff8000"/><stop offset="0.375" stop-color="#ffff00"/><stop offset="0.500" stop-color="#80ff80"/><stop offset="0.625" stop-color="#00ffff"/><stop offset="0.750" stop-color="#0080ff"/><stop offset="0.875" stop-color="#0000ff"/><stop offset="1.000" stop-color="#000080"/></linearGradient><linearGradient id="afm" x1="0" y1="0" x2="0" y2="1"><stop offset="0" stop-color="#ffffff"/><stop offset="0.05" stop-color="#fde6cc"/><stop offset="0.15" stop-color="#f9b468"/><stop offset="0.25" stop-color="#f69434"/><stop offset="0.45" stop-color="#f08018"/><stop offset="0.6" stop-color="#d86a10"/><stop offset="0.75" stop-color="#8a4008"/><stop offset="0.9" stop-color="#2e1200"/><stop offset="1" stop-color="#000000"/></linearGradient><filter id="b1" x="-20%" y="-20%" width="140%" height="140%"><feGaussianBlur stdDeviation="1"/></filter><filter id="b2" x="-20%" y="-20%" width="140%" height="140%"><feGaussianBlur stdDeviation="2"/></filter><filter id="b3" x="-30%" y="-30%" width="160%" height="160%"><feGaussianBlur stdDeviation="3.5"/></filter><clipPath id="c1"><rect x="184" y="39.5" width="124" height="123"/></clipPath><clipPath id="c2"><rect x="511.5" y="41.3" width="123.5" height="123.5"/></clipPath><clipPath id="c3"><rect x="840.4" y="44" width="124.3" height="123"/></clipPath><clipPath id="o1"><rect x="56.3" y="39.5" width="123.7" height="123"/></clipPath><clipPath id="o2"><rect x="384.2" y="40.4" width="123.5" height="123.2"/></clipPath><clipPath id="o3"><rect x="713" y="42" width="123.8" height="123.4"/></clipPath><filter id="afm1" filterUnits="userSpaceOnUse" x="184" y="39.5" width="124" height="123" color-interpolation-filters="sRGB"><feTurbulence type="fractalNoise" baseFrequency="0.09" numOctaves="3" seed="7" result="t"/><feColorMatrix in="t" type="matrix" values="1 0 0 0 0 1 0 0 0 0 1 0 0 0 0 0 0 0 0 1" result="n"/><feComposite in="SourceGraphic" in2="n" operator="arithmetic" k1="0" k2="1" k3="0.52" k4="-0.26" result="c"/><feComponentTransfer in="c"><feFuncR type="table" tableValues="0.000 0.078 0.157 0.235 0.379 0.523 0.667 0.781 0.895 0.950 0.965 0.980 0.983 0.986 0.989 0.990 0.992 0.994 0.997 1.000 1.000"/><feFuncG type="table" tableValues="0.000 0.029 0.058 0.086 0.149 0.212 0.275 0.348 0.422 0.469 0.499 0.529 0.585 0.641 0.699 0.761 0.822 0.878 0.929 0.980 1.000"/><feFuncB type="table" tableValues="0.000 0.000 0.000 0.000 0.000 0.000 0.000 0.008 0.016 0.026 0.037 0.047 0.129 0.210 0.314 0.453 0.592 0.715 0.828 0.941 1.000"/><feFuncA type="linear" slope="0" intercept="1"/></feComponentTransfer></filter><filter id="afm2" filterUnits="userSpaceOnUse" x="511.5" y="41.3" width="123.5" height="123.5" color-interpolation-filters="sRGB"><feTurbulence type="fractalNoise" baseFrequency="0.012 0.16" numOctaves="2" seed="3" result="t"/><feColorMatrix in="t" type="matrix" values="1 0 0 0 0 1 0 0 0 0 1 0 0 0 0 0 0 0 0 1" result="n"/><feComposite in="SourceGraphic" in2="n" operator="arithmetic" k1="0" k2="1" k3="0.45" k4="-0.225" result="c"/><feComponentTransfer in="c"><feFuncR type="table" tableValues="0.000 0.078 0.157 0.235 0.379 0.523 0.667 0.781 0.895 0.950 0.965 0.980 0.983 0.986 0.989 0.990 0.992 0.994 0.997 1.000 1.000"/><feFuncG type="table" tableValues="0.000 0.029 0.058 0.086 0.149 0.212 0.275 0.348 0.422 0.469 0.499 0.529 0.585 0.641 0.699 0.761 0.822 0.878 0.929 0.980 1.000"/><feFuncB type="table" tableValues="0.000 0.000 0.000 0.000 0.000 0.000 0.000 0.008 0.016 0.026 0.037 0.047 0.129 0.210 0.314 0.453 0.592 0.715 0.828 0.941 1.000"/><feFuncA type="linear" slope="0" intercept="1"/></feComponentTransfer></filter><filter id="afm3" filterUnits="userSpaceOnUse" x="840.4" y="44" width="124.3" height="123" color-interpolation-filters="sRGB"><feTurbulence type="fractalNoise" baseFrequency="0.22 0.004" numOctaves="2" seed="5" result="t"/><feColorMatrix in="t" type="matrix" values="1 0 0 0 0 1 0 0 0 0 1 0 0 0 0 0 0 0 0 1" result="n"/><feComposite in="SourceGraphic" in2="n" operator="arithmetic" k1="0" k2="1" k3="0.45" k4="-0.225" result="c"/><feComponentTransfer in="c"><feFuncR type="table" tableValues="0.000 0.078 0.157 0.235 0.386 0.536 0.686 0.784 0.882 0.935 0.958 0.980 0.985 0.989 0.993 0.996 0.999 1.000 1.000 1.000 1.000"/><feFuncG type="table" tableValues="0.000 0.029 0.058 0.086 0.162 0.238 0.314 0.379 0.444 0.493 0.531 0.569 0.629 0.689 0.750 0.810 0.870 0.916 0.952 0.988 1.000"/><feFuncB type="table" tableValues="0.000 0.000 0.000 0.000 0.000 0.000 0.000 0.000 0.000 0.005 0.012 0.020 0.087 0.155 0.252 0.392 0.532 0.670 0.805 0.941 1.000"/><feFuncA type="linear" slope="0" intercept="1"/></feComponentTransfer></filter></defs>
<text x="15.8" y="25.3" font-family="Liberation Sans" font-weight="bold" font-size="21.8" fill="#000" textLength="26.0" lengthAdjust="spacingAndGlyphs">(a)</text>
<text x="15.5" y="192.0" font-family="Liberation Sans" font-weight="bold" font-size="21.8" fill="#000" textLength="29.3" lengthAdjust="spacingAndGlyphs">(b)</text>
<text x="17.0" y="415.5" font-family="Liberation Sans" font-weight="bold" font-size="21.8" fill="#000" textLength="25.1" lengthAdjust="spacingAndGlyphs">(c)</text>
<text x="61.8" y="33.9" font-family="Liberation Serif" font-weight="bold" font-size="19.5" fill="#1f6eb4" text-anchor="start" textLength="106.8" lengthAdjust="spacingAndGlyphs" >Crystallized</text>
<text x="384.5" y="32.3" font-family="Liberation Serif" font-weight="bold" font-size="19.5" fill="#e0001a" text-anchor="start" textLength="125.8" lengthAdjust="spacingAndGlyphs" >M-amorphous</text>
<text x="723.6" y="38.1" font-family="Liberation Serif" font-weight="bold" font-size="20.0" fill="#111" text-anchor="start" textLength="70.2" lengthAdjust="spacingAndGlyphs" >Ablated</text>
<g clip-path="url(#o1)">
<rect x="56.3" y="39.5" width="123.7" height="123" fill="#d3ba8f"/>
<rect x="150" y="39.5" width="30" height="123" fill="#cbb189" filter="url(#b3)" opacity="0.7"/>
<ellipse cx="115.9" cy="98.4" rx="41.7" ry="46.3" fill="#f6e6bb" filter="url(#b1)"/>
</g>
<g clip-path="url(#o2)">
<rect x="384.2" y="40.4" width="123.5" height="123.2" fill="#c9af88"/>
<ellipse cx="440.4" cy="101" rx="36" ry="35.2" fill="#b4a08c" stroke="#e8d9a4" stroke-width="9" filter="url(#b1)"/>
<path d="M 487 70 Q 501 100 488 131" fill="none" stroke="#e4d4a2" stroke-width="7" filter="url(#b1)"/>
<path d="M 430.5 113 L 430.5 98 A 12.5 13 0 0 1 455.5 98 L 454 118" fill="none" stroke="#e3d3a4" stroke-width="7.5" filter="url(#b1)"/>
<ellipse cx="445" cy="104" rx="2.5" ry="3" fill="#c8b49c" filter="url(#b1)"/>
</g>
<g clip-path="url(#o3)">
<rect x="713" y="42" width="123.8" height="123.4" fill="#d5c7a2"/>
<ellipse cx="771" cy="101" rx="52" ry="54" fill="#ebe3c6" filter="url(#b3)"/>
<path d="M 730 62 Q 770 38 815 62 L 808 72 Q 770 55 738 72 Z" fill="#f6f1de" filter="url(#b2)"/>
<path d="M 728 128 Q 770 165 814 132 L 806 126 Q 770 150 736 124 Z" fill="#f2ecd4" filter="url(#b2)"/>
<ellipse cx="770.5" cy="103.2" rx="43" ry="42" fill="#f1eab8" filter="url(#b1)"/>
<ellipse cx="771" cy="103" rx="39.3" ry="38.6" fill="#9e9684" stroke="#8a7a9e" stroke-width="2" filter="url(#b1)"/>
<ellipse cx="772" cy="98" rx="24" ry="22" fill="#a49c8a" filter="url(#b3)"/>
<circle cx="746.4" cy="86.5" r="1.2" fill="#3c3640"/>
<circle cx="792.7" cy="84.3" r="1.2" fill="#3c3640"/>
<circle cx="821.4" cy="94" r="1.2" fill="#3c3640"/>
<circle cx="716.7" cy="91.7" r="1.2" fill="#3c3640"/>
<circle cx="721.9" cy="103.2" r="1.2" fill="#3c3640"/>
<circle cx="771.4" cy="118" r="1.2" fill="#3c3640"/>
<circle cx="776" cy="131.8" r="1.2" fill="#3c3640"/>
<circle cx="822.4" cy="116.6" r="1.2" fill="#3c3640"/>
<circle cx="799" cy="109.7" r="1.2" fill="#3c3640"/>
<circle cx="787" cy="138.3" r="1.2" fill="#3c3640"/>
<path d="M 776 94 Q 780 88 786 92 Q 790 96 787 102" fill="none" stroke="#4a4450" stroke-width="2.2"/>
<ellipse cx="784" cy="106" rx="3" ry="4" fill="#6a665c" filter="url(#b1)"/>
</g>
<g clip-path="url(#c1)"><g filter="url(#afm1)">
<rect x="184" y="39.5" width="124" height="123" fill="#878787"/>
<ellipse cx="230" cy="80" rx="24" ry="21" fill="#5c5c5c" filter="url(#b3)"/>
<ellipse cx="230" cy="128" rx="24" ry="13" fill="#5e5e5e" filter="url(#b3)"/>
<ellipse cx="212" cy="118" rx="9" ry="8" fill="#575757" filter="url(#b2)"/>
<ellipse cx="246" cy="96" rx="8" ry="7" fill="#525252" filter="url(#b2)"/>
<ellipse cx="229" cy="74" rx="9" ry="8" fill="#1a1a1a" filter="url(#b2)"/>
<ellipse cx="200" cy="46" rx="14" ry="6" fill="#666666" filter="url(#b2)"/>
<ellipse cx="194" cy="88" rx="10" ry="13" fill="#cccccc" filter="url(#b3)"/>
<ellipse cx="300" cy="84" rx="8" ry="13" fill="#cccccc" filter="url(#b3)"/>
<ellipse cx="281" cy="140" rx="17" ry="16" fill="#c2c2c2" filter="url(#b3)"/>
<ellipse cx="255" cy="45" rx="10" ry="5" fill="#6b6b6b" filter="url(#b3)"/>
<ellipse cx="300" cy="48" rx="8" ry="8" fill="#6b6b6b" filter="url(#b3)"/>
<ellipse cx="268" cy="60" rx="12" ry="7" fill="#999999" filter="url(#b3)"/>
<ellipse cx="302" cy="128" rx="8" ry="10" fill="#b8b8b8" filter="url(#b3)"/>
<ellipse cx="190" cy="135" rx="8" ry="12" fill="#a8a8a8" filter="url(#b3)"/>
<ellipse cx="258" cy="110" rx="10" ry="8" fill="#9e9e9e" filter="url(#b3)"/>
<circle cx="205.6" cy="51" r="4.5" fill="#fff" filter="url(#b1)"/>
<circle cx="217.5" cy="46" r="4.5" fill="#fff" filter="url(#b1)"/>
<circle cx="222.5" cy="43" r="3.5" fill="#fff" filter="url(#b1)"/>
<circle cx="281.6" cy="53.7" r="2" fill="#fff" filter="url(#b1)"/>
<circle cx="195.8" cy="63" r="2" fill="#fff" filter="url(#b1)"/>
<circle cx="273" cy="149" r="2.5" fill="#fff" filter="url(#b1)"/>
</g>
<rect x="184" y="159.7" width="64" height="2.8" fill="#8a420c" opacity="0.8"/>
</g>
<g clip-path="url(#c2)"><g filter="url(#afm2)">
<rect x="511.5" y="41.3" width="123.5" height="123.5" fill="#8c8c8c"/>
<g filter="url(#b2)">
<rect x="505" y="40" width="140" height="13" fill="#b2b2b2"/>
<rect x="505" y="74" width="18" height="15" fill="#0f0f0f"/>
<rect x="505" y="100" width="15" height="11" fill="#4c4c4c"/>
<rect x="598" y="63" width="45" height="13" fill="#242424"/>
<rect x="615" y="64" width="25" height="11" fill="#0f0f0f"/>
<rect x="614" y="86" width="25" height="10" fill="#4c4c4c"/>
<rect x="505" y="126" width="140" height="5" fill="#737373"/>
<rect x="505" y="139" width="140" height="5" fill="#a3a3a3"/>
</g>
<g filter="url(#b1)">
<ellipse cx="568" cy="104" rx="35" ry="30" fill="#3d3d3d"/>
<polygon points="537.0,78.0 549.9,74.4 566.6,76.2 566.6,81.8 553.6,83.6 544.4,87.3 538.8,92.9 537.0,85.5" fill="#0a0a0a" />
<polygon points="590.7,83.6 600.0,86.0 605.0,100.0 604.0,118.8 595.0,121.0 590.0,105.0" fill="#141414" />
<polygon points="538.0,93.0 546.0,92.0 548.0,110.0 548.0,124.0 540.0,124.0 537.0,110.0" fill="#1f1f1f" />
<polygon points="552.0,104.0 576.0,104.0 578.0,115.0 552.0,115.0" fill="#6b6b6b" />
<polygon points="538.8,61.4 553.6,57.7 564.8,65.1 566.6,74.4 555.5,73.4 542.5,77.1 535.1,79.9" fill="#ffffff" />
<polygon points="566.6,65.1 581.4,63.2 594.4,68.8 603.7,78.1 600.0,85.5 585.1,83.6 572.2,81.8 566.6,74.4" fill="#ffffff" />
<polygon points="531.4,80.9 524.0,91.0 520.3,102.2 522.1,113.3 529.5,122.6 538.8,120.7 535.1,111.4 532.3,102.2 535.1,91.0 540.7,82.7" fill="#ffffff" />
<polygon points="531.4,124.4 538.8,128.1 551.8,131.8 549.9,135.5 537.0,133.7 531.4,128.0" fill="#ffffff" />
<polygon points="559.2,137.4 572.2,133.7 583.3,133.7 585.1,137.4 581.4,143.0 566.6,143.0 559.2,141.1" fill="#ffffff" />
<polygon points="603.7,83.6 611.1,92.9 613.9,104.0 611.1,115.1 603.7,124.4 598.1,128.1 600.0,122.6 605.5,113.3 607.4,102.2 605.5,91.0 601.8,85.5" fill="#e6e6e6" />
<polygon points="548.1,85.5 559.2,81.8 568.5,85.5 574.0,94.8 568.5,102.2 557.3,104.0 548.1,100.3 546.2,92.9" fill="#ffffff" />
<polygon points="557.3,115.1 566.6,113.3 579.6,115.1 585.1,120.7 581.4,126.3 566.6,128.1 559.2,122.6" fill="#f2f2f2" />
<polygon points="577.7,87.3 588.8,89.2 590.7,96.6 585.1,100.3 579.6,96.6" fill="#d9d9d9" />
</g>
</g></g>
<g clip-path="url(#c3)"><g filter="url(#afm3)">
<rect x="840.4" y="44" width="124.3" height="123" fill="#8f8f8f"/>
<rect x="881" y="44" width="1.6" height="123" fill="#4c4c4c"/>
<rect x="911" y="44" width="1.6" height="123" fill="#474747"/>
<rect x="914.5" y="44" width="1.2" height="123" fill="#575757"/>
<rect x="934.7" y="44" width="1.8" height="123" fill="#383838"/>
<rect x="937.6" y="44" width="1.2" height="123" fill="#525252"/>
<rect x="943.5" y="44" width="1.2" height="123" fill="#5c5c5c"/>
<rect x="946.5" y="44" width="1.2" height="123" fill="#575757"/>
<g filter="url(#b1)">
<path d="M 854 103 C 858 80, 872 58, 896 54 C 920 56, 936 80, 947.5 104 C 938 128, 922 148, 898 149 C 872 147, 858 128, 854 103 Z" fill="#5c5c5c" stroke="#e6e6e6" stroke-width="3"/>
<ellipse cx="880" cy="71" rx="4" ry="6" fill="#1f1f1f"/>
<ellipse cx="895" cy="99" rx="6" ry="8" fill="#2e2e2e"/>
<ellipse cx="906" cy="113" rx="6" ry="9" fill="#2e2e2e"/>
<polygon points="889,86 899,84 899,96 890,97" fill="#bfbfbf"/>
<ellipse cx="883.5" cy="93" rx="6" ry="16" fill="#fff"/>
<polygon points="899,73 907,70 913,79 913.5,99 906,102 899.5,95" fill="#fff"/>
<ellipse cx="897" cy="58" rx="14" ry="5" fill="#f7f7f7"/>
<ellipse cx="902" cy="141" rx="16" ry="7" fill="#f7f7f7"/>
<ellipse cx="937" cy="124" rx="4" ry="8" fill="#cccccc"/>
</g>
</g></g>
<rect x="184" y="156.7" width="63.5" height="3" fill="#fff"/>
<rect x="511.3" y="159.7" width="63.7" height="2.2" fill="#fff"/>
<rect x="840.3" y="162.3" width="64.7" height="2.4" fill="#fff"/>
<text x="195.6" y="153.0" font-family="Liberation Serif" font-size="14" fill="#fff" stroke="#fff" stroke-width="0.4" textLength="37.6" lengthAdjust="spacingAndGlyphs">10 µm</text>
<text x="523.6" y="154.6" font-family="Liberation Serif" font-size="14" fill="#fff" stroke="#fff" stroke-width="0.4" textLength="36.8" lengthAdjust="spacingAndGlyphs">10 µm</text>
<text x="851.6" y="155.6" font-family="Liberation Serif" font-size="14" fill="#fff" stroke="#fff" stroke-width="0.4" textLength="37.6" lengthAdjust="spacingAndGlyphs">10 µm</text>
<line x1="194.8" y1="107" x2="289.5" y2="107" stroke="#12a4ec" stroke-width="2.2" stroke-dasharray="2.2 2.2"/>
<line x1="519.8" y1="101.1" x2="614.5" y2="101.1" stroke="#12a4ec" stroke-width="2.2" stroke-dasharray="2.2 2.2"/>
<line x1="852.8" y1="104.1" x2="949.5" y2="104.1" stroke="#12a4ec" stroke-width="2.2" stroke-dasharray="2.2 2.2"/>
<rect x="58" y="155.6" width="66" height="3" fill="#ee0000"/>
<rect x="385.7" y="158.2" width="65.6" height="3" fill="#ee0000"/>
<rect x="714.8" y="160" width="65.7" height="3" fill="#ee0000"/>
<text x="73.0" y="151.0" font-family="Liberation Serif" font-weight="bold" font-size="13.0" fill="#d8001a" text-anchor="start" textLength="37.0" lengthAdjust="spacingAndGlyphs" >10 µm</text>
<text x="404.0" y="154.4" font-family="Liberation Serif" font-weight="bold" font-size="13.0" fill="#d8001a" text-anchor="start" textLength="37.4" lengthAdjust="spacingAndGlyphs" >10 µm</text>
<text x="732.8" y="154.7" font-family="Liberation Serif" font-weight="bold" font-size="13.0" fill="#d8001a" text-anchor="start" textLength="37.2" lengthAdjust="spacingAndGlyphs" >10 µm</text>
<rect x="312" y="40.5" width="8.5" height="123.8" fill="url(#afm)"/>
<rect x="640.2" y="40.8" width="8.8" height="122.4" fill="url(#afm)"/>
<rect x="968.2" y="44.1" width="8.8" height="122.3" fill="url(#afm)"/>
<text x="330.0" y="46.7" font-family="Liberation Serif" font-weight="bold" font-size="15.5" fill="#000" text-anchor="start" textLength="45.4" lengthAdjust="spacingAndGlyphs" >3.0 nm</text>
<text x="330.0" y="111.0" font-family="Liberation Serif" font-weight="bold" font-size="15.5" fill="#000" text-anchor="start" textLength="18.5" lengthAdjust="spacingAndGlyphs" >0.0</text>
<text x="323.4" y="168.6" font-family="Liberation Serif" font-weight="bold" font-size="15.5" fill="#000" text-anchor="start" textLength="29.0" lengthAdjust="spacingAndGlyphs" >−2.5</text>
<text x="661.4" y="43.8" font-family="Liberation Serif" font-weight="bold" font-size="15.5" fill="#000" text-anchor="start" textLength="41.0" lengthAdjust="spacingAndGlyphs" >12 nm</text>
<text x="661.8" y="95.5" font-family="Liberation Serif" font-weight="bold" font-size="15.5" fill="#000" text-anchor="start" textLength="18.5" lengthAdjust="spacingAndGlyphs" >0.0</text>
<text x="653.0" y="169.5" font-family="Liberation Serif" font-weight="bold" font-size="15.5" fill="#000" text-anchor="start" textLength="36.3" lengthAdjust="spacingAndGlyphs" >−15.0</text>
<text x="987.0" y="46.4" font-family="Liberation Serif" font-weight="bold" font-size="15.5" fill="#000" text-anchor="start" textLength="53.6" lengthAdjust="spacingAndGlyphs" >40.0 nm</text>
<text x="987.0" y="108.3" font-family="Liberation Serif" font-weight="bold" font-size="15.5" fill="#000" text-anchor="start" textLength="18.5" lengthAdjust="spacingAndGlyphs" >0.0</text>
<text x="980.0" y="171.0" font-family="Liberation Serif" font-weight="bold" font-size="15.5" fill="#000" text-anchor="start" textLength="36.0" lengthAdjust="spacingAndGlyphs" >−35.0</text>
<rect x="69.4" y="179" width="241.1" height="196.8" fill="none" stroke="#555" stroke-width="1"/>
<line x1="69.4" y1="179" x2="69.4" y2="375.8" stroke="#555" stroke-width="1.5"/>
<line x1="69.4" y1="375.8" x2="310.5" y2="375.8" stroke="#555" stroke-width="1.5"/>
<line x1="71.4" y1="286.5" x2="309.5" y2="286.5" stroke="#aaa" stroke-width="1" stroke-dasharray="4 3"/>
<line x1="72.3" y1="375.8" x2="72.3" y2="379.3" stroke="#333" stroke-width="1.2"/>
<text x="72.3" y="394.2" font-family="Liberation Serif" font-weight="bold" font-size="15.5" fill="#000" text-anchor="middle" >0</text>
<line x1="92.2" y1="375.8" x2="92.2" y2="377.8" stroke="#333" stroke-width="1"/>
<line x1="112.0" y1="375.8" x2="112.0" y2="379.3" stroke="#333" stroke-width="1.2"/>
<text x="112.0" y="394.2" font-family="Liberation Serif" font-weight="bold" font-size="15.5" fill="#000" text-anchor="middle" >2</text>
<line x1="131.8" y1="375.8" x2="131.8" y2="377.8" stroke="#333" stroke-width="1"/>
<line x1="151.7" y1="375.8" x2="151.7" y2="379.3" stroke="#333" stroke-width="1.2"/>
<text x="151.7" y="394.2" font-family="Liberation Serif" font-weight="bold" font-size="15.5" fill="#000" text-anchor="middle" >4</text>
<line x1="171.6" y1="375.8" x2="171.6" y2="377.8" stroke="#333" stroke-width="1"/>
<line x1="191.4" y1="375.8" x2="191.4" y2="379.3" stroke="#333" stroke-width="1.2"/>
<text x="191.4" y="394.2" font-family="Liberation Serif" font-weight="bold" font-size="15.5" fill="#000" text-anchor="middle" >6</text>
<line x1="211.2" y1="375.8" x2="211.2" y2="377.8" stroke="#333" stroke-width="1"/>
<line x1="231.1" y1="375.8" x2="231.1" y2="379.3" stroke="#333" stroke-width="1.2"/>
<text x="231.1" y="394.2" font-family="Liberation Serif" font-weight="bold" font-size="15.5" fill="#000" text-anchor="middle" >8</text>
<line x1="250.9" y1="375.8" x2="250.9" y2="377.8" stroke="#333" stroke-width="1"/>
<line x1="270.8" y1="375.8" x2="270.8" y2="379.3" stroke="#333" stroke-width="1.2"/>
<text x="270.8" y="394.2" font-family="Liberation Serif" font-weight="bold" font-size="15.5" fill="#000" text-anchor="middle" >10</text>
<line x1="290.7" y1="375.8" x2="290.7" y2="377.8" stroke="#333" stroke-width="1"/>
<line x1="310.5" y1="375.8" x2="310.5" y2="379.3" stroke="#333" stroke-width="1.2"/>
<text x="310.5" y="394.2" font-family="Liberation Serif" font-weight="bold" font-size="15.5" fill="#000" text-anchor="middle" >12</text>
<line x1="67.4" y1="375.9" x2="69.4" y2="375.9" stroke="#333" stroke-width="1"/>
<line x1="66.4" y1="358.0" x2="69.4" y2="358.0" stroke="#333" stroke-width="1.2"/>
<text x="63.2" y="363.9" font-family="Liberation Serif" font-weight="bold" font-size="15.5" fill="#000" text-anchor="end" >−2</text>
<line x1="67.4" y1="340.1" x2="69.4" y2="340.1" stroke="#333" stroke-width="1"/>
<line x1="66.4" y1="322.2" x2="69.4" y2="322.2" stroke="#333" stroke-width="1.2"/>
<text x="63.2" y="328.1" font-family="Liberation Serif" font-weight="bold" font-size="15.5" fill="#000" text-anchor="end" >−1</text>
<line x1="67.4" y1="304.4" x2="69.4" y2="304.4" stroke="#333" stroke-width="1"/>
<line x1="66.4" y1="286.5" x2="69.4" y2="286.5" stroke="#333" stroke-width="1.2"/>
<text x="63.2" y="292.4" font-family="Liberation Serif" font-weight="bold" font-size="15.5" fill="#000" text-anchor="end" >0</text>
<line x1="67.4" y1="268.6" x2="69.4" y2="268.6" stroke="#333" stroke-width="1"/>
<line x1="66.4" y1="250.8" x2="69.4" y2="250.8" stroke="#333" stroke-width="1.2"/>
<text x="63.2" y="256.6" font-family="Liberation Serif" font-weight="bold" font-size="15.5" fill="#000" text-anchor="end" >1</text>
<line x1="67.4" y1="232.9" x2="69.4" y2="232.9" stroke="#333" stroke-width="1"/>
<line x1="66.4" y1="215.0" x2="69.4" y2="215.0" stroke="#333" stroke-width="1.2"/>
<text x="63.2" y="220.9" font-family="Liberation Serif" font-weight="bold" font-size="15.5" fill="#000" text-anchor="end" >2</text>
<line x1="67.4" y1="197.1" x2="69.4" y2="197.1" stroke="#333" stroke-width="1"/>
<line x1="66.4" y1="179.2" x2="69.4" y2="179.2" stroke="#333" stroke-width="1.2"/>
<text x="63.2" y="185.2" font-family="Liberation Serif" font-weight="bold" font-size="15.5" fill="#000" text-anchor="end" >3</text>
<text transform="translate(38.9 272.5) rotate(-90)" x="0" y="0" font-family="Liberation Serif" font-weight="bold" font-size="19" text-anchor="middle" textLength="101.8" lengthAdjust="spacingAndGlyphs">Height (nm)</text>
<text x="116.8" y="418.1" font-family="Liberation Serif" font-weight="bold" font-size="19.0" fill="#000" text-anchor="start" textLength="123.5" lengthAdjust="spacingAndGlyphs" >Distance (µm)</text>
<rect x="399" y="181.2" width="241.4" height="196.8" fill="none" stroke="#555" stroke-width="1"/>
<line x1="399" y1="181.2" x2="399" y2="378" stroke="#555" stroke-width="1.5"/>
<line x1="399" y1="378" x2="640.4" y2="378" stroke="#555" stroke-width="1.5"/>
<line x1="401" y1="271" x2="639.4" y2="271" stroke="#aaa" stroke-width="1" stroke-dasharray="4 3"/>
<line x1="403.0" y1="378" x2="403.0" y2="381.5" stroke="#333" stroke-width="1.2"/>
<text x="403.0" y="396.4" font-family="Liberation Serif" font-weight="bold" font-size="15.5" fill="#000" text-anchor="middle" >0</text>
<line x1="422.4" y1="378" x2="422.4" y2="380" stroke="#333" stroke-width="1"/>
<line x1="441.9" y1="378" x2="441.9" y2="381.5" stroke="#333" stroke-width="1.2"/>
<text x="441.9" y="396.4" font-family="Liberation Serif" font-weight="bold" font-size="15.5" fill="#000" text-anchor="middle" >2</text>
<line x1="461.4" y1="378" x2="461.4" y2="380" stroke="#333" stroke-width="1"/>
<line x1="480.8" y1="378" x2="480.8" y2="381.5" stroke="#333" stroke-width="1.2"/>
<text x="480.8" y="396.4" font-family="Liberation Serif" font-weight="bold" font-size="15.5" fill="#000" text-anchor="middle" >4</text>
<line x1="500.2" y1="378" x2="500.2" y2="380" stroke="#333" stroke-width="1"/>
<line x1="519.7" y1="378" x2="519.7" y2="381.5" stroke="#333" stroke-width="1.2"/>
<text x="519.7" y="396.4" font-family="Liberation Serif" font-weight="bold" font-size="15.5" fill="#000" text-anchor="middle" >6</text>
<line x1="539.1" y1="378" x2="539.1" y2="380" stroke="#333" stroke-width="1"/>
<line x1="558.6" y1="378" x2="558.6" y2="381.5" stroke="#333" stroke-width="1.2"/>
<text x="558.6" y="396.4" font-family="Liberation Serif" font-weight="bold" font-size="15.5" fill="#000" text-anchor="middle" >8</text>
<line x1="578.0" y1="378" x2="578.0" y2="380" stroke="#333" stroke-width="1"/>
<line x1="597.5" y1="378" x2="597.5" y2="381.5" stroke="#333" stroke-width="1.2"/>
<text x="597.5" y="396.4" font-family="Liberation Serif" font-weight="bold" font-size="15.5" fill="#000" text-anchor="middle" >10</text>
<line x1="617.0" y1="378" x2="617.0" y2="380" stroke="#333" stroke-width="1"/>
<line x1="636.4" y1="378" x2="636.4" y2="381.5" stroke="#333" stroke-width="1.2"/>
<text x="636.4" y="396.4" font-family="Liberation Serif" font-weight="bold" font-size="15.5" fill="#000" text-anchor="middle" >12</text>
<line x1="396" y1="378.6" x2="399" y2="378.6" stroke="#333" stroke-width="1.2"/>
<text x="392.0" y="384.4" font-family="Liberation Serif" font-weight="bold" font-size="15.5" fill="#000" text-anchor="end" >−15</text>
<line x1="397" y1="360.6" x2="399" y2="360.6" stroke="#333" stroke-width="1"/>
<line x1="396" y1="342.7" x2="399" y2="342.7" stroke="#333" stroke-width="1.2"/>
<text x="392.0" y="348.6" font-family="Liberation Serif" font-weight="bold" font-size="15.5" fill="#000" text-anchor="end" >−10</text>
<line x1="397" y1="324.8" x2="399" y2="324.8" stroke="#333" stroke-width="1"/>
<line x1="396" y1="306.9" x2="399" y2="306.9" stroke="#333" stroke-width="1.2"/>
<text x="392.0" y="312.8" font-family="Liberation Serif" font-weight="bold" font-size="15.5" fill="#000" text-anchor="end" >−5</text>
<line x1="397" y1="288.9" x2="399" y2="288.9" stroke="#333" stroke-width="1"/>
<line x1="396" y1="271.0" x2="399" y2="271.0" stroke="#333" stroke-width="1.2"/>
<text x="392.0" y="276.9" font-family="Liberation Serif" font-weight="bold" font-size="15.5" fill="#000" text-anchor="end" >0</text>
<line x1="397" y1="253.1" x2="399" y2="253.1" stroke="#333" stroke-width="1"/>
<line x1="396" y1="235.2" x2="399" y2="235.2" stroke="#333" stroke-width="1.2"/>
<text x="392.0" y="241.1" font-family="Liberation Serif" font-weight="bold" font-size="15.5" fill="#000" text-anchor="end" >5</text>
<line x1="397" y1="217.2" x2="399" y2="217.2" stroke="#333" stroke-width="1"/>
<line x1="396" y1="199.3" x2="399" y2="199.3" stroke="#333" stroke-width="1.2"/>
<text x="392.0" y="205.2" font-family="Liberation Serif" font-weight="bold" font-size="15.5" fill="#000" text-anchor="end" >10</text>
<line x1="397" y1="181.4" x2="399" y2="181.4" stroke="#333" stroke-width="1"/>
<text transform="translate(364.2 273.9) rotate(-90)" x="0" y="0" font-family="Liberation Serif" font-weight="bold" font-size="19" text-anchor="middle" textLength="107.3" lengthAdjust="spacingAndGlyphs">Height (nm)</text>
<text x="458.6" y="417.7" font-family="Liberation Serif" font-weight="bold" font-size="19.0" fill="#000" text-anchor="start" textLength="124.4" lengthAdjust="spacingAndGlyphs" >Distance (µm)</text>
<rect x="730.3" y="180.8" width="241.4" height="197.4" fill="none" stroke="#555" stroke-width="1"/>
<line x1="730.3" y1="180.8" x2="730.3" y2="378.2" stroke="#555" stroke-width="1.5"/>
<line x1="730.3" y1="378.2" x2="971.7" y2="378.2" stroke="#555" stroke-width="1.5"/>
<line x1="732.3" y1="290.5" x2="970.7" y2="290.5" stroke="#aaa" stroke-width="1" stroke-dasharray="4 3"/>
<line x1="733.8" y1="378.2" x2="733.8" y2="381.7" stroke="#333" stroke-width="1.2"/>
<text x="733.8" y="396.6" font-family="Liberation Serif" font-weight="bold" font-size="15.5" fill="#000" text-anchor="middle" >0</text>
<line x1="753.3" y1="378.2" x2="753.3" y2="380.2" stroke="#333" stroke-width="1"/>
<line x1="772.8" y1="378.2" x2="772.8" y2="381.7" stroke="#333" stroke-width="1.2"/>
<text x="772.8" y="396.6" font-family="Liberation Serif" font-weight="bold" font-size="15.5" fill="#000" text-anchor="middle" >2</text>
<line x1="792.3" y1="378.2" x2="792.3" y2="380.2" stroke="#333" stroke-width="1"/>
<line x1="811.8" y1="378.2" x2="811.8" y2="381.7" stroke="#333" stroke-width="1.2"/>
<text x="811.8" y="396.6" font-family="Liberation Serif" font-weight="bold" font-size="15.5" fill="#000" text-anchor="middle" >4</text>
<line x1="831.3" y1="378.2" x2="831.3" y2="380.2" stroke="#333" stroke-width="1"/>
<line x1="850.8" y1="378.2" x2="850.8" y2="381.7" stroke="#333" stroke-width="1.2"/>
<text x="850.8" y="396.6" font-family="Liberation Serif" font-weight="bold" font-size="15.5" fill="#000" text-anchor="middle" >6</text>
<line x1="870.3" y1="378.2" x2="870.3" y2="380.2" stroke="#333" stroke-width="1"/>
<line x1="889.8" y1="378.2" x2="889.8" y2="381.7" stroke="#333" stroke-width="1.2"/>
<text x="889.8" y="396.6" font-family="Liberation Serif" font-weight="bold" font-size="15.5" fill="#000" text-anchor="middle" >8</text>
<line x1="909.3" y1="378.2" x2="909.3" y2="380.2" stroke="#333" stroke-width="1"/>
<line x1="928.8" y1="378.2" x2="928.8" y2="381.7" stroke="#333" stroke-width="1.2"/>
<text x="928.8" y="396.6" font-family="Liberation Serif" font-weight="bold" font-size="15.5" fill="#000" text-anchor="middle" >10</text>
<line x1="948.3" y1="378.2" x2="948.3" y2="380.2" stroke="#333" stroke-width="1"/>
<line x1="967.8" y1="378.2" x2="967.8" y2="381.7" stroke="#333" stroke-width="1.2"/>
<text x="967.8" y="396.6" font-family="Liberation Serif" font-weight="bold" font-size="15.5" fill="#000" text-anchor="middle" >12</text>
<line x1="727.3" y1="372.7" x2="730.3" y2="372.7" stroke="#333" stroke-width="1.2"/>
<text x="726.0" y="378.6" font-family="Liberation Serif" font-weight="bold" font-size="15.5" fill="#000" text-anchor="end" >−30</text>
<line x1="728.3" y1="352.1" x2="730.3" y2="352.1" stroke="#333" stroke-width="1"/>
<line x1="727.3" y1="331.6" x2="730.3" y2="331.6" stroke="#333" stroke-width="1.2"/>
<text x="726.0" y="337.5" font-family="Liberation Serif" font-weight="bold" font-size="15.5" fill="#000" text-anchor="end" >−15</text>
<line x1="728.3" y1="311.1" x2="730.3" y2="311.1" stroke="#333" stroke-width="1"/>
<line x1="727.3" y1="290.5" x2="730.3" y2="290.5" stroke="#333" stroke-width="1.2"/>
<text x="726.0" y="296.4" font-family="Liberation Serif" font-weight="bold" font-size="15.5" fill="#000" text-anchor="end" >0</text>
<line x1="728.3" y1="269.9" x2="730.3" y2="269.9" stroke="#333" stroke-width="1"/>
<line x1="727.3" y1="249.4" x2="730.3" y2="249.4" stroke="#333" stroke-width="1.2"/>
<text x="726.0" y="255.3" font-family="Liberation Serif" font-weight="bold" font-size="15.5" fill="#000" text-anchor="end" >15</text>
<line x1="728.3" y1="228.8" x2="730.3" y2="228.8" stroke="#333" stroke-width="1"/>
<line x1="727.3" y1="208.3" x2="730.3" y2="208.3" stroke="#333" stroke-width="1.2"/>
<text x="726.0" y="214.2" font-family="Liberation Serif" font-weight="bold" font-size="15.5" fill="#000" text-anchor="end" >30</text>
<line x1="728.3" y1="187.8" x2="730.3" y2="187.8" stroke="#333" stroke-width="1"/>
<text transform="translate(698.3 275.0) rotate(-90)" x="0" y="0" font-family="Liberation Serif" font-weight="bold" font-size="19" text-anchor="middle" textLength="102.0" lengthAdjust="spacingAndGlyphs">Height (nm)</text>
<text x="792.8" y="415.8" font-family="Liberation Serif" font-weight="bold" font-size="19.0" fill="#000" text-anchor="start" textLength="124.4" lengthAdjust="spacingAndGlyphs" >Distance (µm)</text>
<polyline points="72.7,235.4 76.3,238.5 78.8,244.0 80.3,256.3 82.5,267.6 84.9,269.1 89.5,269.1 94.1,267.9 98.7,266.4 100.3,266.4 101.8,244.0 104.2,229.3 107.9,231.7 110.4,237.9 113.4,253.2 116.2,266.1 120.2,268.5 124.8,266.1 129.4,259.3 134.9,252.6 139.5,245.8 141.0,247.0 144.1,255.3 147.2,263.3 149.3,274.6 152.4,282.3 157.0,293.0 161.6,302.2 166.2,307.5 170.8,311.4 175.4,313.0 180.0,313.6 184.0,317.6 187.6,328.3 189.2,342.1 192.2,351.3 194.0,360.5 197.3,352.8 202.5,337.5 205.8,340.6 210.1,344.6 215.7,342.7 219.3,341.5 222.4,331.4 225.8,316.0 231.0,311.4 235.6,310.5 241.7,308.4 246.3,306.2 250.9,302.2 252.5,293.0 256.1,283.8 262.3,275.6 267.2,279.2 271.5,286.9 276.4,283.8 281.6,278.6 287.7,270.7 292.3,262.4 295.4,251.7 297.8,243.1 300.0,227.1 300.9,208.7 301.5,195.8" fill="none" stroke="#000" stroke-width="2.25" stroke-linejoin="round" stroke-linecap="round"/>
<polyline points="402.5,241.3 405.5,236.8 408.4,230.2 411.4,221.8 414.4,218.3 417.4,217.4 420.4,226.3 422.5,233.8 424.0,248.7 425.5,269.7 427.0,289.1 428.5,308.5 430.9,332.4 433.9,345.9 436.8,357.8 439.8,365.3 442.8,363.8 445.8,360.8 448.8,356.9 451.2,347.4 453.3,332.4 455.7,311.5 457.8,287.6 458.7,269.7 459.6,241.3 461.3,226.3 463.1,213.5 466.1,203.9 469.1,196.4 472.7,194.0 475.7,195.5 479.6,202.4 482.3,209.9 484.1,223.3 486.8,232.3 489.1,247.2 491.5,265.2 494.2,286.1 496.6,296.0 499.0,292.1 502.6,278.6 504.1,260.7 506.2,242.8 509.2,233.2 510.4,245.8 511.6,263.7 514.0,281.6 515.4,293.0 518.1,300.0 521.6,302.5 524.6,299.5 526.4,290.6 528.4,281.6 530.0,269.7 532.0,260.7 534.4,254.7 536.5,244.3 539.5,238.3 542.5,230.8 544.9,227.8 548.5,226.9 552.4,228.4 555.3,224.8 558.3,221.2 561.3,220.3 564.3,224.8 568.2,230.8 570.3,239.8 573.3,251.7 576.3,263.7 579.3,278.6 581.3,293.6 583.7,311.5 585.2,332.4 587.3,344.4 589.1,356.3 592.1,363.8 595.1,364.7 598.7,359.3 602.3,351.8 606.2,339.9 609.1,333.9 611.2,317.5 613.6,299.5 616.6,278.6 619.6,268.2 622.0,256.2 624.1,245.8 627.1,242.8 630.1,244.3 633.1,248.1 636.0,251.7" fill="none" stroke="#000" stroke-width="2.25" stroke-linejoin="round" stroke-linecap="round"/>
<polyline points="734.5,273.9 737.6,265.5 740.6,256.4 742.7,251.0 745.7,250.4 748.1,252.8 749.0,268.5 750.5,289.6 752.6,303.2 754.1,319.8 755.7,339.4 757.8,348.4 760.8,352.4 763.8,354.5 765.6,358.4 767.7,364.4 770.1,360.5 772.9,362.6 775.3,365.0 778.3,360.5 781.9,353.0 783.7,345.4 785.8,339.4 790.3,339.4 795.8,338.8 797.9,325.8 800.0,301.7 801.8,268.5 803.9,238.3 804.8,221.7 807.2,220.2 809.0,206.7 811.5,196.7 815.1,197.6 818.1,201.5 821.1,206.7 822.9,220.2 824.1,247.4 825.3,277.5 827.2,301.7 829.6,322.8 832.6,333.4 837.1,335.5 841.6,337.9 845.0,342.4 846.5,337.9 848.6,322.8 850.4,304.7 851.0,283.6 853.4,276.0 856.5,267.9 860.1,262.5 864.0,258.8 866.7,264.0 869.1,267.0 871.2,274.5 872.8,307.7 874.6,318.3 875.8,334.9 878.2,343.9 880.6,353.0 881.8,368.6 887.2,368.6 893.3,368.6 897.8,368.0 899.3,362.6 905.3,362.6 906.2,354.5 909.9,353.0 915.9,351.5 921.9,348.4 925.8,343.9 929.5,339.4 932.5,337.3 934.9,340.9 938.5,346.3 941.5,350.0 947.6,350.0 958.1,350.0 962.6,347.0 965.7,343.3 967.2,340.3" fill="none" stroke="#000" stroke-width="2.25" stroke-linejoin="round" stroke-linecap="round"/>
<line x1="66.7" y1="429" x2="66.7" y2="615.1" stroke="#000" stroke-width="1.6"/>
<line x1="66.7" y1="615.1" x2="278.4" y2="615.1" stroke="#000" stroke-width="1.6"/>
<line x1="67.2" y1="614.6" x2="67.2" y2="621.6" stroke="#000" stroke-width="1.8"/>
<text x="68.2" y="637.4" font-family="Liberation Serif" font-weight="bold" font-size="14.5" fill="#000" text-anchor="middle" >0</text>
<line x1="125.5" y1="614.6" x2="125.5" y2="621.6" stroke="#000" stroke-width="1.8"/>
<text x="126.5" y="637.4" font-family="Liberation Serif" font-weight="bold" font-size="14.5" fill="#000" text-anchor="middle" >3</text>
<line x1="177.3" y1="614.6" x2="177.3" y2="621.6" stroke="#000" stroke-width="1.8"/>
<text x="178.3" y="637.4" font-family="Liberation Serif" font-weight="bold" font-size="14.5" fill="#000" text-anchor="middle" >6</text>
<line x1="228.4" y1="614.6" x2="228.4" y2="621.6" stroke="#000" stroke-width="1.8"/>
<text x="229.4" y="637.4" font-family="Liberation Serif" font-weight="bold" font-size="14.5" fill="#000" text-anchor="middle" >9</text>
<line x1="277.1" y1="614.6" x2="277.1" y2="621.6" stroke="#000" stroke-width="1.8"/>
<text x="278.1" y="637.4" font-family="Liberation Serif" font-weight="bold" font-size="14.5" fill="#000" text-anchor="middle" >12</text>
<line x1="60.2" y1="429" x2="67.2" y2="429" stroke="#000" stroke-width="1.8"/>
<text transform="translate(42.5 429.0) rotate(90)" x="0" y="0" font-family="Liberation Serif" font-weight="bold" font-size="14.5" text-anchor="middle">0</text>
<line x1="60.2" y1="479" x2="67.2" y2="479" stroke="#000" stroke-width="1.8"/>
<text transform="translate(42.5 479.0) rotate(90)" x="0" y="0" font-family="Liberation Serif" font-weight="bold" font-size="14.5" text-anchor="middle">10</text>
<line x1="60.2" y1="530" x2="67.2" y2="530" stroke="#000" stroke-width="1.8"/>
<text transform="translate(42.5 530.0) rotate(90)" x="0" y="0" font-family="Liberation Serif" font-weight="bold" font-size="14.5" text-anchor="middle">20</text>
<line x1="60.2" y1="584.7" x2="67.2" y2="584.7" stroke="#000" stroke-width="1.8"/>
<text transform="translate(42.5 584.7) rotate(90)" x="0" y="0" font-family="Liberation Serif" font-weight="bold" font-size="14.5" text-anchor="middle">30</text>
<line x1="60.2" y1="614.6" x2="67.2" y2="614.6" stroke="#000" stroke-width="1.8"/>
<rect x="284.8" y="429.1" width="11.9" height="186.7" fill="url(#jet)" stroke="#222" stroke-width="0.6"/>
<text x="301.4" y="453.0" font-family="Liberation Serif" font-weight="bold" font-size="14.5" fill="#000" text-anchor="start" textLength="39.2" lengthAdjust="spacingAndGlyphs" >700 K</text>
<text x="301.4" y="494.5" font-family="Liberation Serif" font-weight="bold" font-size="14.5" fill="#000" text-anchor="start" >600</text>
<text x="301.4" y="536.0" font-family="Liberation Serif" font-weight="bold" font-size="14.5" fill="#000" text-anchor="start" >500</text>
<text x="301.4" y="577.6" font-family="Liberation Serif" font-weight="bold" font-size="14.5" fill="#000" text-anchor="start" >400</text>
<text x="301.4" y="618.2" font-family="Liberation Serif" font-weight="bold" font-size="14.5" fill="#000" text-anchor="start" >300</text>
<text transform="translate(32.5 519.4) rotate(-90)" x="0" y="0" font-family="Liberation Serif" font-weight="bold" font-size="20" text-anchor="middle" textLength="55.3" lengthAdjust="spacingAndGlyphs">z [nm]</text>
<text x="157.6" y="656.5" font-family="Liberation Serif" font-weight="bold" font-size="20.0" fill="#000" text-anchor="start" textLength="55.9" lengthAdjust="spacingAndGlyphs" >x [µm]</text>
<line x1="405.5" y1="428.3" x2="405.5" y2="614.5" stroke="#000" stroke-width="1.6"/>
<line x1="405.5" y1="614.5" x2="618.5" y2="614.5" stroke="#000" stroke-width="1.6"/>
<line x1="405.8" y1="614" x2="405.8" y2="621" stroke="#000" stroke-width="1.8"/>
<text x="406.8" y="636.8" font-family="Liberation Serif" font-weight="bold" font-size="14.5" fill="#000" text-anchor="middle" >0</text>
<line x1="464.6" y1="614" x2="464.6" y2="621" stroke="#000" stroke-width="1.8"/>
<text x="465.6" y="636.8" font-family="Liberation Serif" font-weight="bold" font-size="14.5" fill="#000" text-anchor="middle" >3</text>
<line x1="516.4" y1="614" x2="516.4" y2="621" stroke="#000" stroke-width="1.8"/>
<text x="517.4" y="636.8" font-family="Liberation Serif" font-weight="bold" font-size="14.5" fill="#000" text-anchor="middle" >6</text>
<line x1="568.3" y1="614" x2="568.3" y2="621" stroke="#000" stroke-width="1.8"/>
<text x="569.3" y="636.8" font-family="Liberation Serif" font-weight="bold" font-size="14.5" fill="#000" text-anchor="middle" >9</text>
<line x1="617.6" y1="614" x2="617.6" y2="621" stroke="#000" stroke-width="1.8"/>
<text x="618.6" y="636.8" font-family="Liberation Serif" font-weight="bold" font-size="14.5" fill="#000" text-anchor="middle" >12</text>
<line x1="399" y1="428.6" x2="406" y2="428.6" stroke="#000" stroke-width="1.8"/>
<text transform="translate(381.0 428.6) rotate(90)" x="0" y="0" font-family="Liberation Serif" font-weight="bold" font-size="14.5" text-anchor="middle">0</text>
<line x1="399" y1="478.5" x2="406" y2="478.5" stroke="#000" stroke-width="1.8"/>
<text transform="translate(381.0 478.5) rotate(90)" x="0" y="0" font-family="Liberation Serif" font-weight="bold" font-size="14.5" text-anchor="middle">10</text>
<line x1="399" y1="529.9" x2="406" y2="529.9" stroke="#000" stroke-width="1.8"/>
<text transform="translate(381.0 529.9) rotate(90)" x="0" y="0" font-family="Liberation Serif" font-weight="bold" font-size="14.5" text-anchor="middle">20</text>
<line x1="399" y1="583.6" x2="406" y2="583.6" stroke="#000" stroke-width="1.8"/>
<text transform="translate(381.0 583.6) rotate(90)" x="0" y="0" font-family="Liberation Serif" font-weight="bold" font-size="14.5" text-anchor="middle">30</text>
<line x1="399" y1="614" x2="406" y2="614" stroke="#000" stroke-width="1.8"/>
<rect x="624.5" y="429.1" width="10.9" height="184.9" fill="url(#jet)" stroke="#222" stroke-width="0.6"/>
<text x="640.1" y="456.8" font-family="Liberation Serif" font-weight="bold" font-size="14.5" fill="#000" text-anchor="start" textLength="45.2" lengthAdjust="spacingAndGlyphs" >1050 K</text>
<text x="640.1" y="510.8" font-family="Liberation Serif" font-weight="bold" font-size="14.5" fill="#000" text-anchor="start" >800</text>
<text x="640.1" y="564.6" font-family="Liberation Serif" font-weight="bold" font-size="14.5" fill="#000" text-anchor="start" >550</text>
<text x="640.1" y="615.8" font-family="Liberation Serif" font-weight="bold" font-size="14.5" fill="#000" text-anchor="start" >300</text>
<text transform="translate(369.8 519.0) rotate(-90)" x="0" y="0" font-family="Liberation Serif" font-weight="bold" font-size="20" text-anchor="middle" textLength="55.9" lengthAdjust="spacingAndGlyphs">z [nm]</text>
<text x="496.6" y="656.0" font-family="Liberation Serif" font-weight="bold" font-size="20.0" fill="#000" text-anchor="start" textLength="56.0" lengthAdjust="spacingAndGlyphs" >x [µm]</text>
<line x1="734.5" y1="427.5" x2="734.5" y2="613.5" stroke="#000" stroke-width="1.6"/>
<line x1="734.5" y1="613.5" x2="946.4" y2="613.5" stroke="#000" stroke-width="1.6"/>
<line x1="734.6" y1="613" x2="734.6" y2="620" stroke="#000" stroke-width="1.8"/>
<text x="735.6" y="635.8" font-family="Liberation Serif" font-weight="bold" font-size="14.5" fill="#000" text-anchor="middle" >0</text>
<line x1="793.2" y1="613" x2="793.2" y2="620" stroke="#000" stroke-width="1.8"/>
<text x="794.2" y="635.8" font-family="Liberation Serif" font-weight="bold" font-size="14.5" fill="#000" text-anchor="middle" >3</text>
<line x1="845.3" y1="613" x2="845.3" y2="620" stroke="#000" stroke-width="1.8"/>
<text x="846.3" y="635.8" font-family="Liberation Serif" font-weight="bold" font-size="14.5" fill="#000" text-anchor="middle" >6</text>
<line x1="897.1" y1="613" x2="897.1" y2="620" stroke="#000" stroke-width="1.8"/>
<text x="898.1" y="635.8" font-family="Liberation Serif" font-weight="bold" font-size="14.5" fill="#000" text-anchor="middle" >9</text>
<line x1="945" y1="613" x2="945" y2="620" stroke="#000" stroke-width="1.8"/>
<text x="946.0" y="635.8" font-family="Liberation Serif" font-weight="bold" font-size="14.5" fill="#000" text-anchor="middle" >12</text>
<line x1="728" y1="427.5" x2="735" y2="427.5" stroke="#000" stroke-width="1.8"/>
<text transform="translate(711.0 427.5) rotate(90)" x="0" y="0" font-family="Liberation Serif" font-weight="bold" font-size="14.5" text-anchor="middle">0</text>
<line x1="728" y1="476.8" x2="735" y2="476.8" stroke="#000" stroke-width="1.8"/>
<text transform="translate(711.0 476.8) rotate(90)" x="0" y="0" font-family="Liberation Serif" font-weight="bold" font-size="14.5" text-anchor="middle">10</text>
<line x1="728" y1="529" x2="735" y2="529" stroke="#000" stroke-width="1.8"/>
<text transform="translate(711.0 529.0) rotate(90)" x="0" y="0" font-family="Liberation Serif" font-weight="bold" font-size="14.5" text-anchor="middle">20</text>
<line x1="728" y1="582.7" x2="735" y2="582.7" stroke="#000" stroke-width="1.8"/>
<text transform="translate(711.0 582.7) rotate(90)" x="0" y="0" font-family="Liberation Serif" font-weight="bold" font-size="14.5" text-anchor="middle">30</text>
<line x1="728" y1="613" x2="735" y2="613" stroke="#000" stroke-width="1.8"/>
<rect x="953" y="429.1" width="10.6" height="184.3" fill="url(#jet)" stroke="#222" stroke-width="0.6"/>
<text x="968.3" y="442.4" font-family="Liberation Serif" font-weight="bold" font-size="14.5" fill="#000" text-anchor="start" textLength="46.5" lengthAdjust="spacingAndGlyphs" >2800 K</text>
<text x="968.3" y="484.2" font-family="Liberation Serif" font-weight="bold" font-size="14.5" fill="#000" text-anchor="start" >2200</text>
<text x="968.3" y="525.9" font-family="Liberation Serif" font-weight="bold" font-size="14.5" fill="#000" text-anchor="start" >1600</text>
<text x="968.3" y="566.4" font-family="Liberation Serif" font-weight="bold" font-size="14.5" fill="#000" text-anchor="start" >1000</text>
<text x="968.3" y="608.2" font-family="Liberation Serif" font-weight="bold" font-size="14.5" fill="#000" text-anchor="start" >400</text>
<text transform="translate(699.8 517.7) rotate(-90)" x="0" y="0" font-family="Liberation Serif" font-weight="bold" font-size="20" text-anchor="middle" textLength="55.4" lengthAdjust="spacingAndGlyphs">z [nm]</text>
<text x="825.4" y="655.6" font-family="Liberation Serif" font-weight="bold" font-size="20.0" fill="#000" text-anchor="start" textLength="55.6" lengthAdjust="spacingAndGlyphs" >x [µm]</text>
</svg></div></body></html>
